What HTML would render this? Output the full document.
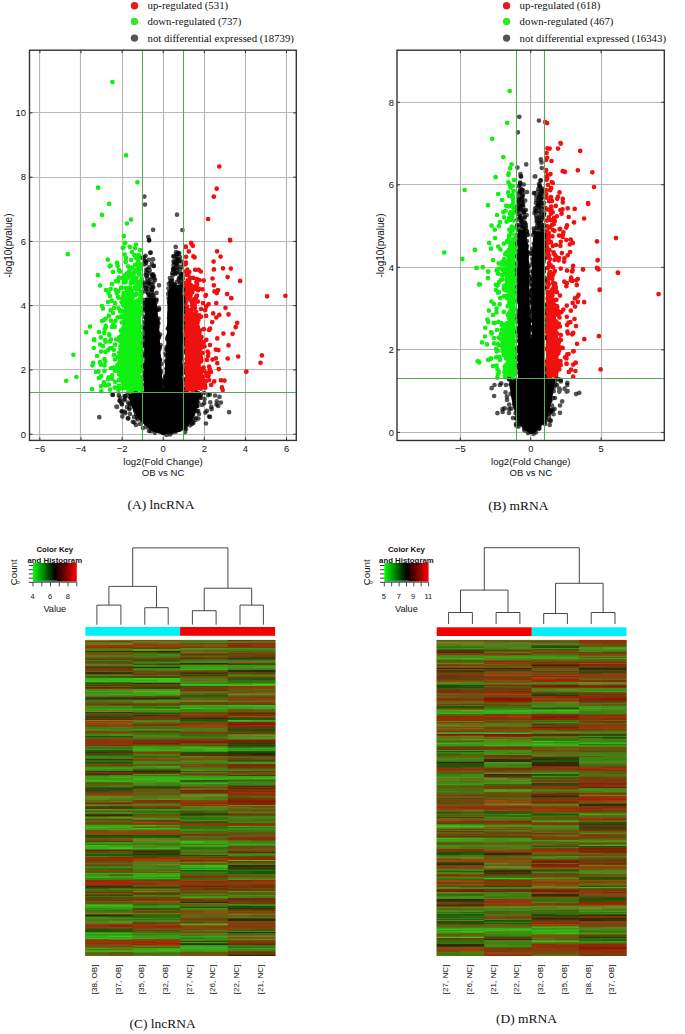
<!DOCTYPE html>
<html><head><meta charset="utf-8"><title>figure</title>
<style>html,body{margin:0;padding:0;background:#fff;}svg{display:block;}</style>
</head><body>
<svg width="685" height="1034" viewBox="0 0 685 1034">
<rect width="685" height="1034" fill="#fff"/>
<line x1="39.50" y1="50.2" x2="39.50" y2="440.4" stroke="#b8b8b8" stroke-width="1.2"/>
<line x1="80.50" y1="50.2" x2="80.50" y2="440.4" stroke="#b8b8b8" stroke-width="1.2"/>
<line x1="122.50" y1="50.2" x2="122.50" y2="440.4" stroke="#b8b8b8" stroke-width="1.2"/>
<line x1="163.50" y1="50.2" x2="163.50" y2="440.4" stroke="#b8b8b8" stroke-width="1.2"/>
<line x1="204.50" y1="50.2" x2="204.50" y2="440.4" stroke="#b8b8b8" stroke-width="1.2"/>
<line x1="245.50" y1="50.2" x2="245.50" y2="440.4" stroke="#b8b8b8" stroke-width="1.2"/>
<line x1="286.50" y1="50.2" x2="286.50" y2="440.4" stroke="#b8b8b8" stroke-width="1.2"/>
<line x1="29.5" y1="434.50" x2="296.3" y2="434.50" stroke="#b8b8b8" stroke-width="1.2"/>
<line x1="29.5" y1="369.50" x2="296.3" y2="369.50" stroke="#b8b8b8" stroke-width="1.2"/>
<line x1="29.5" y1="305.50" x2="296.3" y2="305.50" stroke="#b8b8b8" stroke-width="1.2"/>
<line x1="29.5" y1="241.50" x2="296.3" y2="241.50" stroke="#b8b8b8" stroke-width="1.2"/>
<line x1="29.5" y1="177.50" x2="296.3" y2="177.50" stroke="#b8b8b8" stroke-width="1.2"/>
<line x1="29.5" y1="112.50" x2="296.3" y2="112.50" stroke="#b8b8b8" stroke-width="1.2"/>
<line x1="460.50" y1="50.2" x2="460.50" y2="440.5" stroke="#b8b8b8" stroke-width="1.2"/>
<line x1="530.50" y1="50.2" x2="530.50" y2="440.5" stroke="#b8b8b8" stroke-width="1.2"/>
<line x1="601.50" y1="50.2" x2="601.50" y2="440.5" stroke="#b8b8b8" stroke-width="1.2"/>
<line x1="397" y1="432.50" x2="664.3" y2="432.50" stroke="#b8b8b8" stroke-width="1.2"/>
<line x1="397" y1="349.50" x2="664.3" y2="349.50" stroke="#b8b8b8" stroke-width="1.2"/>
<line x1="397" y1="267.50" x2="664.3" y2="267.50" stroke="#b8b8b8" stroke-width="1.2"/>
<line x1="397" y1="184.50" x2="664.3" y2="184.50" stroke="#b8b8b8" stroke-width="1.2"/>
<line x1="397" y1="102.50" x2="664.3" y2="102.50" stroke="#b8b8b8" stroke-width="1.2"/>
<polygon points="128.0,300.0 141.0,300.0 141.0,390.0 123.0,390.0 121.0,378.0 119.0,362.0 121.0,342.0 123.0,316.0" fill="#10f010"/>
<path d="M130.6 292.0h0M118.0 281.4h0M127.8 386.1h0M127.7 305.6h0M125.6 307.3h0M129.1 295.8h0M126.1 300.4h0M129.3 319.4h0M115.7 289.9h0M128.2 379.9h0M127.5 366.3h0M129.3 375.4h0M104.5 370.9h0M113.0 272.0h0M132.6 378.0h0M116.8 368.5h0M141.5 336.6h0M125.5 364.5h0M121.6 342.7h0M131.8 390.2h0M121.4 380.5h0M105.5 341.7h0M105.6 385.5h0M132.2 354.5h0M131.6 294.7h0M124.1 371.0h0M127.6 337.4h0M93.2 362.8h0M138.4 287.8h0M104.7 329.1h0M126.4 275.0h0M122.2 331.4h0M119.9 340.5h0M117.9 370.3h0M135.6 323.4h0M104.5 365.4h0M129.3 386.5h0M139.0 289.0h0M125.3 280.9h0M131.9 267.7h0M104.0 382.4h0M123.4 328.1h0M134.4 255.1h0M126.8 311.7h0M136.7 284.5h0M96.0 372.0h0M137.9 285.6h0M129.7 318.7h0M132.3 370.5h0M122.2 298.5h0M86.2 332.3h0M137.5 306.9h0M128.9 357.1h0M141.5 385.7h0M130.6 373.6h0M126.4 324.1h0M132.0 252.0h0M141.5 353.5h0M139.3 307.9h0M113.6 367.7h0M108.8 315.9h0M120.4 368.1h0M122.4 364.8h0M124.1 322.8h0M139.4 285.4h0M137.6 309.8h0M122.8 247.9h0M139.3 255.7h0M127.3 309.9h0M128.9 289.8h0M125.8 297.5h0M128.3 321.3h0M134.2 391.5h0M119.8 359.1h0M107.8 350.4h0M121.8 335.0h0M131.7 313.9h0M119.3 371.7h0M139.0 268.0h0M127.9 340.0h0M126.8 290.2h0M137.6 387.3h0M140.5 291.3h0M141.4 359.2h0M131.2 366.6h0M119.1 337.3h0M127.7 355.9h0M128.1 277.7h0M140.2 333.0h0M138.6 335.0h0M123.6 302.4h0M133.3 354.3h0M135.5 257.4h0M139.3 301.5h0M139.9 282.0h0M136.8 320.6h0M136.0 244.6h0M122.6 329.4h0M136.1 289.1h0M123.8 236.2h0M140.4 299.0h0M142.2 351.3h0M133.8 317.9h0M138.9 321.8h0M125.2 242.9h0M125.6 367.6h0M137.9 313.8h0M133.2 374.5h0M126.0 258.0h0M120.0 371.3h0M125.3 354.5h0M134.1 383.0h0M114.0 355.0h0M127.6 363.9h0M133.6 276.0h0M141.2 280.7h0M127.3 293.6h0M127.3 332.6h0M122.3 341.8h0M131.7 388.4h0M128.1 288.1h0M102.0 321.0h0M120.4 349.1h0M118.4 291.1h0M141.4 309.1h0M94.2 339.3h0M134.0 327.2h0M139.8 263.9h0M141.8 388.9h0M122.9 370.7h0M132.4 308.2h0M136.6 338.3h0M105.9 327.3h0M139.6 350.6h0M141.9 298.8h0M126.7 380.3h0M135.3 390.7h0M110.7 310.2h0M110.0 296.0h0M119.5 388.8h0M134.2 319.5h0M131.9 353.6h0M109.7 348.3h0M129.7 273.6h0M137.1 389.9h0M123.1 305.1h0M121.9 374.2h0M136.0 325.8h0M92.0 389.1h0M130.6 310.2h0M109.6 266.3h0M138.3 384.2h0M125.6 261.9h0M141.8 278.8h0M130.9 318.8h0M125.2 336.1h0M119.4 362.4h0M126.4 357.4h0M134.1 278.2h0M122.2 363.5h0M141.4 326.7h0M94.2 340.2h0M115.8 281.0h0M126.3 344.3h0M136.7 351.5h0M122.7 349.9h0M132.6 272.5h0M141.6 384.0h0M115.1 303.2h0M136.5 256.5h0M131.6 323.9h0M100.8 364.6h0M139.6 274.7h0M128.8 288.9h0M109.3 334.9h0M140.0 326.6h0M118.2 371.1h0M136.8 379.6h0M131.5 290.1h0M129.4 295.5h0M134.1 335.7h0M135.8 271.4h0M111.0 368.0h0M130.7 283.2h0M126.1 155.3h0M132.8 312.3h0M127.1 377.4h0M120.2 375.4h0M135.1 248.1h0M101.3 391.3h0M104.3 332.9h0M127.9 379.6h0M124.5 275.7h0M126.0 277.0h0M132.4 366.1h0M131.1 361.4h0M138.0 257.0h0M128.1 266.3h0M139.8 384.4h0M118.2 297.2h0M111.8 348.2h0M124.1 311.3h0M76.4 377.0h0M121.4 340.8h0M139.2 306.4h0M113.3 324.7h0M108.0 379.0h0M133.3 315.3h0M141.5 359.7h0M126.0 377.9h0M117.0 262.8h0M125.3 376.7h0M132.4 344.0h0M141.8 370.3h0M140.2 286.1h0M123.8 365.5h0M116.1 339.5h0M124.2 315.5h0M67.7 254.2h0M140.3 327.7h0M115.1 381.8h0M138.3 343.3h0M115.0 370.8h0M124.3 372.5h0M126.3 279.3h0M110.6 265.7h0M120.0 271.6h0M133.9 362.3h0M126.4 325.6h0M141.7 391.2h0M141.9 284.2h0M126.2 341.4h0M125.0 243.0h0M100.1 285.5h0M140.7 311.0h0M128.1 365.8h0M141.2 342.6h0M131.4 337.1h0M121.6 376.9h0M73.4 354.8h0M134.0 311.4h0M119.3 340.4h0M117.6 317.4h0M97.0 356.0h0M131.7 355.4h0M138.3 321.6h0M130.3 287.6h0M133.5 282.3h0M133.3 301.5h0M117.6 266.0h0M132.1 276.4h0M124.3 329.1h0M119.7 360.6h0M135.8 358.7h0M118.8 386.2h0M136.9 320.5h0M139.0 350.9h0M123.6 293.0h0M129.3 361.8h0M134.1 312.8h0M131.0 331.4h0M104.6 319.6h0M98.5 371.6h0M102.0 306.0h0M112.0 379.0h0M99.0 378.0h0M131.1 329.1h0M136.4 282.3h0M115.1 344.7h0M126.1 298.8h0M129.9 362.9h0M139.3 382.3h0M137.1 281.5h0M129.9 247.2h0M119.1 380.1h0M141.6 327.4h0M124.3 375.5h0M100.1 344.6h0M132.8 389.5h0M129.9 385.5h0M122.9 302.6h0M139.0 271.5h0M136.8 257.4h0M128.8 382.4h0M103.0 346.1h0M92.5 365.3h0M115.4 321.0h0M132.3 386.9h0M129.1 317.2h0M118.8 277.7h0M125.4 372.9h0M130.7 316.3h0M127.5 273.2h0M141.5 301.8h0M112.0 284.0h0M137.0 314.5h0M131.5 275.1h0M135.4 360.8h0M126.4 367.5h0M140.4 356.8h0M138.1 331.0h0M131.1 219.6h0M133.5 349.5h0M121.7 302.3h0M141.7 338.2h0M131.9 348.9h0M120.5 378.9h0M123.2 351.7h0M125.8 261.6h0M104.5 359.2h0M136.4 338.7h0M131.8 292.3h0M129.3 270.8h0M110.6 289.0h0M133.7 330.3h0M115.8 290.2h0M130.3 303.6h0M135.2 264.8h0M136.3 264.5h0M142.1 360.5h0M111.7 300.7h0M113.0 313.0h0M114.1 307.8h0M123.4 247.6h0M136.7 308.0h0M99.0 332.0h0M128.3 334.1h0M131.2 322.5h0M136.8 328.2h0M121.3 317.3h0M138.7 266.5h0M136.5 283.8h0M110.0 341.3h0M126.5 345.3h0M128.6 319.0h0M137.9 339.5h0M127.3 314.1h0M136.0 390.7h0M121.0 310.9h0M121.7 367.9h0M141.3 389.2h0M138.7 349.6h0M134.3 373.6h0M128.9 292.6h0M141.8 293.5h0M125.4 276.9h0M105.2 361.4h0M128.1 266.3h0M123.3 296.2h0M98.1 187.7h0M123.8 282.3h0M137.2 385.5h0M141.4 307.6h0M120.3 311.4h0M138.6 259.6h0M120.6 339.1h0M138.3 261.7h0M136.3 278.4h0M135.7 277.8h0M122.3 369.6h0M135.7 270.0h0M136.5 308.3h0M129.2 352.2h0M132.3 280.3h0M140.2 295.3h0M118.2 357.2h0M119.2 352.9h0M135.4 294.9h0M131.0 260.0h0M132.8 303.5h0M140.5 267.6h0M115.0 359.5h0M140.0 250.0h0M134.7 320.6h0M134.0 361.1h0M100.0 362.1h0M138.2 387.9h0M128.6 350.7h0M138.3 255.4h0M134.8 323.0h0M124.9 242.9h0M138.5 324.5h0M122.7 343.4h0M132.8 333.9h0M118.3 297.7h0M114.7 387.6h0M108.8 384.7h0M142.1 355.7h0M125.6 325.6h0M131.5 343.9h0M126.3 274.0h0M125.9 335.1h0M137.2 300.7h0M130.8 353.5h0M123.0 348.4h0M125.4 287.9h0M111.8 348.0h0M141.0 378.9h0M136.0 328.4h0M119.0 270.0h0M101.1 376.2h0M130.7 360.3h0M122.8 388.0h0M134.5 367.5h0M106.0 290.0h0M112.0 327.0h0M125.1 324.9h0M127.2 356.5h0M101.2 386.2h0M122.1 348.7h0M124.7 332.7h0M66.2 380.8h0M107.8 259.7h0M131.4 350.9h0M140.1 299.1h0M136.8 382.1h0M136.6 258.2h0M127.0 303.0h0M140.5 346.9h0M136.3 293.7h0M116.7 293.3h0M141.2 366.5h0M93.7 225.1h0M137.2 356.4h0M128.3 358.8h0M123.9 361.3h0M139.0 373.4h0M129.6 316.8h0M121.1 287.9h0M137.8 341.9h0M140.7 268.8h0M121.7 377.8h0M137.9 344.7h0M138.8 326.0h0M121.2 287.7h0M137.4 182.3h0M135.8 348.1h0M108.6 293.0h0M134.5 383.9h0M140.0 282.9h0M136.3 347.4h0M139.5 368.3h0M118.3 389.9h0M141.7 279.9h0M114.8 326.8h0M108.8 377.3h0M139.3 369.4h0M130.8 383.1h0M126.2 372.8h0M137.3 352.6h0M105.7 325.9h0M128.4 295.0h0M129.6 368.3h0M128.8 333.9h0M123.8 331.2h0M138.5 386.1h0M109.3 334.4h0M128.4 306.7h0M129.5 343.0h0M136.4 269.5h0M126.9 223.5h0M124.0 358.5h0M120.9 330.7h0M137.6 346.1h0M102.0 214.9h0M120.6 346.0h0M117.2 262.9h0M124.1 357.9h0M125.9 312.3h0M121.3 316.4h0M132.4 297.9h0M134.4 369.2h0M103.0 308.6h0M128.5 391.6h0M137.1 347.7h0M130.2 334.8h0M141.5 346.8h0M119.0 374.5h0M133.7 375.5h0M121.7 278.0h0M110.9 320.6h0M133.5 378.4h0M140.6 285.2h0M138.2 314.1h0M129.7 246.9h0M134.5 376.0h0M142.0 363.3h0M124.3 296.6h0M131.5 281.3h0M138.2 365.2h0M105.5 318.8h0M139.5 353.7h0M118.6 308.3h0M112.4 82.1h0M136.8 333.2h0M138.1 265.7h0M89.9 326.6h0M141.7 313.5h0M101.1 351.6h0M135.5 340.9h0M124.1 381.8h0M130.7 302.6h0M117.3 369.3h0M136.8 304.2h0M121.8 322.5h0M132.1 304.5h0M105.4 352.0h0M122.4 345.9h0M105.2 340.0h0M133.3 337.6h0M126.8 381.2h0M100.8 337.4h0M108.0 302.0h0M109.1 203.9h0M128.5 336.6h0M124.0 381.6h0M139.2 263.8h0M139.2 274.3h0M134.5 272.4h0M128.5 275.5h0M117.3 365.0h0M128.8 299.9h0M111.0 339.4h0M113.8 349.8h0M97.9 275.2h0M138.6 256.9h0M124.6 254.6h0M122.7 383.6h0M127.7 275.6h0M112.2 375.3h0M124.3 296.1h0M134.7 334.1h0M141.8 380.9h0M93.8 348.0h0M125.6 282.3h0M110.0 389.6h0M126.7 304.4h0M140.8 347.6h0M135.1 287.0h0M129.6 310.8h0" stroke="#10f010" stroke-width="4.7" stroke-linecap="round" fill="none"/>
<polygon points="185.0,308.0 192.0,308.0 197.0,322.0 201.0,338.0 200.0,352.0 201.0,368.0 205.0,378.0 200.0,390.0 185.0,390.0" fill="#f01010"/>
<path d="M193.4 256.4h0M212.5 278.5h0M194.6 364.8h0M191.0 320.2h0M195.9 373.4h0M196.1 311.8h0M200.8 271.5h0M186.8 319.8h0M194.7 288.9h0M193.9 302.1h0M198.7 378.5h0M187.4 390.8h0M193.7 346.1h0M237.2 322.8h0M199.9 359.0h0M196.8 318.1h0M192.2 305.5h0M191.4 321.7h0M198.6 332.3h0M195.8 369.6h0M187.1 308.4h0M193.9 385.3h0M240.1 280.9h0M195.8 357.7h0M202.4 289.3h0M202.1 347.2h0M204.5 346.4h0M230.8 268.6h0M195.4 334.7h0M186.9 365.3h0M193.0 356.6h0M227.6 277.1h0M246.4 371.6h0M184.9 351.8h0M232.6 333.8h0M189.8 348.4h0M187.9 328.5h0M200.5 339.4h0M200.9 357.7h0M193.2 317.8h0M198.3 379.8h0M200.0 388.1h0M192.0 353.4h0M192.2 308.9h0M188.1 354.3h0M186.9 366.3h0M193.9 345.1h0M198.7 269.8h0M192.3 387.5h0M190.0 296.2h0M199.9 330.4h0M186.3 367.8h0M206.1 315.9h0M192.4 348.4h0M196.4 296.6h0M187.9 389.2h0M192.3 286.4h0M197.4 371.1h0M185.8 309.4h0M185.7 389.8h0M201.0 388.6h0M198.8 374.6h0M185.8 246.6h0M188.9 358.7h0M188.1 348.4h0M189.8 313.0h0M213.2 313.4h0M200.5 336.8h0M188.8 294.0h0M194.0 321.8h0M187.8 386.2h0M216.3 303.2h0M205.9 295.1h0M189.0 330.9h0M209.7 369.0h0M216.8 293.1h0M190.5 370.9h0M194.6 304.7h0M190.7 287.8h0M216.7 188.7h0M188.4 310.0h0M194.5 327.4h0M217.3 338.4h0M200.4 375.0h0M185.5 343.3h0M192.7 355.3h0M207.6 351.5h0M186.4 297.8h0M186.3 335.0h0M191.7 340.5h0M187.3 269.7h0M202.8 369.1h0M196.4 285.5h0M186.8 378.6h0M206.4 373.6h0M198.4 320.1h0M193.3 349.3h0M199.0 350.0h0M189.5 314.7h0M224.5 380.6h0M189.4 337.6h0M197.1 376.6h0M189.2 371.2h0M197.4 333.8h0M192.1 338.3h0M201.0 376.4h0M190.6 331.4h0M193.9 365.1h0M199.3 379.0h0M185.8 363.9h0M230.2 240.4h0M213.9 285.3h0M205.2 310.0h0M195.7 366.1h0M215.8 358.3h0M192.2 342.5h0M185.2 372.5h0M195.0 307.8h0M190.5 294.9h0M184.2 299.7h0M210.1 328.7h0M208.6 375.8h0M189.5 286.1h0M188.6 338.6h0M209.0 330.0h0M201.3 368.9h0M185.7 264.1h0M205.5 295.8h0M191.8 341.0h0M201.5 360.2h0M195.0 369.0h0M194.0 375.3h0M197.1 284.4h0M214.2 381.4h0M194.0 374.0h0M194.4 354.4h0M192.2 336.5h0M185.6 310.3h0M193.3 391.1h0M213.6 261.6h0M195.2 269.8h0M195.6 322.2h0M193.5 360.8h0M216.3 317.5h0M196.9 344.0h0M267.1 296.3h0M185.4 311.5h0M196.6 350.6h0M190.0 358.3h0M191.0 290.0h0M188.5 275.3h0M213.8 196.7h0M197.1 371.0h0M190.9 314.5h0M187.7 290.0h0M199.1 381.7h0M195.0 378.0h0M214.5 291.4h0M199.6 333.9h0M200.3 382.2h0M193.3 380.5h0M189.3 272.1h0M202.5 379.3h0M195.1 345.1h0M195.8 318.8h0M260.5 362.8h0M213.9 269.4h0M185.9 329.8h0M204.3 371.1h0M208.6 372.5h0M220.6 256.6h0M187.8 350.6h0M185.8 247.0h0M196.3 362.4h0M218.3 350.2h0M185.3 271.5h0M196.0 372.4h0M188.8 251.4h0M192.8 245.8h0M221.9 387.4h0M191.6 313.1h0M197.9 353.5h0M219.3 166.5h0M185.3 291.6h0M201.0 309.0h0M192.0 302.2h0M196.2 297.5h0M199.3 280.1h0M194.2 315.7h0M215.8 349.6h0M189.9 356.2h0M187.6 298.5h0M198.7 288.5h0M203.7 280.6h0M192.6 245.6h0M199.1 355.4h0M191.8 389.8h0M223.0 268.3h0M212.5 359.6h0M193.3 317.0h0M189.0 326.6h0M193.7 299.4h0M192.9 325.0h0M186.9 344.7h0M195.9 341.6h0M195.2 332.4h0M195.1 365.6h0M188.5 349.7h0M185.8 345.0h0M188.2 297.5h0M209.1 366.5h0M187.0 275.0h0M193.2 277.9h0M189.5 293.8h0M202.3 370.7h0M227.7 358.5h0M200.6 358.2h0M193.1 356.2h0M192.1 290.0h0M187.3 312.9h0M199.1 340.6h0M186.2 301.6h0M186.9 359.6h0M194.6 257.3h0M220.9 380.3h0M196.4 333.9h0M197.5 363.1h0M201.0 316.7h0M193.0 381.0h0M192.6 363.0h0M200.0 351.8h0M195.8 364.7h0M200.9 347.9h0M201.5 337.1h0M184.4 322.1h0M196.9 279.1h0M195.1 390.5h0M209.0 380.0h0M186.0 319.6h0M184.0 283.0h0M218.8 369.1h0M217.3 363.2h0M201.5 353.6h0M210.0 345.0h0M202.0 377.4h0M235.7 327.2h0M186.0 262.5h0M189.3 281.2h0M206.6 380.8h0M187.6 280.3h0M197.2 315.3h0M191.5 367.3h0M196.4 282.1h0M194.8 350.2h0M187.3 331.7h0M186.1 256.8h0M203.8 329.2h0M194.6 323.8h0M192.7 316.4h0M199.9 343.0h0M194.7 363.8h0M188.8 282.0h0M188.8 289.4h0M185.2 391.1h0M185.0 298.8h0M190.0 312.7h0M192.2 303.4h0M219.3 314.9h0M185.8 287.3h0M225.5 307.8h0M197.9 301.6h0M231.4 298.2h0M185.2 295.2h0M194.3 286.8h0M223.4 333.6h0M261.9 355.4h0M187.2 335.0h0M194.7 342.0h0M188.0 345.9h0M206.1 306.7h0M200.9 386.7h0M231.1 298.1h0M190.6 338.2h0M186.3 346.1h0M192.3 292.2h0M197.0 295.5h0M186.9 310.7h0M185.7 331.2h0M186.7 274.7h0M189.9 357.2h0M190.8 300.0h0M188.6 361.2h0M188.8 384.6h0M198.1 290.2h0M190.7 334.4h0M189.7 352.2h0M184.5 368.3h0M199.6 383.1h0M194.7 385.6h0M191.3 243.4h0M184.7 383.5h0M195.6 351.0h0M201.5 352.5h0M200.1 379.4h0M238.2 356.5h0M189.0 325.6h0M211.0 372.0h0M186.9 337.3h0M193.3 380.9h0M206.4 375.8h0M208.1 219.0h0M191.1 242.9h0M195.0 359.1h0M218.0 290.2h0M189.2 375.8h0M187.0 293.7h0M192.3 303.0h0M185.8 382.6h0M202.5 382.3h0M198.1 347.5h0M201.6 381.9h0M184.9 342.1h0M205.3 387.7h0M200.4 376.2h0M203.6 367.6h0M188.7 324.0h0M285.4 295.8h0M201.0 361.6h0M206.9 359.9h0M184.1 264.5h0M228.5 345.3h0M201.7 387.6h0M193.5 369.4h0M192.2 374.0h0M190.5 329.4h0M211.2 384.9h0M196.0 385.7h0M203.0 303.0h0M208.6 304.2h0M197.7 384.6h0M184.2 317.9h0M197.9 327.1h0M198.9 355.7h0M199.4 315.4h0M186.5 284.8h0M185.2 339.1h0M206.4 339.8h0M194.6 328.3h0M230.0 239.8h0M191.1 325.9h0M194.5 387.2h0M184.9 370.2h0M186.1 364.5h0M208.3 353.3h0M197.3 377.5h0M197.7 361.5h0M190.8 285.2h0M222.7 390.0h0M201.3 346.1h0M186.1 383.0h0M197.8 374.1h0M186.4 391.0h0M191.7 362.5h0M204.9 384.9h0M198.0 366.4h0M227.1 294.1h0M190.4 372.7h0M197.5 323.1h0M212.2 322.1h0M217.1 251.3h0M186.3 288.7h0M246.2 371.8h0M187.4 336.0h0M189.9 278.0h0M203.9 342.1h0M202.6 353.0h0M228.5 314.4h0M208.0 356.0h0M185.3 326.8h0M189.7 361.0h0M185.3 303.1h0M187.1 306.5h0M190.6 295.2h0" stroke="#f01010" stroke-width="4.7" stroke-linecap="round" fill="none"/>
<polygon points="145.0,298.0 155.0,298.0 157.0,305.0 159.3,330.0 161.0,360.0 162.8,388.0 163.6,388.0 165.5,360.0 167.0,330.0 167.5,300.0 168.5,290.0 172.0,285.0 182.5,285.0 182.5,392.5 201.0,392.5 198.5,402.5 196.0,411.3 192.5,420.0 187.5,427.0 180.5,431.8 163.0,434.8 153.0,431.8 147.0,427.0 139.5,420.0 133.5,411.3 130.0,402.5 128.5,394.0 144.0,392.5" fill="#000"/>
<path d="M175.3 285.9h0M192.0 424.0h0M172.2 383.3h0M196.5 392.5h0M179.0 331.0h0M181.9 290.3h0M147.3 382.6h0M165.2 376.5h0M124.9 396.4h0M149.7 385.5h0M149.1 240.0h0M148.5 304.5h0M160.8 380.1h0M172.2 273.2h0M194.1 419.0h0M149.7 322.5h0M153.4 309.8h0M181.9 290.5h0M177.3 323.4h0M199.7 395.5h0M150.0 331.2h0M182.5 342.2h0M169.0 317.9h0M171.0 314.4h0M147.2 340.0h0M197.3 396.6h0M178.2 304.0h0M146.5 411.1h0M183.1 297.9h0M146.8 276.9h0M159.6 347.0h0M151.9 263.6h0M157.4 376.8h0M170.5 282.6h0M171.4 398.3h0M177.2 267.9h0M182.9 426.4h0M148.9 329.4h0M184.6 393.7h0M154.0 307.6h0M150.6 385.3h0M181.2 351.3h0M157.5 310.1h0M158.3 368.2h0M124.8 411.7h0M168.3 336.5h0M198.4 418.5h0M147.2 278.6h0M173.7 292.6h0M153.1 331.1h0M147.4 383.1h0M149.4 345.1h0M169.7 375.4h0M152.8 294.7h0M150.6 410.3h0M180.1 283.5h0M183.1 396.3h0M145.7 274.9h0M180.7 401.7h0M204.1 392.8h0M153.8 265.9h0M155.8 337.3h0M154.7 333.3h0M170.2 325.5h0M171.5 377.3h0M150.7 390.6h0M134.0 417.0h0M148.1 282.5h0M166.7 420.9h0M152.8 336.0h0M165.7 422.1h0M173.3 271.5h0M150.5 353.0h0M153.3 364.4h0M159.4 429.7h0M148.5 280.6h0M148.6 339.5h0M139.8 394.6h0M182.1 300.9h0M181.6 369.0h0M152.1 331.6h0M144.1 366.2h0M170.0 329.0h0M171.8 374.2h0M169.4 300.0h0M161.1 399.5h0M167.5 403.8h0M144.8 336.5h0M187.1 401.1h0M174.4 305.7h0M132.0 403.0h0M183.0 289.6h0M170.0 429.0h0M206.0 423.5h0M174.3 262.2h0M155.3 376.8h0M166.7 346.9h0M185.1 432.1h0M171.4 384.8h0M146.0 368.8h0M180.9 286.4h0M185.7 400.8h0M190.7 419.1h0M148.0 413.6h0M181.7 310.6h0M123.9 400.3h0M147.3 406.8h0M154.1 389.9h0M141.4 415.5h0M156.1 339.4h0M209.9 394.6h0M153.9 313.5h0M183.1 302.3h0M169.1 324.9h0M173.9 269.2h0M145.9 365.5h0M154.8 432.8h0M171.0 413.7h0M171.8 289.8h0M181.8 392.2h0M160.5 345.1h0M162.0 419.5h0M192.0 408.9h0M157.9 357.2h0M170.4 326.2h0M156.9 337.9h0M167.1 379.6h0M173.9 342.3h0M169.9 278.1h0M145.6 287.4h0M175.3 268.4h0M170.2 368.8h0M178.0 422.4h0M211.6 409.2h0M145.3 330.8h0M151.1 367.3h0M159.6 360.9h0M154.8 307.7h0M144.9 353.6h0M162.1 393.4h0M151.8 342.1h0M121.4 403.4h0M169.7 360.8h0M150.8 361.0h0M184.2 400.2h0M170.9 304.8h0M148.1 315.7h0M129.4 403.9h0M151.9 419.6h0M193.0 411.9h0M168.3 347.0h0M140.9 396.6h0M178.3 360.6h0M143.8 418.2h0M171.6 345.4h0M189.5 398.8h0M145.1 291.3h0M153.7 377.0h0M156.9 413.2h0M181.0 277.5h0M174.9 402.7h0M144.0 332.8h0M134.3 422.5h0M157.6 320.3h0M196.8 405.1h0M182.3 276.3h0M168.6 298.2h0M181.5 357.7h0M170.1 400.5h0M180.7 296.3h0M180.8 275.7h0M150.2 295.3h0M173.4 409.0h0M199.0 414.0h0M171.5 279.2h0M155.0 325.7h0M150.0 371.5h0M171.6 283.4h0M99.3 417.2h0M135.0 417.0h0M179.9 402.5h0M151.5 274.5h0M146.1 262.9h0M173.2 297.6h0M169.7 412.2h0M175.8 287.3h0M155.6 431.3h0M161.1 399.0h0M184.8 428.5h0M195.6 419.9h0M216.8 401.4h0M148.9 403.9h0M178.0 402.2h0M150.3 341.2h0M152.5 277.0h0M146.2 350.7h0M145.0 204.5h0M172.0 357.5h0M179.4 342.5h0M166.8 381.4h0M152.1 289.5h0M121.7 411.5h0M149.2 267.2h0M150.7 431.2h0M161.6 379.5h0M155.0 280.0h0M127.0 407.0h0M177.3 260.6h0M174.1 374.2h0M155.1 346.0h0M150.2 348.3h0M145.0 402.6h0M180.8 413.0h0M160.8 392.3h0M170.3 302.1h0M159.6 391.8h0M147.6 316.2h0M180.5 385.7h0M160.7 372.6h0M173.5 327.7h0M183.0 387.9h0M118.8 395.0h0M158.3 381.6h0M161.4 417.0h0M175.3 272.0h0M168.9 358.0h0M143.7 366.4h0M148.2 302.2h0M195.3 396.8h0M150.9 425.9h0M153.9 391.7h0M144.2 328.5h0M151.8 424.8h0M150.7 252.8h0M170.0 345.0h0M169.0 302.3h0M132.3 394.8h0M173.3 329.4h0M181.2 261.6h0M167.7 375.5h0M177.6 311.5h0M177.6 254.0h0M179.2 253.3h0M158.9 336.3h0M181.2 290.8h0M167.3 339.3h0M148.5 273.2h0M167.8 328.7h0M171.7 345.3h0M172.0 279.0h0M167.3 362.9h0M168.2 293.9h0M144.0 282.6h0M153.0 304.4h0M172.0 321.8h0M181.6 320.5h0M181.9 339.9h0M149.3 389.5h0M170.0 312.8h0M179.2 411.5h0M172.0 300.3h0M150.7 349.2h0M204.3 403.1h0M176.0 340.7h0M153.7 387.9h0M161.2 382.8h0M152.5 429.3h0M172.8 333.5h0M153.5 427.2h0" stroke="#000" stroke-width="4.7" stroke-linecap="round" fill="none" stroke-opacity="0.68"/>
<path d="M172.6 412.8h0M175.7 343.2h0M153.5 384.8h0M198.2 402.5h0M181.4 373.9h0M146.8 427.1h0M153.2 365.2h0M181.4 398.4h0M181.9 352.9h0M152.4 340.6h0M149.8 332.6h0M168.5 371.0h0M177.5 272.2h0M162.4 384.7h0M150.3 279.4h0M158.0 355.1h0M145.9 422.7h0M181.2 384.1h0M176.7 312.6h0M182.8 380.0h0M171.0 306.8h0M116.4 406.6h0M145.1 310.7h0M168.1 366.8h0M181.6 281.2h0M146.6 330.4h0M190.1 419.6h0M182.4 327.2h0M112.6 394.6h0M148.1 380.4h0M128.3 395.5h0M175.0 273.9h0M169.9 363.5h0M177.1 343.2h0M146.8 361.1h0M176.0 252.2h0M208.1 395.2h0M147.7 353.0h0M181.4 303.7h0M176.9 282.0h0M182.9 313.8h0M181.2 266.7h0M175.6 387.6h0M181.1 399.0h0M121.9 411.3h0M181.1 366.3h0M117.0 406.9h0M170.2 345.5h0M147.3 311.6h0M153.1 229.8h0M154.0 350.7h0M153.0 357.5h0M150.9 287.2h0M151.4 297.5h0M174.3 415.3h0M159.7 398.6h0M119.8 400.8h0M197.2 411.2h0M178.0 344.7h0M182.8 397.3h0M175.9 347.2h0M158.9 364.3h0M145.7 416.9h0M186.0 429.0h0M146.6 369.0h0M148.1 321.4h0M196.1 406.4h0M159.1 360.0h0M174.3 404.9h0M178.5 325.0h0M166.8 407.8h0M159.0 309.5h0M169.1 358.6h0M145.0 321.8h0M178.2 418.7h0M148.3 294.0h0M144.2 338.1h0M182.4 358.9h0M179.2 359.2h0M156.5 361.3h0M180.9 322.2h0M174.0 379.8h0M168.9 383.4h0M198.0 393.2h0M173.5 393.6h0M173.5 261.3h0M181.7 267.0h0M162.2 407.9h0M149.9 352.1h0M179.9 300.1h0M180.6 365.4h0M193.1 414.2h0M162.3 381.0h0M177.2 254.0h0M176.2 400.3h0M204.6 399.0h0M175.5 389.1h0M182.6 306.2h0M154.6 351.9h0M172.0 280.8h0M173.6 256.4h0M130.0 414.0h0M164.1 418.4h0M155.7 378.1h0M150.9 313.6h0M153.8 418.2h0M161.2 363.9h0M151.1 334.2h0M166.8 360.6h0M154.6 306.3h0M125.3 413.2h0M145.6 308.8h0M127.4 394.4h0M156.1 414.9h0M182.3 328.5h0M185.2 409.6h0M143.6 376.3h0M169.0 382.7h0M176.6 258.7h0M156.2 334.7h0M154.6 400.2h0M173.1 315.4h0M179.8 415.9h0M149.5 300.8h0M181.2 335.1h0M127.8 418.3h0M176.1 318.0h0M205.4 412.6h0M182.6 301.3h0M129.0 396.3h0M129.9 404.6h0M157.9 323.1h0M194.1 407.3h0M155.9 368.9h0M168.5 421.4h0M173.1 268.6h0M181.0 313.6h0M138.8 398.9h0M169.8 320.0h0M146.9 410.3h0M147.6 351.8h0M149.3 283.4h0M132.1 398.4h0M181.8 381.0h0M153.2 372.4h0M184.8 400.4h0M146.8 338.2h0M142.7 258.1h0M151.6 338.1h0M168.6 367.9h0M177.1 263.7h0M170.8 285.6h0M150.2 363.2h0M151.8 389.9h0M145.7 318.0h0M171.9 337.4h0M145.6 255.8h0M146.2 269.8h0M201.4 397.5h0M149.4 316.2h0M177.0 214.7h0M142.9 393.7h0M174.0 338.9h0M167.1 419.9h0M155.5 325.0h0M157.2 389.4h0M163.3 410.0h0M144.1 372.6h0M147.4 281.7h0M165.9 391.7h0M149.3 398.9h0M178.7 372.8h0M167.7 362.3h0M144.4 344.7h0M144.6 264.5h0M177.5 298.4h0M177.1 270.2h0M165.6 376.9h0M174.3 408.1h0M168.4 328.2h0M170.2 320.3h0M150.2 296.0h0M160.0 388.4h0M176.1 424.8h0M144.4 365.2h0M178.8 351.8h0M220.9 402.5h0M167.7 400.8h0M156.4 357.1h0M172.3 341.3h0M151.2 322.2h0M177.4 340.7h0M137.4 411.6h0M150.9 408.0h0M153.9 298.5h0M177.0 331.6h0M151.9 364.9h0M152.9 304.5h0M144.5 378.8h0M190.0 399.5h0M171.3 412.0h0M176.4 330.9h0M155.3 351.1h0M178.1 291.1h0M180.3 295.0h0M129.4 408.0h0M182.1 296.4h0M172.2 367.5h0M116.8 406.8h0M182.9 352.8h0M167.4 337.5h0M149.7 359.0h0M154.1 356.4h0M157.5 309.6h0M154.3 358.2h0M158.5 388.1h0M174.2 392.3h0M146.9 347.0h0M173.4 406.4h0M166.7 430.5h0M167.9 350.4h0M158.5 318.5h0M153.6 371.4h0M164.4 399.8h0M151.5 343.2h0M149.4 381.0h0M181.7 274.1h0M137.6 419.3h0M170.6 432.3h0M181.4 386.4h0M172.3 369.6h0M173.4 371.5h0M145.6 261.7h0M128.0 402.5h0M209.0 416.5h0M229.1 412.2h0M171.6 371.5h0M218.3 406.0h0M170.3 386.3h0M179.0 281.3h0M179.1 277.7h0M155.3 330.2h0M154.2 414.3h0M153.0 370.2h0M150.2 350.5h0M179.6 361.2h0M145.3 384.5h0M148.2 376.0h0M149.0 391.0h0M153.9 296.9h0M152.7 295.0h0M176.7 401.0h0M160.2 334.6h0M168.9 405.5h0M122.3 416.4h0M144.6 303.2h0M177.2 296.9h0M170.7 348.0h0M186.7 406.5h0M215.1 395.5h0M149.1 240.6h0M142.2 396.3h0M160.5 411.8h0M147.8 302.1h0M153.9 327.5h0M172.5 312.2h0M146.4 425.6h0M150.0 424.6h0M150.8 396.8h0" stroke="#000" stroke-width="4.7" stroke-linecap="round" fill="none" stroke-opacity="0.68"/>
<path d="M143.9 342.4h0M134.8 399.8h0M146.5 348.7h0M143.9 356.0h0M175.8 247.0h0M144.2 257.4h0M153.4 354.4h0M150.4 342.7h0M158.2 335.1h0M140.5 402.3h0M148.0 292.4h0M146.0 404.4h0M189.2 397.6h0M175.8 359.3h0M150.3 252.6h0M125.0 399.0h0M145.0 355.5h0M190.9 413.1h0M173.2 270.2h0M169.6 330.3h0M165.0 380.7h0M172.3 349.7h0M174.7 284.8h0M153.5 265.9h0M150.4 373.5h0M146.2 353.6h0M173.2 347.2h0M166.7 406.8h0M181.4 306.0h0M148.7 347.6h0M156.0 301.9h0M181.1 354.4h0M166.5 434.9h0M181.1 388.8h0M183.1 307.7h0M168.8 341.8h0M165.2 383.6h0M177.5 327.3h0M158.8 405.3h0M143.9 316.5h0M151.0 358.6h0M196.4 396.4h0M150.5 339.6h0M171.1 353.3h0M181.0 415.5h0M149.0 259.8h0M173.7 372.3h0M171.8 338.8h0M160.1 422.1h0M177.3 308.1h0M153.0 259.3h0M181.7 352.1h0M173.1 293.3h0M182.4 230.0h0M186.9 393.6h0M146.7 275.8h0M173.9 385.6h0M178.9 417.7h0M146.0 422.9h0M153.1 259.3h0M178.7 279.6h0M182.5 370.2h0M168.8 371.7h0M171.2 287.1h0M150.5 407.3h0M158.3 371.5h0M172.3 403.6h0M164.2 428.6h0M179.1 424.1h0M149.8 318.7h0M156.8 362.7h0M132.8 421.8h0M171.5 388.9h0M166.3 379.8h0M119.6 400.8h0M175.7 265.4h0M206.9 410.9h0M170.1 322.0h0M175.7 246.9h0M181.6 285.5h0M183.0 311.4h0M154.1 320.0h0M139.6 405.1h0M158.1 365.0h0M196.0 418.0h0M175.6 369.3h0M166.3 355.7h0M158.9 374.3h0M140.3 402.9h0M195.7 397.0h0M174.5 331.8h0M166.7 349.0h0M148.5 303.6h0M152.6 377.3h0M180.9 382.6h0M154.0 276.0h0M144.1 308.1h0M177.1 259.3h0M149.6 340.4h0M177.0 263.0h0M141.0 396.5h0M155.2 348.9h0M170.4 422.7h0M176.3 392.6h0M174.9 268.4h0M177.8 428.4h0M154.4 359.9h0M148.8 375.1h0M172.0 425.7h0M145.0 375.2h0M139.7 411.9h0M175.9 392.8h0M168.1 348.8h0M177.5 315.0h0M147.2 343.1h0M177.2 265.7h0M173.6 329.5h0M149.7 328.9h0M150.9 392.5h0M181.0 408.1h0M191.3 420.7h0M175.7 429.7h0M172.4 363.1h0M154.8 356.8h0M176.7 304.5h0M149.7 270.4h0M182.1 275.7h0M147.9 292.9h0M154.0 391.9h0M157.4 409.4h0M156.0 405.9h0M163.0 406.6h0M156.5 414.7h0M180.1 364.7h0M159.7 347.1h0M175.9 393.4h0M196.3 401.1h0M172.7 390.2h0M178.3 356.6h0M172.3 363.2h0M170.6 280.9h0M160.1 384.8h0M147.1 380.9h0M112.8 395.0h0M149.2 329.8h0M181.1 353.6h0M151.6 334.5h0M170.3 332.3h0M173.4 292.6h0M147.2 311.2h0M171.7 286.3h0M177.7 308.9h0M159.0 308.1h0M182.5 344.5h0M179.9 346.3h0M175.2 331.0h0M150.0 381.7h0M152.8 323.0h0M144.5 284.7h0M181.6 372.7h0M165.1 390.5h0M147.6 269.4h0M182.8 349.3h0M182.1 407.8h0M154.6 370.4h0M144.2 286.6h0M174.3 297.4h0M169.2 429.9h0M180.9 384.2h0M179.3 326.8h0M180.1 423.3h0M174.1 386.8h0M149.0 431.0h0M182.1 350.4h0M180.5 346.2h0M146.3 390.2h0M146.7 383.3h0M164.0 424.3h0M157.9 336.7h0M172.1 332.4h0M144.5 305.4h0M145.5 326.9h0M178.7 316.8h0M181.1 336.2h0M154.1 405.4h0M188.7 416.0h0M160.1 374.0h0M183.2 339.0h0M176.2 265.3h0M145.2 367.3h0M168.4 365.5h0M176.0 336.3h0M150.3 427.0h0M210.3 402.3h0M176.8 353.9h0M170.3 390.4h0M154.3 324.7h0M160.1 359.7h0M143.0 428.0h0M163.4 432.8h0M199.3 395.4h0M166.6 368.5h0M183.6 428.0h0M178.7 350.4h0M192.6 421.8h0M137.4 404.3h0M148.5 327.2h0M145.7 405.8h0M176.7 254.2h0M196.9 405.9h0M146.0 289.1h0M157.3 422.6h0M194.2 411.2h0M151.2 341.2h0M129.4 409.3h0M171.0 416.1h0M166.8 377.1h0M160.5 390.6h0M183.0 378.8h0M202.0 405.0h0M147.0 285.6h0M190.0 425.3h0M178.8 424.1h0M150.4 385.6h0M155.4 388.1h0M177.9 309.3h0M153.4 282.6h0M148.9 283.5h0M135.6 393.0h0M173.5 265.0h0M167.3 371.2h0M179.0 357.8h0M162.2 386.3h0M152.2 275.0h0M169.4 334.9h0M148.7 362.1h0M177.3 299.3h0M176.9 367.6h0M180.0 359.8h0M170.6 334.5h0M144.4 196.6h0M180.2 269.4h0M149.3 294.3h0M173.0 364.8h0M152.1 427.8h0M146.5 319.3h0M151.8 291.3h0M156.5 421.9h0M177.4 357.0h0M154.4 400.3h0M158.4 323.4h0M176.4 298.7h0M137.0 417.7h0M179.2 259.6h0M174.1 373.5h0M152.5 325.2h0M153.7 353.0h0M156.2 300.1h0M182.9 393.3h0M143.4 415.1h0M145.4 373.7h0M159.3 372.8h0M165.6 402.0h0M171.8 361.6h0M153.3 287.3h0M153.6 382.8h0M170.7 280.9h0M146.9 285.3h0M160.6 370.8h0" stroke="#000" stroke-width="4.7" stroke-linecap="round" fill="none" stroke-opacity="0.68"/>
<path d="M146.8 378.2h0M166.5 349.4h0M200.8 394.4h0M146.9 374.4h0M177.7 257.7h0M178.7 335.6h0M153.9 303.4h0M147.9 378.0h0M159.4 349.4h0M179.7 322.2h0M163.3 433.0h0M156.3 352.3h0M170.6 294.6h0M144.6 301.5h0M157.6 397.7h0M163.0 423.8h0M156.6 335.6h0M152.7 321.7h0M149.4 305.9h0M177.5 309.0h0M152.2 387.5h0M147.4 359.2h0M179.5 381.8h0M145.7 393.0h0M144.0 344.0h0M162.0 429.7h0M147.0 355.9h0M173.5 388.6h0M175.6 307.7h0M181.6 310.9h0M173.6 256.3h0M168.1 376.8h0M162.1 383.4h0M181.2 316.3h0M157.1 320.3h0M152.8 397.1h0M173.5 289.8h0M170.5 387.2h0M152.2 360.8h0M174.2 338.1h0M151.2 313.0h0M177.1 375.3h0M141.6 422.0h0M180.8 365.5h0M155.3 369.9h0M141.9 410.1h0M147.0 341.2h0M171.0 405.8h0M179.2 355.5h0M140.9 410.8h0M181.2 305.3h0M211.3 406.9h0M178.8 355.3h0M151.7 388.8h0M146.3 272.9h0M177.8 382.9h0M166.0 383.6h0M156.3 420.6h0M172.7 274.9h0M173.7 284.2h0M172.3 432.4h0M172.7 391.4h0M154.9 299.8h0M178.2 377.4h0M152.6 286.7h0M157.4 345.6h0M154.7 396.1h0M195.5 402.0h0M142.3 420.5h0M157.3 354.5h0M176.0 374.2h0M167.9 420.6h0M180.0 257.1h0M171.6 362.6h0M156.5 292.9h0M174.8 343.7h0M153.2 274.4h0M148.0 367.8h0M151.6 284.3h0M170.8 430.9h0M145.0 261.0h0M182.1 389.2h0M189.1 411.6h0M145.3 323.9h0M154.2 316.0h0M167.7 408.5h0M148.9 388.0h0M158.9 337.7h0M154.2 278.3h0M151.0 317.6h0M182.2 317.3h0M177.9 378.9h0M176.5 288.5h0M148.4 315.2h0M191.9 410.6h0M124.9 396.0h0M148.3 237.1h0M172.3 394.5h0M143.2 415.3h0M182.6 373.1h0M142.2 416.7h0M152.3 329.8h0M183.1 323.2h0M148.5 374.9h0M173.7 310.8h0M168.8 283.8h0M154.6 314.2h0M157.2 354.6h0M191.7 409.6h0M146.9 300.3h0M155.2 415.1h0M176.8 273.0h0M169.7 325.2h0M168.2 348.1h0M182.6 337.9h0M164.6 427.9h0M197.4 395.2h0M179.7 291.4h0M178.3 252.9h0M182.7 278.7h0M168.3 335.8h0M148.4 297.9h0M181.4 305.3h0M155.3 419.0h0M151.3 419.2h0M156.9 349.5h0M150.8 380.0h0M172.8 321.6h0M145.9 392.9h0M181.0 308.8h0M136.0 414.2h0M155.0 314.9h0M159.0 285.3h0M198.2 411.1h0M181.2 424.9h0M173.4 354.4h0M150.5 395.3h0M140.0 424.0h0M158.0 332.9h0M165.6 389.5h0M172.5 318.3h0M158.9 356.3h0M177.3 340.5h0M157.6 333.5h0M154.7 346.9h0M179.6 326.0h0M168.5 288.3h0M183.1 408.9h0M152.8 361.6h0M169.6 380.7h0M181.1 273.5h0M157.8 367.0h0M151.4 344.9h0M210.0 416.9h0M156.9 319.2h0M166.9 368.5h0M165.6 353.6h0M200.0 398.0h0M148.2 344.8h0M151.5 314.4h0M175.7 431.8h0M179.3 356.8h0M216.5 404.6h0M168.3 412.8h0M177.5 403.1h0M144.6 327.7h0M175.5 391.5h0M169.7 409.2h0M179.6 296.0h0M153.7 419.2h0M185.6 424.2h0M171.6 341.6h0M181.7 276.9h0M164.5 409.8h0M145.8 326.3h0M180.9 407.6h0M170.1 434.4h0M175.5 264.1h0M145.9 386.5h0M149.9 312.1h0M177.9 394.8h0M150.2 300.4h0M145.6 299.8h0M181.9 366.8h0M153.0 298.4h0M179.0 322.0h0M156.1 364.0h0M151.4 325.4h0M158.9 417.4h0M157.8 326.7h0M156.6 299.9h0M143.7 419.6h0M180.5 328.7h0M171.0 319.1h0M183.0 299.9h0M151.9 290.2h0M146.2 377.9h0M178.8 255.6h0M130.4 398.0h0M161.3 397.9h0M193.3 422.9h0M177.7 318.3h0M170.9 293.7h0M170.0 295.7h0M179.3 261.0h0M182.2 333.3h0M145.3 416.8h0M219.5 396.9h0M176.5 418.2h0M188.0 420.0h0M156.3 324.3h0M171.4 307.8h0M119.8 397.5h0M197.5 406.0h0M170.6 385.3h0M150.8 317.8h0M178.5 301.5h0M146.3 363.8h0M153.3 358.7h0M191.0 396.5h0M172.8 406.9h0M138.4 402.8h0M135.4 411.3h0M144.1 346.1h0M165.9 361.5h0M171.3 370.7h0M176.1 385.4h0M173.2 324.0h0M180.5 364.7h0M176.2 313.0h0M147.6 301.3h0M172.4 366.6h0M169.3 354.5h0M135.9 425.0h0M153.6 369.3h0M148.9 394.5h0M156.7 373.9h0M154.8 318.9h0M188.5 414.0h0M137.5 413.7h0M141.9 412.7h0M159.5 386.3h0M166.7 389.3h0M150.7 379.1h0M147.9 288.9h0M144.9 308.9h0M151.3 362.3h0M147.7 415.5h0M149.7 394.9h0M175.5 365.2h0M122.0 404.5h0M148.8 379.1h0M169.3 291.1h0M154.1 313.8h0M128.4 418.3h0M168.5 351.5h0M166.8 378.5h0M174.0 384.4h0M174.7 401.2h0M172.6 332.6h0M150.0 306.1h0M152.6 416.7h0M181.0 427.2h0M149.6 312.4h0M184.3 402.1h0M155.6 403.5h0M169.4 314.5h0M149.3 328.3h0M179.7 317.4h0" stroke="#000" stroke-width="4.7" stroke-linecap="round" fill="none" stroke-opacity="0.68"/>
<polygon points="510.0,244.0 515.5,244.0 515.5,377.0 507.0,377.0 506.0,357.0 503.5,348.0 503.5,330.0 509.0,318.0 509.0,300.0 505.0,285.0 505.0,270.0 508.0,254.0" fill="#10f010"/>
<path d="M503.8 296.4h0M513.8 272.0h0M511.6 270.2h0M494.8 229.7h0M510.6 310.9h0M512.8 198.4h0M502.2 274.9h0M506.6 328.5h0M512.3 282.3h0M514.0 180.0h0M509.7 91.0h0M514.1 373.4h0M514.6 374.1h0M500.4 249.5h0M514.5 267.1h0M479.1 284.4h0M511.5 347.0h0M501.8 325.2h0M511.3 244.6h0M511.1 262.9h0M498.2 246.5h0M511.7 331.6h0M512.8 197.0h0M508.6 264.4h0M508.4 175.0h0M504.4 285.5h0M513.1 329.4h0M504.4 289.9h0M512.8 335.4h0M505.5 210.8h0M495.5 177.1h0M509.9 303.5h0M444.3 252.5h0M515.9 227.9h0M509.5 322.4h0M507.1 240.8h0M511.9 299.6h0M510.4 273.0h0M515.9 340.8h0M511.2 364.8h0M501.2 339.4h0M509.3 229.6h0M511.0 212.0h0M491.6 225.7h0M513.9 335.3h0M508.4 182.3h0M497.4 369.0h0M497.4 377.7h0M513.7 350.2h0M510.0 365.4h0M485.3 327.8h0M506.5 372.3h0M509.3 237.4h0M515.3 234.9h0M504.6 271.2h0M474.8 249.9h0M497.0 330.0h0M508.0 268.8h0M510.3 311.4h0M504.1 336.5h0M503.0 270.1h0M497.6 285.6h0M496.2 357.3h0M512.6 241.7h0M515.7 291.8h0M491.4 301.5h0M510.9 284.8h0M510.2 353.3h0M516.0 281.6h0M512.7 272.3h0M506.2 377.2h0M492.2 138.8h0M503.3 333.8h0M511.1 378.2h0M487.0 344.4h0M511.8 281.8h0M506.9 341.7h0M509.2 362.6h0M514.3 301.6h0M512.1 312.8h0M504.1 259.0h0M508.6 256.8h0M505.7 326.2h0M498.9 371.9h0M508.8 250.1h0M495.0 238.0h0M511.3 338.1h0M497.7 351.1h0M514.6 212.6h0M515.6 269.1h0M462.1 259.0h0M475.1 249.9h0M499.1 282.1h0M507.7 371.5h0M508.7 332.6h0M514.1 265.2h0M507.2 122.8h0M509.4 342.7h0M513.5 307.7h0M511.6 296.6h0M510.2 186.1h0M514.0 265.6h0M504.6 330.0h0M515.6 352.1h0M508.2 286.5h0M514.7 354.2h0M507.1 298.3h0M498.2 194.0h0M515.3 272.5h0M488.2 321.9h0M509.1 367.8h0M502.6 351.5h0M504.9 376.2h0M510.5 215.3h0M511.6 164.4h0M503.6 349.7h0M491.8 333.6h0M504.1 340.6h0M505.0 334.7h0M506.1 347.7h0M515.4 369.0h0M498.1 292.7h0M514.8 256.2h0M510.9 295.0h0M502.5 334.5h0M508.6 298.0h0M505.9 342.9h0M507.7 306.2h0M497.3 343.8h0M506.9 338.5h0M509.7 373.2h0M497.0 270.0h0M510.3 304.1h0M502.9 344.4h0M498.0 273.7h0M509.7 292.2h0M514.8 354.0h0M476.6 267.8h0M487.4 319.7h0M488.0 205.2h0M504.4 371.9h0M503.7 288.2h0M488.2 271.6h0M504.3 274.5h0M510.3 355.1h0M514.9 239.0h0M509.3 302.8h0M510.1 351.7h0M510.0 185.0h0M515.4 247.5h0M513.1 207.0h0M487.9 278.1h0M502.0 200.0h0M506.6 287.7h0M507.6 282.1h0M464.6 190.0h0M514.4 328.9h0M512.5 194.9h0M510.4 253.7h0M507.8 363.1h0M508.3 264.5h0M507.6 356.7h0M505.9 324.1h0M515.5 321.6h0M515.2 309.4h0M498.9 292.1h0M504.4 344.2h0M496.4 357.3h0M512.3 216.6h0M509.1 206.4h0M510.1 300.7h0M499.3 357.1h0M506.7 295.9h0M512.7 316.1h0M505.7 337.3h0M501.0 333.8h0M496.5 312.4h0M508.6 261.0h0M504.8 262.8h0M500.2 298.1h0M513.1 202.9h0M510.8 233.7h0M489.1 242.9h0M514.2 209.9h0M512.6 375.1h0M506.6 221.7h0M508.7 173.4h0M502.6 347.4h0M502.1 279.4h0M503.4 331.2h0M510.2 251.0h0M513.5 308.4h0M493.0 315.0h0M511.7 339.2h0M513.2 243.2h0M497.0 215.0h0M498.6 337.5h0M513.7 261.9h0M512.1 359.1h0M510.8 257.2h0M499.0 268.7h0M508.4 242.5h0M506.7 323.4h0M477.7 361.3h0M513.6 357.0h0M482.8 267.2h0M496.6 365.5h0M478.0 361.4h0M491.1 332.2h0M476.7 268.0h0M512.9 288.4h0M506.2 205.7h0M500.0 222.0h0M496.0 290.0h0M509.0 317.8h0M508.2 192.4h0M504.9 261.4h0M501.6 323.1h0M512.1 315.0h0M504.8 370.9h0M513.1 228.4h0M513.6 220.5h0M493.0 260.0h0M506.8 279.5h0M506.8 266.3h0M503.3 351.2h0M496.6 270.5h0M512.6 320.9h0M488.0 271.6h0M498.4 321.9h0M502.2 262.2h0M511.5 287.6h0M497.9 374.3h0M509.1 218.1h0M511.8 205.6h0M512.4 230.6h0M479.9 284.4h0M503.7 325.1h0M509.9 319.0h0M513.7 354.3h0M482.0 342.4h0M515.8 250.0h0M514.2 253.7h0M485.0 336.5h0M511.7 359.0h0M503.6 268.8h0M507.8 315.1h0M504.0 243.6h0M503.9 355.2h0M498.6 263.3h0M500.0 360.0h0M505.3 254.2h0M490.9 248.7h0M504.0 217.3h0M509.0 235.5h0M503.1 343.1h0M512.8 213.0h0M507.6 263.6h0M477.7 361.4h0M509.8 362.0h0M513.4 277.4h0M511.8 273.8h0M511.6 374.2h0M499.0 345.0h0M488.0 359.9h0M509.0 195.8h0M506.6 252.3h0M513.7 295.6h0M504.3 263.7h0M510.6 259.5h0M506.6 349.5h0M496.7 351.5h0M502.0 329.9h0M493.7 323.0h0M515.1 246.4h0M515.9 330.7h0M512.1 305.5h0M506.7 280.7h0M512.6 241.4h0M508.8 352.1h0M506.8 345.3h0M505.5 341.3h0M514.8 368.1h0M510.9 231.7h0M509.7 283.5h0M495.9 284.8h0M512.8 186.0h0M513.2 200.2h0M513.4 239.6h0M511.2 343.7h0M511.6 314.5h0M476.5 267.9h0M512.8 346.7h0M511.7 255.5h0M482.8 267.3h0M508.1 240.5h0M488.2 359.9h0M508.6 313.8h0M501.0 280.0h0M515.9 289.9h0M507.7 324.0h0M510.5 298.6h0M515.1 245.1h0M498.9 226.1h0M510.2 348.2h0M496.6 308.6h0M505.5 365.4h0M510.4 246.6h0M510.5 187.4h0M512.0 377.8h0M511.9 315.8h0M506.8 290.5h0M495.7 177.2h0M515.2 280.7h0M488.9 310.7h0M506.1 358.5h0M506.5 327.5h0M508.7 366.2h0M509.9 213.6h0M494.7 323.0h0M509.9 293.3h0M494.0 304.0h0M510.2 219.9h0M515.6 236.3h0M514.6 239.0h0M513.5 191.1h0M512.3 197.1h0M491.1 358.4h0M511.6 269.9h0M496.2 348.9h0M494.0 338.0h0M512.5 345.8h0M503.8 312.0h0M511.8 226.6h0M490.9 358.8h0M503.3 212.2h0M514.1 248.6h0M501.8 264.6h0M513.3 319.7h0M508.9 360.6h0M515.0 250.9h0M513.3 276.3h0M494.0 343.4h0M479.2 362.4h0M513.8 370.4h0M510.1 168.3h0M510.8 275.4h0M512.7 278.8h0M499.6 304.4h0M503.3 157.1h0M493.0 366.0h0M504.8 366.9h0M462.4 259.2h0M514.9 362.5h0" stroke="#10f010" stroke-width="4.7" stroke-linecap="round" fill="none"/>
<polygon points="546.0,290.0 550.0,290.0 554.0,303.0 557.0,325.0 559.0,350.0 557.0,377.0 546.0,377.0" fill="#f01010"/>
<path d="M557.7 314.8h0M552.0 317.1h0M556.2 308.7h0M550.0 356.1h0M550.6 337.1h0M556.0 245.0h0M548.9 233.8h0M552.7 212.3h0M558.0 368.4h0M558.9 323.8h0M618.1 272.8h0M547.5 249.9h0M577.8 301.9h0M574.0 222.4h0M550.7 371.8h0M556.1 375.5h0M547.1 157.8h0M549.5 355.6h0M574.9 298.3h0M582.9 269.4h0M567.1 324.9h0M550.6 342.1h0M577.0 343.8h0M549.1 348.6h0M566.5 358.4h0M550.5 174.1h0M554.6 259.8h0M547.9 349.5h0M548.4 374.9h0M552.5 346.9h0M553.0 304.2h0M545.2 122.0h0M546.6 153.0h0M553.3 351.3h0M551.7 297.1h0M547.3 209.3h0M562.7 171.2h0M548.9 276.9h0M546.0 243.2h0M548.8 352.6h0M598.9 336.2h0M550.0 271.8h0M548.6 227.6h0M615.9 238.1h0M570.8 280.3h0M550.7 366.7h0M551.8 325.4h0M564.6 171.7h0M549.0 274.1h0M550.2 210.8h0M559.5 192.4h0M555.6 326.9h0M551.7 292.2h0M560.1 347.3h0M553.5 287.7h0M566.3 227.6h0M551.5 161.0h0M554.7 220.9h0M578.5 294.9h0M584.3 339.2h0M570.7 239.5h0M549.6 332.9h0M588.1 203.2h0M547.3 337.0h0M552.2 273.8h0M546.8 318.5h0M618.0 272.9h0M552.2 289.5h0M548.7 232.9h0M549.1 313.1h0M560.5 143.1h0M598.1 269.2h0M546.6 197.6h0M545.4 207.9h0M555.2 336.8h0M550.9 278.0h0M547.7 299.3h0M549.0 263.0h0M557.8 350.3h0M546.0 176.9h0M573.2 376.7h0M570.3 322.2h0M658.6 294.1h0M553.0 267.1h0M588.2 203.9h0M576.8 285.1h0M560.4 210.0h0M547.0 257.4h0M547.1 281.0h0M555.5 376.4h0M596.9 241.4h0M549.5 359.6h0M559.5 364.8h0M552.8 183.0h0M559.6 229.3h0M558.8 342.4h0M548.0 324.2h0M557.1 360.4h0M554.3 352.5h0M567.7 255.3h0M553.7 316.1h0M553.5 273.5h0M570.1 252.0h0M564.9 172.0h0M549.5 304.0h0M554.8 371.2h0M562.6 237.0h0M564.3 281.7h0M549.0 263.4h0M554.7 315.1h0M576.3 280.3h0M548.1 300.4h0M546.7 235.3h0M555.3 255.4h0M548.0 185.0h0M556.1 324.1h0M551.1 294.4h0M548.7 339.8h0M555.8 299.9h0M557.9 368.6h0M558.0 344.6h0M560.1 228.8h0M562.6 209.3h0M562.8 198.9h0M566.8 316.8h0M556.8 306.1h0M548.0 242.9h0M568.8 371.9h0M597.7 268.4h0M567.7 208.3h0M559.5 317.4h0M557.3 346.2h0M598.5 269.4h0M549.1 301.2h0M548.3 254.1h0M548.8 240.0h0M547.0 246.8h0M546.1 376.6h0M572.8 242.9h0M566.4 286.2h0M583.1 269.6h0M553.8 322.5h0M551.0 220.3h0M563.1 234.3h0M553.0 230.0h0M568.7 217.0h0M597.6 260.3h0M571.0 369.7h0M556.8 216.3h0M559.9 326.5h0M564.1 261.6h0M547.5 331.7h0M554.4 288.3h0M548.2 317.5h0M549.1 325.6h0M562.6 347.9h0M573.2 332.9h0M546.7 318.7h0M548.5 358.9h0M563.3 309.7h0M546.0 190.0h0M552.5 275.9h0M547.2 250.5h0M552.9 357.6h0M552.0 225.1h0M555.8 287.0h0M549.9 227.1h0M555.4 308.9h0M547.1 123.1h0M563.0 171.0h0M566.8 305.6h0M550.2 345.5h0M552.8 367.9h0M597.7 260.0h0M558.3 353.4h0M547.4 148.3h0M565.1 357.3h0M552.0 201.0h0M554.0 285.3h0M547.9 281.4h0M553.9 253.8h0M558.5 315.0h0M547.0 252.6h0M554.5 290.9h0M547.0 220.6h0M548.6 317.0h0M552.5 295.1h0M569.9 244.3h0M546.2 194.0h0M550.7 265.4h0M549.0 332.5h0M554.9 321.0h0M561.5 312.1h0M553.2 313.0h0M566.3 240.0h0M560.4 245.8h0M560.0 295.6h0M553.6 252.4h0M558.6 260.3h0M547.1 234.0h0M568.6 354.0h0M552.4 266.9h0M558.2 311.1h0M563.4 232.3h0M546.4 366.3h0M548.8 329.9h0M573.2 364.6h0M572.2 334.3h0M550.1 190.2h0M549.4 264.7h0M617.8 272.6h0M560.8 268.6h0M551.6 334.1h0M549.0 255.6h0M558.2 341.4h0M546.9 331.9h0M552.4 355.1h0M551.5 330.6h0M557.6 361.9h0M550.7 306.0h0M548.3 279.1h0M546.0 160.0h0M557.9 196.8h0M548.1 319.4h0M567.3 354.4h0M568.6 322.7h0M560.8 241.8h0M549.3 335.3h0M555.0 354.2h0M557.2 198.8h0M545.5 328.7h0M573.1 265.8h0M553.0 282.8h0M572.2 271.1h0M551.6 302.1h0M549.9 378.3h0M559.3 369.4h0M557.3 307.0h0M560.9 340.1h0M567.0 225.4h0M573.7 351.1h0M550.5 323.7h0M547.1 268.1h0M550.6 347.9h0M553.9 223.9h0M552.9 340.3h0M573.2 351.5h0M571.2 277.7h0M550.1 377.7h0M551.1 188.2h0M577.8 170.3h0M547.6 303.1h0M555.2 310.3h0M555.2 283.5h0M553.7 367.7h0M549.9 259.1h0M572.7 302.9h0M550.9 213.7h0M549.5 250.2h0M546.5 179.8h0M553.7 301.1h0M592.3 172.3h0M555.4 328.7h0M548.0 175.0h0M547.3 178.6h0M594.0 187.0h0M554.4 286.7h0M548.8 284.6h0M554.6 221.7h0M549.5 359.2h0M577.8 279.1h0M554.9 300.2h0M560.8 365.0h0M546.1 362.1h0M549.4 357.1h0M546.1 312.5h0M565.7 357.7h0M556.9 292.2h0M566.4 363.5h0M600.6 369.4h0M555.0 373.8h0M572.1 271.4h0M553.8 329.1h0M554.6 370.6h0M550.4 311.3h0M555.2 351.3h0M551.3 209.3h0M597.0 241.5h0M547.6 239.5h0M574.7 208.9h0M548.4 296.7h0M546.2 170.2h0M546.7 253.5h0M553.4 291.7h0M558.9 339.6h0M553.9 218.2h0M558.5 349.4h0M550.9 296.9h0M549.1 201.3h0M551.6 374.5h0M551.2 206.7h0M559.1 350.8h0M599.6 290.0h0M562.8 202.4h0M547.5 283.0h0M545.6 370.1h0M594.0 187.0h0M555.4 372.9h0M553.2 335.1h0M567.8 333.4h0M576.0 326.1h0M556.4 299.8h0M553.7 304.1h0M564.3 258.4h0M574.5 319.0h0M547.5 338.8h0M557.2 333.6h0M567.4 331.7h0M548.8 307.8h0M547.6 287.4h0M559.0 258.2h0M555.8 205.9h0M558.0 148.6h0M553.2 338.7h0M616.0 238.1h0M556.0 363.1h0M560.5 361.1h0M561.6 213.7h0M549.1 348.7h0M584.1 218.5h0M548.2 343.7h0M550.9 242.1h0M575.4 371.0h0M572.4 280.9h0M560.8 143.6h0M547.4 226.3h0M575.6 362.5h0M575.8 362.8h0M552.4 236.3h0M556.3 321.6h0M549.6 148.6h0M548.1 267.3h0M566.8 283.2h0M584.2 302.2h0M556.7 257.3h0M551.0 354.1h0M545.6 348.8h0M547.1 247.1h0M577.7 296.6h0M556.3 372.6h0M566.6 363.9h0M546.6 231.3h0M546.1 194.8h0M552.8 245.9h0M547.9 344.9h0M599.7 289.5h0M557.2 327.3h0M575.1 306.6h0M554.6 373.5h0M548.5 236.5h0M555.7 289.1h0M551.0 197.2h0M554.4 230.8h0M547.7 293.6h0M555.0 328.5h0M552.2 278.7h0M551.7 334.8h0M548.1 353.6h0M554.8 270.9h0M559.0 235.6h0M567.1 270.5h0M545.8 171.3h0M580.2 150.9h0M547.5 298.3h0M548.8 217.3h0M570.8 310.7h0M552.6 358.5h0M561.9 253.1h0M555.9 311.3h0M552.3 365.6h0M560.8 335.2h0M551.8 182.0h0M546.2 338.0h0M572.6 269.9h0M546.4 330.4h0M597.0 267.9h0M547.2 378.8h0M567.0 270.6h0M553.6 309.1h0M559.5 362.2h0" stroke="#f01010" stroke-width="4.7" stroke-linecap="round" fill="none"/>
<polygon points="517.8,230.0 525.0,230.0 527.0,240.0 528.8,253.0 528.6,265.0 529.2,288.0 529.6,311.0 530.0,338.0 532.0,338.0 531.8,311.0 531.8,288.0 531.9,265.0 532.2,253.0 533.0,240.0 534.5,232.0 544.0,232.0 544.0,379.0 555.0,379.0 553.0,393.8 550.0,408.4 546.5,420.0 539.5,428.5 533.5,433.5 530.0,434.0 520.5,426.0 517.5,417.2 513.5,408.4 510.5,393.8 509.5,380.0 518.0,379.0" fill="#000"/>
<path d="M538.3 198.4h0M542.1 294.1h0M518.3 285.6h0M537.8 242.7h0M519.5 274.9h0M518.5 280.2h0M522.0 375.4h0M538.9 120.6h0M515.2 390.8h0M536.3 306.9h0M539.9 216.8h0M518.3 284.1h0M528.8 295.5h0M534.0 274.5h0M532.4 327.5h0M522.5 264.7h0M526.8 310.3h0M527.8 252.1h0M537.2 253.6h0M523.1 354.4h0M533.9 374.4h0M551.1 411.2h0M533.5 315.5h0M536.2 238.2h0M521.5 226.8h0M560.0 412.8h0M525.0 254.2h0M526.1 281.1h0M542.7 310.0h0M566.6 391.6h0M539.4 212.8h0M516.2 418.5h0M539.5 329.6h0M525.5 311.9h0M539.0 295.5h0M533.0 300.2h0M538.1 289.2h0M536.1 392.9h0M519.4 414.5h0M564.6 388.7h0M542.6 281.4h0M528.0 378.2h0M539.9 396.8h0M540.1 239.2h0M534.1 389.0h0M547.2 390.2h0M532.2 248.7h0M531.9 354.2h0M536.4 337.3h0M527.4 234.2h0M540.8 271.6h0M536.2 258.0h0M539.4 321.9h0M531.4 296.7h0M526.7 399.5h0M533.5 354.6h0M538.1 296.6h0M517.9 365.4h0M537.7 200.2h0M520.8 176.5h0M529.8 350.6h0M518.6 426.6h0M537.3 273.1h0M533.1 285.1h0M519.1 330.2h0M542.9 229.2h0M542.5 362.9h0M514.2 381.5h0M524.4 315.9h0M537.4 244.3h0M536.1 252.6h0M533.5 306.8h0M539.2 292.0h0M520.4 209.4h0M525.2 345.4h0M538.9 406.0h0M520.9 270.0h0M542.7 323.7h0M530.0 315.0h0M520.5 192.1h0M522.7 374.6h0M545.7 406.8h0M537.1 373.1h0M543.9 237.2h0M541.2 220.7h0M541.2 304.3h0M534.9 255.0h0M538.8 273.7h0M541.8 313.3h0M538.8 362.2h0M519.5 380.0h0M536.5 354.4h0M543.4 288.0h0M529.3 340.4h0M538.4 201.8h0M535.8 274.1h0M525.7 417.5h0M540.4 266.5h0M543.2 389.9h0M533.3 297.5h0M517.4 224.9h0M542.1 294.3h0M517.4 415.7h0M526.9 402.5h0M517.9 347.3h0M540.0 369.1h0M539.9 262.2h0M541.4 193.5h0M540.5 402.1h0M525.3 370.2h0M528.3 271.1h0M526.7 260.7h0M535.0 345.2h0M538.2 412.3h0M520.1 182.7h0M539.6 358.1h0M526.2 248.7h0M523.2 194.0h0M540.3 249.2h0M528.8 296.5h0M544.1 314.3h0M543.1 218.5h0M527.1 288.4h0M552.3 380.0h0M552.9 398.2h0M518.7 360.2h0M536.3 200.1h0M524.3 369.4h0M537.5 241.5h0M547.6 409.4h0M522.8 282.4h0M526.0 227.7h0M531.5 429.6h0M540.2 367.4h0M536.2 238.2h0M554.3 386.8h0M518.1 286.8h0M537.9 206.4h0M520.7 206.1h0M511.2 408.7h0M544.3 258.8h0M534.1 290.7h0M525.4 260.0h0M535.6 344.5h0M523.9 212.2h0M537.2 321.0h0M536.6 270.0h0M536.6 322.3h0M539.9 194.1h0M523.3 383.3h0M527.8 374.7h0M542.8 262.2h0M541.6 190.4h0M567.6 391.2h0M532.6 258.8h0M533.8 243.6h0M523.9 372.1h0M518.8 201.3h0M562.2 401.4h0M526.8 374.0h0M576.1 394.1h0M510.9 384.6h0M520.2 348.9h0M536.9 351.6h0M527.0 262.3h0M526.3 261.1h0M529.0 312.0h0M520.2 184.1h0M540.7 283.6h0M530.1 369.9h0M541.9 333.3h0M547.9 384.4h0M526.7 293.3h0M520.5 394.4h0M518.2 242.1h0M530.4 368.8h0M541.5 162.5h0M529.8 326.8h0M502.6 409.1h0M524.1 343.7h0M535.7 325.8h0M532.7 371.8h0M524.3 402.9h0M525.6 418.5h0M518.1 270.6h0M544.3 422.2h0M541.1 282.4h0M519.4 286.2h0M522.5 374.0h0M525.2 336.0h0M522.6 291.8h0M543.7 247.7h0M540.1 187.1h0M523.8 412.4h0M545.7 418.6h0M519.7 255.7h0M518.6 317.1h0M522.6 367.4h0M506.9 396.7h0M536.4 196.7h0M537.9 312.7h0M535.3 239.0h0M522.1 277.2h0M539.1 183.8h0M529.0 430.0h0M544.5 394.9h0M541.1 198.5h0M519.0 198.0h0M519.3 372.9h0M532.3 349.6h0M515.0 388.6h0M540.1 220.0h0M560.8 379.9h0M531.0 406.2h0M527.3 404.1h0M518.1 268.6h0M517.2 263.8h0M536.7 377.1h0M531.9 279.1h0M524.7 222.2h0M539.4 250.9h0M518.9 259.6h0M526.8 256.7h0M536.8 207.7h0M523.3 281.5h0M527.7 353.5h0M537.3 235.2h0M539.7 386.8h0M518.6 392.2h0M516.0 424.0h0M520.9 295.3h0M537.5 233.1h0M523.5 325.7h0M528.7 266.3h0M517.5 358.0h0M523.9 249.2h0M524.2 320.3h0M541.3 351.7h0M505.5 392.3h0M535.0 363.1h0M522.0 247.8h0M520.2 207.3h0M536.0 432.3h0M519.3 265.6h0M518.3 351.1h0M526.5 385.8h0M521.4 221.9h0M522.4 222.0h0M521.4 283.9h0M537.2 333.0h0M539.9 349.5h0M519.9 217.8h0M527.1 310.7h0M501.3 383.3h0M532.2 291.9h0M544.0 375.0h0M528.7 338.0h0M538.7 257.0h0M540.9 369.5h0M526.0 307.5h0M532.1 328.0h0M524.2 330.5h0M529.1 323.3h0M518.6 254.4h0M536.8 376.7h0M526.9 241.0h0M533.0 336.3h0M524.5 426.6h0M535.9 211.8h0M526.9 411.1h0M529.5 321.0h0M523.9 227.4h0M515.7 386.7h0M537.5 287.8h0M526.2 164.4h0M543.6 236.9h0M543.6 268.3h0M524.8 279.6h0M542.8 419.6h0M557.0 385.0h0M538.4 256.3h0M520.6 234.3h0M540.5 203.8h0M527.2 364.0h0M521.5 332.5h0M527.6 318.5h0M522.0 189.8h0M521.6 265.6h0M520.4 174.2h0M528.2 309.5h0M552.4 381.1h0M536.3 408.7h0M521.4 345.6h0M529.7 312.1h0M538.0 295.4h0M534.0 309.7h0M545.0 392.2h0M526.1 316.2h0M521.6 273.9h0M524.7 305.7h0M528.5 373.0h0M525.2 352.5h0M522.8 351.5h0" stroke="#000" stroke-width="4.7" stroke-linecap="round" fill="none" stroke-opacity="0.68"/>
<path d="M540.1 278.1h0M547.6 397.4h0M567.3 385.0h0M540.5 406.5h0M523.1 346.8h0M543.0 261.4h0M518.9 336.6h0M539.8 196.2h0M535.9 313.8h0M538.4 188.8h0M534.6 301.5h0M538.4 293.3h0M530.6 393.0h0M519.4 348.3h0M535.0 266.4h0M527.5 374.1h0M525.5 343.6h0M548.4 388.2h0M517.4 256.6h0M535.2 208.3h0M497.4 413.2h0M528.7 398.1h0M524.1 260.1h0M537.4 364.6h0M537.5 207.6h0M535.2 240.8h0M543.8 325.0h0M519.1 322.6h0M544.0 336.6h0M524.8 368.6h0M538.9 284.1h0M527.7 381.4h0M542.7 317.0h0M539.3 260.6h0M520.1 249.4h0M540.5 272.6h0M531.8 393.0h0M517.9 132.3h0M519.8 340.4h0M517.9 258.0h0M528.6 356.6h0M543.3 398.8h0M517.9 422.8h0M522.1 296.9h0M521.3 304.0h0M544.5 376.2h0M532.1 289.2h0M521.1 232.1h0M538.4 246.6h0M521.1 334.6h0M535.0 210.0h0M516.6 407.8h0M545.2 394.9h0M537.7 410.3h0M542.4 225.0h0M544.4 338.2h0M526.8 366.1h0M541.0 338.1h0M539.1 222.8h0M536.8 323.9h0M541.6 192.5h0M528.2 393.4h0M539.5 265.5h0M550.9 387.2h0M543.8 422.6h0M526.9 231.3h0M537.7 324.2h0M539.8 204.3h0M535.9 343.2h0M526.2 271.4h0M525.8 335.8h0M519.4 407.4h0M525.4 272.2h0M520.2 325.3h0M522.1 292.6h0M521.2 364.4h0M540.8 159.3h0M550.3 381.6h0M517.9 209.1h0M548.8 414.0h0M529.6 360.0h0M537.8 298.0h0M521.4 218.3h0M532.4 336.3h0M537.7 247.4h0M523.0 204.3h0M538.4 301.4h0M550.5 410.4h0M541.3 194.1h0M517.0 270.0h0M523.7 184.5h0M536.2 244.5h0M513.0 418.0h0M533.5 433.8h0M527.7 267.6h0M542.9 332.0h0M543.4 290.8h0M535.1 421.4h0M525.5 341.5h0M529.6 371.5h0M542.3 320.3h0M539.5 314.2h0M523.3 212.7h0M536.7 270.4h0M528.2 306.4h0M533.3 345.5h0M528.9 318.9h0M525.6 337.9h0M519.4 278.3h0M535.1 241.0h0M521.5 200.0h0M534.9 396.0h0M543.9 215.0h0M515.3 380.7h0M533.0 379.0h0M525.3 326.4h0M523.9 297.0h0M537.2 337.1h0M525.4 338.3h0M521.1 294.2h0M544.0 321.5h0M534.2 232.7h0M518.3 328.5h0M549.9 400.7h0M540.1 270.6h0M539.5 355.3h0M541.0 207.0h0M525.0 230.9h0M527.0 411.6h0M531.4 328.5h0M539.0 399.7h0M522.3 251.0h0M540.2 277.5h0M527.7 416.0h0M532.9 311.1h0M538.8 378.7h0M518.5 214.1h0M538.6 198.2h0M519.1 250.8h0M553.5 414.2h0M544.2 234.8h0M538.3 337.3h0M534.4 348.4h0M539.7 186.7h0M521.4 287.5h0M527.1 294.2h0M553.8 391.2h0M521.3 376.8h0M540.7 366.1h0M517.6 314.6h0M529.0 301.0h0M520.0 215.1h0M539.6 224.2h0M541.9 371.0h0M517.9 273.2h0M533.3 374.8h0M537.0 346.1h0M526.4 353.3h0M540.2 318.0h0M525.7 405.5h0M541.6 246.7h0M521.8 282.2h0M521.8 346.8h0M540.8 379.4h0M533.4 392.4h0M541.5 407.9h0M526.0 244.7h0M541.1 372.9h0M525.1 298.4h0M507.0 400.0h0M542.6 259.3h0M537.9 341.7h0M516.0 379.5h0M525.3 382.7h0M524.8 290.9h0M532.8 308.1h0M519.3 302.5h0M530.3 371.8h0M539.7 227.4h0M541.2 391.3h0M534.9 366.1h0M537.1 283.8h0M525.7 297.3h0M535.2 297.5h0M538.1 403.4h0M543.4 243.3h0M522.7 250.8h0M525.6 414.0h0M520.9 288.9h0M540.7 234.0h0M524.6 304.7h0M538.5 364.6h0M533.0 303.3h0M541.8 205.1h0M529.0 337.0h0M542.2 288.3h0M541.7 231.4h0M560.8 381.4h0M542.0 252.6h0M531.6 327.2h0M538.8 263.8h0M525.3 223.5h0M538.6 308.2h0M530.7 382.3h0M533.7 286.1h0M541.2 355.2h0M525.2 265.9h0M542.4 314.6h0M522.1 382.0h0M528.2 293.9h0M509.1 379.2h0M538.5 233.5h0M535.3 263.3h0M527.1 307.9h0M537.4 310.2h0M536.8 267.2h0M538.5 412.9h0M519.6 205.3h0M538.0 316.6h0M536.8 351.6h0M536.3 216.0h0M550.5 420.8h0M523.5 277.1h0M521.8 210.1h0M533.2 350.5h0M536.0 324.2h0M525.5 405.3h0M517.9 365.8h0M531.3 352.1h0M534.8 358.1h0M523.4 337.7h0M560.0 405.5h0M529.8 431.4h0M526.2 311.9h0M516.3 425.7h0M521.1 213.6h0M536.1 298.9h0M541.9 268.4h0M541.7 343.0h0M520.2 313.0h0M521.7 198.4h0M517.1 395.5h0M540.8 180.0h0M523.3 324.6h0M531.3 343.7h0M516.9 407.3h0M532.4 375.5h0M536.7 267.0h0M527.5 377.2h0M533.8 228.3h0M543.8 286.2h0M528.9 291.6h0M529.6 342.7h0M537.9 205.4h0M540.7 363.2h0M521.9 190.1h0M544.5 277.5h0M548.0 409.2h0M504.7 408.4h0M532.0 296.9h0M532.9 262.5h0M537.9 313.3h0M549.7 424.9h0M543.0 285.2h0M527.5 355.6h0M524.7 261.2h0M535.6 274.0h0M525.9 364.7h0M524.5 430.3h0M527.7 373.5h0M528.7 330.2h0M538.2 258.0h0M527.4 405.7h0M541.6 275.4h0M540.9 409.2h0M539.8 261.1h0M521.3 305.2h0M536.5 292.2h0M537.9 360.4h0M518.6 295.9h0M528.5 349.7h0M524.0 238.5h0M520.0 314.5h0M538.1 299.1h0M540.7 221.7h0M542.4 188.7h0M533.7 330.4h0M525.7 309.7h0M541.1 201.9h0M537.8 335.6h0M534.3 315.4h0M529.6 347.6h0M541.7 414.5h0M536.3 427.9h0M517.7 299.9h0M538.3 360.4h0M540.9 199.3h0M533.2 365.2h0M520.5 322.4h0M533.3 361.1h0M516.8 412.9h0M540.0 189.1h0M531.6 253.1h0" stroke="#000" stroke-width="4.7" stroke-linecap="round" fill="none" stroke-opacity="0.68"/>
<path d="M535.2 275.2h0M517.8 292.5h0M546.2 403.4h0M502.6 412.0h0M539.0 429.0h0M518.6 208.8h0M524.5 240.2h0M521.6 279.8h0M519.0 186.0h0M537.3 317.9h0M530.1 429.2h0M542.8 401.7h0M522.4 285.0h0M541.6 190.0h0M532.3 276.2h0M522.2 311.4h0M522.1 232.4h0M518.7 329.1h0M535.8 334.6h0M541.0 254.8h0M537.1 333.8h0M539.5 197.3h0M523.8 351.8h0M521.8 304.2h0M513.8 392.1h0M541.2 387.8h0M536.8 403.5h0M552.7 383.7h0M511.8 387.7h0M519.0 297.1h0M517.4 286.4h0M532.6 264.5h0M537.7 287.3h0M549.5 393.7h0M528.1 335.5h0M528.8 284.3h0M526.5 424.7h0M579.3 392.8h0M534.3 232.6h0M522.5 248.5h0M538.7 285.2h0M530.8 378.2h0M533.1 345.8h0M529.8 302.8h0M516.3 399.7h0M521.2 329.8h0M542.0 191.8h0M519.8 390.1h0M527.7 281.4h0M527.9 433.1h0M521.7 278.4h0M529.2 403.6h0M532.6 289.9h0M529.9 331.3h0M527.7 390.8h0M522.6 292.9h0M524.6 245.9h0M536.4 385.2h0M526.4 267.9h0M550.1 411.2h0M522.4 278.4h0M540.3 256.3h0M552.0 405.5h0M520.5 264.1h0M518.0 418.3h0M542.2 326.0h0M519.4 258.6h0M519.0 279.8h0M526.4 289.4h0M541.4 329.0h0M541.9 340.1h0M524.7 217.0h0M521.2 225.0h0M509.3 379.4h0M543.9 237.7h0M520.8 256.7h0M540.0 331.8h0M537.2 417.3h0M522.9 257.1h0M515.6 413.2h0M541.3 303.0h0M540.5 180.8h0M532.5 352.9h0M544.3 288.0h0M524.4 237.7h0M526.4 339.1h0M534.7 176.5h0M518.8 310.9h0M520.1 349.7h0M520.0 339.4h0M542.5 358.2h0M529.3 327.1h0M539.8 400.2h0M514.1 388.3h0M543.3 209.1h0M558.1 379.2h0M540.1 226.9h0M536.4 385.8h0M532.5 342.8h0M520.6 359.1h0M517.3 274.7h0M540.9 302.8h0M520.2 275.1h0M536.8 278.5h0M542.0 282.3h0M519.9 298.6h0M524.9 352.2h0M544.1 225.2h0M541.3 318.3h0M521.9 198.6h0M523.1 229.1h0M520.2 342.6h0M526.4 272.8h0M543.6 250.8h0M525.9 210.0h0M550.5 420.4h0M549.1 380.4h0M520.1 240.8h0M527.8 426.5h0M529.5 355.5h0M519.1 356.2h0M534.5 426.1h0M520.7 401.3h0M535.8 359.1h0M543.5 272.1h0M525.5 344.1h0M524.4 320.4h0M538.5 259.4h0M531.6 277.8h0M542.4 237.6h0M546.3 379.7h0M538.7 200.0h0M534.5 213.2h0M528.0 415.4h0M540.6 299.9h0M537.9 326.8h0M535.9 319.4h0M531.8 310.5h0M518.5 300.6h0M524.5 382.9h0M518.9 236.0h0M546.8 386.3h0M530.5 362.4h0M522.2 200.6h0M521.1 176.4h0M521.8 363.9h0M542.4 249.9h0M523.6 383.4h0M529.2 344.0h0M539.0 217.6h0M540.2 356.9h0M543.2 261.0h0M538.3 399.6h0M537.6 368.0h0M528.4 362.7h0M529.4 319.7h0M518.9 359.1h0M537.6 353.8h0M544.2 213.2h0M522.0 223.8h0M544.2 305.1h0M535.5 298.2h0M518.0 202.0h0M524.7 343.2h0M532.9 272.2h0M547.9 385.1h0M520.3 239.6h0M522.8 349.5h0M531.9 320.6h0M537.0 252.9h0M523.0 377.1h0M499.9 385.0h0M526.0 306.7h0M524.8 237.8h0M523.7 316.6h0M531.1 370.2h0M528.5 323.5h0M531.7 383.9h0M537.5 386.2h0M521.4 250.7h0M537.5 361.2h0M534.5 334.7h0M533.9 193.2h0M519.8 270.1h0M523.9 290.4h0M550.4 401.1h0M519.3 395.7h0M555.0 398.0h0M533.5 348.3h0M527.8 264.4h0M527.6 235.1h0M520.5 366.7h0M547.0 405.5h0M542.8 420.3h0M537.7 293.0h0M526.6 354.1h0M530.2 378.3h0M532.0 347.4h0M520.9 355.4h0M522.0 205.4h0M509.0 413.0h0M526.9 246.6h0M529.6 396.7h0M522.2 241.1h0M526.0 296.1h0M541.3 362.7h0M526.3 350.3h0M537.4 223.2h0M559.3 391.6h0M535.0 280.1h0M534.1 250.0h0M517.2 332.0h0M539.6 356.3h0M535.7 319.0h0M522.1 221.2h0M559.9 390.0h0M544.6 401.5h0M506.0 385.0h0M540.8 300.5h0M542.0 308.3h0M518.4 235.1h0M538.6 397.7h0M536.6 218.0h0M536.0 251.5h0M537.9 204.9h0M521.9 283.3h0M553.0 410.0h0M541.4 208.6h0M521.9 269.0h0M518.1 410.1h0M525.0 315.2h0M491.6 388.2h0M543.1 396.0h0M522.1 358.1h0M518.8 327.6h0M541.4 322.7h0M510.8 384.4h0M524.7 270.7h0M544.3 397.9h0M537.3 305.8h0M537.0 309.5h0M509.2 404.6h0M521.9 324.1h0M526.9 360.1h0M535.9 321.4h0M533.4 265.3h0M543.3 240.6h0M528.9 359.5h0M538.1 323.9h0M525.8 300.9h0M525.1 300.7h0M532.4 346.5h0M521.0 230.8h0M523.4 239.9h0M521.0 379.7h0M559.3 388.7h0M522.1 243.1h0M519.1 238.7h0M535.8 307.4h0M523.8 228.7h0M542.8 266.2h0M524.5 421.4h0M536.1 364.0h0M519.3 116.8h0M539.9 264.9h0M527.9 275.4h0M523.1 233.7h0M531.9 359.9h0M541.8 168.0h0M543.0 358.0h0M537.2 398.9h0M518.6 367.6h0M534.7 425.4h0M521.8 195.2h0M530.3 385.3h0M534.8 344.3h0M519.7 191.5h0M540.1 367.1h0M520.9 261.5h0M523.4 336.3h0M531.1 291.0h0M530.2 370.6h0M518.4 408.4h0M536.8 219.2h0M543.4 372.2h0M522.9 238.8h0M517.1 383.4h0M534.1 311.5h0M533.0 424.7h0M543.7 245.4h0M536.6 221.7h0M529.7 363.0h0M537.2 371.6h0M540.1 375.9h0M535.0 270.9h0M535.3 176.4h0M540.9 302.4h0M539.6 377.6h0M543.8 241.5h0M517.7 225.5h0M526.9 263.6h0M523.5 323.0h0M537.5 227.9h0" stroke="#000" stroke-width="4.7" stroke-linecap="round" fill="none" stroke-opacity="0.68"/>
<path d="M540.1 243.0h0M541.6 254.3h0M537.1 293.4h0M535.1 193.1h0M532.6 366.6h0M519.5 269.6h0M522.8 196.2h0M537.7 267.1h0M517.2 242.9h0M521.1 202.4h0M524.9 327.0h0M524.7 301.3h0M521.9 233.4h0M530.0 295.0h0M540.3 335.8h0M520.1 260.5h0M525.7 401.9h0M539.6 195.5h0M544.9 399.4h0M527.0 337.7h0M540.0 419.2h0M523.1 289.9h0M537.7 365.9h0M539.3 231.1h0M540.2 202.8h0M520.5 333.8h0M532.1 301.0h0M522.1 251.8h0M528.4 356.6h0M543.6 214.9h0M525.0 426.6h0M533.3 349.3h0M534.2 301.6h0M529.6 395.0h0M539.4 206.1h0M519.2 332.6h0M540.1 411.0h0M532.2 285.0h0M517.3 206.2h0M525.2 200.5h0M533.3 307.5h0M567.3 382.8h0M537.6 245.4h0M539.9 412.5h0M520.6 247.6h0M543.0 255.7h0M534.2 312.2h0M526.9 271.7h0M540.8 350.2h0M540.2 330.6h0M547.4 415.2h0M537.1 219.9h0M522.3 341.4h0M532.6 401.2h0M527.0 192.0h0M533.6 372.6h0M494.1 396.0h0M555.2 384.8h0M534.7 412.4h0M523.9 361.4h0M518.0 350.8h0M529.5 313.5h0M523.6 280.9h0M539.6 373.8h0M528.2 276.1h0M519.1 341.2h0M544.0 309.2h0M523.9 357.2h0M527.6 367.3h0M522.2 226.0h0M524.2 331.0h0M539.5 427.9h0M528.9 334.9h0M541.7 255.5h0M541.9 331.0h0M543.5 261.9h0M520.1 284.7h0M521.4 376.4h0M522.0 241.7h0M516.8 398.5h0M525.9 262.5h0M533.1 235.1h0M533.2 259.8h0M532.3 281.6h0M521.8 407.9h0M537.8 229.6h0M519.5 369.5h0M524.7 236.0h0M537.7 395.3h0M524.2 428.7h0M526.6 333.2h0M525.1 300.0h0M521.4 204.9h0M527.1 354.2h0M521.4 203.5h0M529.8 320.2h0M517.2 243.5h0M544.0 202.8h0M523.6 322.0h0M519.1 319.7h0M514.2 404.4h0M537.8 236.2h0M539.6 341.1h0M554.6 408.9h0M550.0 412.5h0M539.2 211.0h0M544.4 280.5h0M532.6 283.0h0M524.4 211.1h0M539.1 340.8h0M520.3 219.9h0M532.5 347.7h0M539.3 394.5h0M527.5 416.3h0M522.7 363.1h0M532.7 291.1h0M530.6 347.8h0M536.0 203.0h0M524.7 252.4h0M537.3 353.7h0M534.0 350.8h0M515.4 404.6h0M535.5 290.6h0M517.5 348.3h0M517.4 318.1h0M541.4 264.0h0M528.6 253.5h0M527.8 276.1h0M517.6 420.6h0M509.1 409.1h0M525.2 228.8h0M543.4 325.3h0M544.2 368.8h0M547.1 420.1h0M521.5 399.7h0M518.8 315.9h0M523.8 210.3h0M536.8 283.1h0M518.3 277.7h0M538.2 222.6h0M540.7 278.3h0M537.7 191.6h0M535.3 326.2h0M517.7 211.2h0M537.9 316.7h0M527.2 358.2h0M540.2 331.7h0M538.6 263.1h0M520.0 216.0h0M526.6 215.1h0M528.4 280.9h0M536.1 355.9h0M540.6 286.1h0M542.1 244.0h0M522.7 416.9h0M526.5 361.4h0M526.4 361.0h0M524.4 288.3h0M517.6 255.8h0M532.3 343.1h0M533.9 341.3h0M532.0 421.6h0M530.5 375.8h0M526.1 393.1h0M520.2 183.4h0M536.6 359.2h0M540.7 212.0h0M539.8 376.6h0M550.4 388.9h0M524.5 217.7h0M541.5 213.6h0M537.5 269.8h0M524.4 253.4h0M534.8 280.2h0M520.4 317.7h0M518.0 317.8h0M529.0 370.4h0M522.4 276.6h0M524.6 391.4h0M537.1 371.5h0M537.0 344.2h0M536.8 248.4h0M517.6 219.3h0M519.1 199.7h0M532.8 271.2h0M524.5 257.2h0M543.8 271.0h0M540.8 246.3h0M535.1 319.3h0M535.0 378.8h0M525.9 225.3h0M517.4 167.6h0M520.5 325.5h0M532.1 253.1h0M522.6 287.1h0M525.0 339.7h0M518.5 229.7h0M542.5 217.4h0M530.1 346.3h0M540.7 223.1h0M536.6 276.6h0M539.4 258.4h0M533.0 340.3h0M542.2 422.6h0M536.4 307.1h0M528.3 344.7h0M517.4 244.4h0M519.8 299.9h0M521.0 221.0h0M525.6 340.7h0M518.0 194.0h0M522.4 302.2h0M536.2 210.9h0M494.5 385.0h0M531.8 279.4h0M526.9 387.0h0M523.6 202.0h0M538.1 295.5h0M518.3 291.2h0M543.4 228.2h0M519.9 327.5h0M526.6 245.6h0M532.0 347.0h0M537.4 377.6h0M541.3 304.6h0M541.6 197.9h0M535.6 415.7h0M540.4 339.5h0M527.7 368.7h0M521.5 303.1h0M522.9 308.7h0M520.6 188.4h0M540.8 332.4h0M531.1 410.2h0M525.2 241.6h0M523.0 190.3h0M534.1 288.4h0M524.5 371.4h0M537.8 407.0h0M520.1 189.6h0M527.8 272.5h0M522.3 352.7h0M535.1 239.3h0M524.8 389.2h0M536.2 234.5h0M526.1 251.6h0M539.4 353.2h0M534.5 251.9h0M555.4 381.0h0M543.3 383.8h0M523.6 424.2h0M537.0 339.1h0M549.0 417.0h0M522.8 266.7h0M524.3 303.6h0M523.6 304.4h0M526.3 308.2h0M533.1 363.3h0M523.0 285.4h0M545.0 424.0h0M521.4 375.4h0M521.7 246.0h0M532.0 253.9h0M535.4 390.1h0M519.6 193.4h0M553.1 380.5h0M516.8 417.8h0M533.2 251.1h0M536.4 357.3h0M537.1 226.4h0M542.5 318.1h0M539.5 185.7h0M520.8 328.9h0M526.7 231.4h0M525.5 268.3h0M523.8 301.2h0M552.1 409.7h0M528.3 424.4h0M528.2 338.0h0M523.0 357.4h0M543.5 305.2h0M538.7 396.2h0M532.5 317.7h0M533.0 348.0h0M515.4 397.4h0M535.9 356.2h0M532.4 361.3h0M530.2 358.7h0M510.6 393.8h0M534.8 229.8h0M532.7 304.0h0M541.8 255.5h0M532.9 368.5h0M542.5 230.2h0M543.4 360.1h0M519.4 424.1h0M539.5 224.7h0M534.3 230.8h0M523.3 206.6h0M534.0 256.8h0M521.0 308.7h0M542.5 196.9h0" stroke="#000" stroke-width="4.7" stroke-linecap="round" fill="none" stroke-opacity="0.68"/>
<line x1="142.50" y1="50.2" x2="142.50" y2="440.4" stroke="#5aa85a" stroke-width="1.1"/>
<line x1="183.50" y1="50.2" x2="183.50" y2="440.4" stroke="#5aa85a" stroke-width="1.1"/>
<line x1="29.5" y1="392.50" x2="296.3" y2="392.50" stroke="#5aa85a" stroke-width="1.1"/>
<line x1="516.50" y1="50.2" x2="516.50" y2="440.5" stroke="#5aa85a" stroke-width="1.1"/>
<line x1="544.50" y1="50.2" x2="544.50" y2="440.5" stroke="#5aa85a" stroke-width="1.1"/>
<line x1="397" y1="378.50" x2="664.3" y2="378.50" stroke="#5aa85a" stroke-width="1.1"/>
<rect x="29.5" y="50.2" width="266.8" height="390.2" fill="none" stroke="#333" stroke-width="1.4"/>
<line x1="39.90" y1="440.4" x2="39.90" y2="437.4" stroke="#333" stroke-width="1"/>
<line x1="39.90" y1="50.2" x2="39.90" y2="53.2" stroke="#333" stroke-width="1"/>
<text x="39.90" y="451.5" text-anchor="middle" style="font-family:&quot;Liberation Sans&quot;,sans-serif;font-size:9.4px" fill="#111">−6</text>
<line x1="81.00" y1="440.4" x2="81.00" y2="437.4" stroke="#333" stroke-width="1"/>
<line x1="81.00" y1="50.2" x2="81.00" y2="53.2" stroke="#333" stroke-width="1"/>
<text x="81.00" y="451.5" text-anchor="middle" style="font-family:&quot;Liberation Sans&quot;,sans-serif;font-size:9.4px" fill="#111">−4</text>
<line x1="122.10" y1="440.4" x2="122.10" y2="437.4" stroke="#333" stroke-width="1"/>
<line x1="122.10" y1="50.2" x2="122.10" y2="53.2" stroke="#333" stroke-width="1"/>
<text x="122.10" y="451.5" text-anchor="middle" style="font-family:&quot;Liberation Sans&quot;,sans-serif;font-size:9.4px" fill="#111">−2</text>
<line x1="163.20" y1="440.4" x2="163.20" y2="437.4" stroke="#333" stroke-width="1"/>
<line x1="163.20" y1="50.2" x2="163.20" y2="53.2" stroke="#333" stroke-width="1"/>
<text x="163.20" y="451.5" text-anchor="middle" style="font-family:&quot;Liberation Sans&quot;,sans-serif;font-size:9.4px" fill="#111">0</text>
<line x1="204.30" y1="440.4" x2="204.30" y2="437.4" stroke="#333" stroke-width="1"/>
<line x1="204.30" y1="50.2" x2="204.30" y2="53.2" stroke="#333" stroke-width="1"/>
<text x="204.30" y="451.5" text-anchor="middle" style="font-family:&quot;Liberation Sans&quot;,sans-serif;font-size:9.4px" fill="#111">2</text>
<line x1="245.40" y1="440.4" x2="245.40" y2="437.4" stroke="#333" stroke-width="1"/>
<line x1="245.40" y1="50.2" x2="245.40" y2="53.2" stroke="#333" stroke-width="1"/>
<text x="245.40" y="451.5" text-anchor="middle" style="font-family:&quot;Liberation Sans&quot;,sans-serif;font-size:9.4px" fill="#111">4</text>
<line x1="286.50" y1="440.4" x2="286.50" y2="437.4" stroke="#333" stroke-width="1"/>
<line x1="286.50" y1="50.2" x2="286.50" y2="53.2" stroke="#333" stroke-width="1"/>
<text x="286.50" y="451.5" text-anchor="middle" style="font-family:&quot;Liberation Sans&quot;,sans-serif;font-size:9.4px" fill="#111">6</text>
<line x1="29.5" y1="434.20" x2="32.5" y2="434.20" stroke="#333" stroke-width="1"/>
<line x1="296.3" y1="434.20" x2="293.3" y2="434.20" stroke="#333" stroke-width="1"/>
<text x="26" y="437.50" text-anchor="end" style="font-family:&quot;Liberation Sans&quot;,sans-serif;font-size:9.4px" fill="#111">0</text>
<line x1="29.5" y1="369.94" x2="32.5" y2="369.94" stroke="#333" stroke-width="1"/>
<line x1="296.3" y1="369.94" x2="293.3" y2="369.94" stroke="#333" stroke-width="1"/>
<text x="26" y="373.24" text-anchor="end" style="font-family:&quot;Liberation Sans&quot;,sans-serif;font-size:9.4px" fill="#111">2</text>
<line x1="29.5" y1="305.68" x2="32.5" y2="305.68" stroke="#333" stroke-width="1"/>
<line x1="296.3" y1="305.68" x2="293.3" y2="305.68" stroke="#333" stroke-width="1"/>
<text x="26" y="308.98" text-anchor="end" style="font-family:&quot;Liberation Sans&quot;,sans-serif;font-size:9.4px" fill="#111">4</text>
<line x1="29.5" y1="241.42" x2="32.5" y2="241.42" stroke="#333" stroke-width="1"/>
<line x1="296.3" y1="241.42" x2="293.3" y2="241.42" stroke="#333" stroke-width="1"/>
<text x="26" y="244.72" text-anchor="end" style="font-family:&quot;Liberation Sans&quot;,sans-serif;font-size:9.4px" fill="#111">6</text>
<line x1="29.5" y1="177.16" x2="32.5" y2="177.16" stroke="#333" stroke-width="1"/>
<line x1="296.3" y1="177.16" x2="293.3" y2="177.16" stroke="#333" stroke-width="1"/>
<text x="26" y="180.46" text-anchor="end" style="font-family:&quot;Liberation Sans&quot;,sans-serif;font-size:9.4px" fill="#111">8</text>
<line x1="29.5" y1="112.90" x2="32.5" y2="112.90" stroke="#333" stroke-width="1"/>
<line x1="296.3" y1="112.90" x2="293.3" y2="112.90" stroke="#333" stroke-width="1"/>
<text x="26" y="116.20" text-anchor="end" style="font-family:&quot;Liberation Sans&quot;,sans-serif;font-size:9.4px" fill="#111">10</text>
<rect x="397" y="50.2" width="267.29999999999995" height="390.3" fill="none" stroke="#333" stroke-width="1.4"/>
<line x1="460.40" y1="440.5" x2="460.40" y2="437.5" stroke="#333" stroke-width="1"/>
<line x1="460.40" y1="50.2" x2="460.40" y2="53.2" stroke="#333" stroke-width="1"/>
<text x="460.40" y="451.5" text-anchor="middle" style="font-family:&quot;Liberation Sans&quot;,sans-serif;font-size:9.4px" fill="#111">−5</text>
<line x1="530.75" y1="440.5" x2="530.75" y2="437.5" stroke="#333" stroke-width="1"/>
<line x1="530.75" y1="50.2" x2="530.75" y2="53.2" stroke="#333" stroke-width="1"/>
<text x="530.75" y="451.5" text-anchor="middle" style="font-family:&quot;Liberation Sans&quot;,sans-serif;font-size:9.4px" fill="#111">0</text>
<line x1="601.10" y1="440.5" x2="601.10" y2="437.5" stroke="#333" stroke-width="1"/>
<line x1="601.10" y1="50.2" x2="601.10" y2="53.2" stroke="#333" stroke-width="1"/>
<text x="601.10" y="451.5" text-anchor="middle" style="font-family:&quot;Liberation Sans&quot;,sans-serif;font-size:9.4px" fill="#111">5</text>
<line x1="397" y1="432.40" x2="400" y2="432.40" stroke="#333" stroke-width="1"/>
<line x1="664.3" y1="432.40" x2="661.3" y2="432.40" stroke="#333" stroke-width="1"/>
<text x="394" y="435.70" text-anchor="end" style="font-family:&quot;Liberation Sans&quot;,sans-serif;font-size:9.4px" fill="#111">0</text>
<line x1="397" y1="349.86" x2="400" y2="349.86" stroke="#333" stroke-width="1"/>
<line x1="664.3" y1="349.86" x2="661.3" y2="349.86" stroke="#333" stroke-width="1"/>
<text x="394" y="353.16" text-anchor="end" style="font-family:&quot;Liberation Sans&quot;,sans-serif;font-size:9.4px" fill="#111">2</text>
<line x1="397" y1="267.32" x2="400" y2="267.32" stroke="#333" stroke-width="1"/>
<line x1="664.3" y1="267.32" x2="661.3" y2="267.32" stroke="#333" stroke-width="1"/>
<text x="394" y="270.62" text-anchor="end" style="font-family:&quot;Liberation Sans&quot;,sans-serif;font-size:9.4px" fill="#111">4</text>
<line x1="397" y1="184.78" x2="400" y2="184.78" stroke="#333" stroke-width="1"/>
<line x1="664.3" y1="184.78" x2="661.3" y2="184.78" stroke="#333" stroke-width="1"/>
<text x="394" y="188.08" text-anchor="end" style="font-family:&quot;Liberation Sans&quot;,sans-serif;font-size:9.4px" fill="#111">6</text>
<line x1="397" y1="102.24" x2="400" y2="102.24" stroke="#333" stroke-width="1"/>
<line x1="664.3" y1="102.24" x2="661.3" y2="102.24" stroke="#333" stroke-width="1"/>
<text x="394" y="105.54" text-anchor="end" style="font-family:&quot;Liberation Sans&quot;,sans-serif;font-size:9.4px" fill="#111">8</text>
<text x="163" y="465.2" text-anchor="middle" style="font-family:&quot;Liberation Sans&quot;,sans-serif;font-size:9.6px" fill="#111">log2(Fold Change)</text>
<text x="163" y="476" text-anchor="middle" style="font-family:&quot;Liberation Sans&quot;,sans-serif;font-size:9.6px" fill="#111">OB vs NC</text>
<text transform="translate(11.8,245.5) rotate(-90)" text-anchor="middle" style="font-family:&quot;Liberation Sans&quot;,sans-serif;font-size:10px" fill="#111">-log10(pvalue)</text>
<text x="530.8" y="465.2" text-anchor="middle" style="font-family:&quot;Liberation Sans&quot;,sans-serif;font-size:9.6px" fill="#111">log2(Fold Change)</text>
<text x="530.8" y="476" text-anchor="middle" style="font-family:&quot;Liberation Sans&quot;,sans-serif;font-size:9.6px" fill="#111">OB vs NC</text>
<text transform="translate(384.3,245.5) rotate(-90)" text-anchor="middle" style="font-family:&quot;Liberation Sans&quot;,sans-serif;font-size:10px" fill="#111">-log10(pvalue)</text>
<circle cx="134.5" cy="5.8" r="3.7" fill="#e41a1c"/>
<text x="147.5" y="9.4" style="font-family:&quot;Liberation Serif&quot;,serif;font-size:10.8px" fill="#111">up-regulated (531)</text>
<circle cx="134.5" cy="21.5" r="3.7" fill="#2ee82e"/>
<text x="147.5" y="25.1" style="font-family:&quot;Liberation Serif&quot;,serif;font-size:10.8px" fill="#111">down-regulated (737)</text>
<circle cx="134.5" cy="38.1" r="3.7" fill="#555"/>
<text x="147.5" y="41.7" style="font-family:&quot;Liberation Serif&quot;,serif;font-size:10.8px" fill="#111">not differential expressed (18739)</text>
<circle cx="506.6" cy="5.8" r="3.7" fill="#e41a1c"/>
<text x="519.6" y="9.4" style="font-family:&quot;Liberation Serif&quot;,serif;font-size:10.8px" fill="#111">up-regulated (618)</text>
<circle cx="506.6" cy="21.5" r="3.7" fill="#2ee82e"/>
<text x="519.6" y="25.1" style="font-family:&quot;Liberation Serif&quot;,serif;font-size:10.8px" fill="#111">down-regulated (467)</text>
<circle cx="506.6" cy="38.1" r="3.7" fill="#555"/>
<text x="519.6" y="41.7" style="font-family:&quot;Liberation Serif&quot;,serif;font-size:10.8px" fill="#111">not differential expressed (16343)</text>
<text x="161" y="509" text-anchor="middle" style="font-family:&quot;Liberation Serif&quot;,serif;font-size:13.5px" fill="#111">(A) lncRNA</text>
<text x="518.4" y="509.5" text-anchor="middle" style="font-family:&quot;Liberation Serif&quot;,serif;font-size:13.5px" fill="#111">(B) mRNA</text>
<text x="162.6" y="1028" text-anchor="middle" style="font-family:&quot;Liberation Serif&quot;,serif;font-size:13.5px" fill="#111">(C) lncRNA</text>
<text x="526.5" y="1022.5" text-anchor="middle" style="font-family:&quot;Liberation Serif&quot;,serif;font-size:13.5px" fill="#111">(D) mRNA</text>
<defs><linearGradient id="g33" x1="0" x2="1" y1="0" y2="0"><stop offset="0" stop-color="#00ff00"/><stop offset="0.5" stop-color="#000"/><stop offset="1" stop-color="#ff0000"/></linearGradient></defs>
<rect x="33.0" y="563.0" width="43.8" height="18.600000000000023" fill="url(#g33)"/>
<line x1="33.0" y1="580.8000000000001" x2="57.09" y2="580.8000000000001" stroke="#20b0a0" stroke-opacity="0.7" stroke-width="1.1"/>
<line x1="28.8" y1="565.5" x2="33.0" y2="565.5" stroke="#222" stroke-width="0.9"/>
<line x1="28.8" y1="569.7" x2="33.0" y2="569.7" stroke="#222" stroke-width="0.9"/>
<line x1="28.8" y1="573.9" x2="33.0" y2="573.9" stroke="#222" stroke-width="0.9"/>
<line x1="28.8" y1="578.2" x2="33.0" y2="578.2" stroke="#222" stroke-width="0.9"/>
<line x1="28.8" y1="582.4" x2="33.0" y2="582.4" stroke="#222" stroke-width="0.9"/>
<line x1="33.0" y1="582.2" x2="76.8" y2="582.2" stroke="#333" stroke-width="0.9"/>
<line x1="33.0" y1="582.2" x2="33.0" y2="586.4" stroke="#333" stroke-width="0.9"/>
<line x1="41.8" y1="582.2" x2="41.8" y2="586.4" stroke="#333" stroke-width="0.9"/>
<line x1="50.5" y1="582.2" x2="50.5" y2="586.4" stroke="#333" stroke-width="0.9"/>
<line x1="59.3" y1="582.2" x2="59.3" y2="586.4" stroke="#333" stroke-width="0.9"/>
<line x1="68.0" y1="582.2" x2="68.0" y2="586.4" stroke="#333" stroke-width="0.9"/>
<line x1="76.8" y1="582.2" x2="76.8" y2="586.4" stroke="#333" stroke-width="0.9"/>
<text x="32.7" y="598.8" text-anchor="middle" style="font-family:&quot;Liberation Sans&quot;,sans-serif;font-size:7.5px" fill="#111">4</text>
<text x="50.2" y="598.8" text-anchor="middle" style="font-family:&quot;Liberation Sans&quot;,sans-serif;font-size:7.5px" fill="#111">6</text>
<text x="67.8" y="598.8" text-anchor="middle" style="font-family:&quot;Liberation Sans&quot;,sans-serif;font-size:7.5px" fill="#111">8</text>
<text x="54.8" y="552.2" text-anchor="middle" style="font-family:&quot;Liberation Sans&quot;,sans-serif;font-size:7.8px;font-weight:bold" fill="#111">Color Key</text>
<text x="54.8" y="562.8" text-anchor="middle" style="font-family:&quot;Liberation Sans&quot;,sans-serif;font-size:7.8px;font-weight:bold" fill="#111">and Histogram</text>
<text x="54.8" y="611.5" text-anchor="middle" style="font-family:&quot;Liberation Sans&quot;,sans-serif;font-size:9.2px" fill="#111">Value</text>
<text transform="translate(17.4,572.3) rotate(-90)" text-anchor="middle" style="font-family:&quot;Liberation Sans&quot;,sans-serif;font-size:9.7px" fill="#111">Count</text>
<text transform="translate(20.2,582.2) rotate(-90)" text-anchor="middle" style="font-family:&quot;Liberation Sans&quot;,sans-serif;font-size:5.5px" fill="#111">0</text>
<defs><linearGradient id="g384" x1="0" x2="1" y1="0" y2="0"><stop offset="0" stop-color="#00ff00"/><stop offset="0.5" stop-color="#000"/><stop offset="1" stop-color="#ff0000"/></linearGradient></defs>
<rect x="384.3" y="563.0" width="44.30000000000001" height="18.600000000000023" fill="url(#g384)"/>
<line x1="384.3" y1="580.8000000000001" x2="408.665" y2="580.8000000000001" stroke="#20b0a0" stroke-opacity="0.7" stroke-width="1.1"/>
<line x1="380.1" y1="565.5" x2="384.3" y2="565.5" stroke="#222" stroke-width="0.9"/>
<line x1="380.1" y1="569.7" x2="384.3" y2="569.7" stroke="#222" stroke-width="0.9"/>
<line x1="380.1" y1="573.9" x2="384.3" y2="573.9" stroke="#222" stroke-width="0.9"/>
<line x1="380.1" y1="578.2" x2="384.3" y2="578.2" stroke="#222" stroke-width="0.9"/>
<line x1="380.1" y1="582.4" x2="384.3" y2="582.4" stroke="#222" stroke-width="0.9"/>
<line x1="384.3" y1="582.2" x2="428.6" y2="582.2" stroke="#333" stroke-width="0.9"/>
<line x1="384.3" y1="582.2" x2="384.3" y2="586.4" stroke="#333" stroke-width="0.9"/>
<line x1="391.7" y1="582.2" x2="391.7" y2="586.4" stroke="#333" stroke-width="0.9"/>
<line x1="399.1" y1="582.2" x2="399.1" y2="586.4" stroke="#333" stroke-width="0.9"/>
<line x1="406.5" y1="582.2" x2="406.5" y2="586.4" stroke="#333" stroke-width="0.9"/>
<line x1="413.8" y1="582.2" x2="413.8" y2="586.4" stroke="#333" stroke-width="0.9"/>
<line x1="421.2" y1="582.2" x2="421.2" y2="586.4" stroke="#333" stroke-width="0.9"/>
<line x1="428.6" y1="582.2" x2="428.6" y2="586.4" stroke="#333" stroke-width="0.9"/>
<text x="383.9" y="598.8" text-anchor="middle" style="font-family:&quot;Liberation Sans&quot;,sans-serif;font-size:7.5px" fill="#111">5</text>
<text x="398.9" y="598.8" text-anchor="middle" style="font-family:&quot;Liberation Sans&quot;,sans-serif;font-size:7.5px" fill="#111">7</text>
<text x="413.2" y="598.8" text-anchor="middle" style="font-family:&quot;Liberation Sans&quot;,sans-serif;font-size:7.5px" fill="#111">9</text>
<text x="428.3" y="598.8" text-anchor="middle" style="font-family:&quot;Liberation Sans&quot;,sans-serif;font-size:7.5px" fill="#111">11</text>
<text x="406.4" y="552.2" text-anchor="middle" style="font-family:&quot;Liberation Sans&quot;,sans-serif;font-size:7.8px;font-weight:bold" fill="#111">Color Key</text>
<text x="406.4" y="562.8" text-anchor="middle" style="font-family:&quot;Liberation Sans&quot;,sans-serif;font-size:7.8px;font-weight:bold" fill="#111">and Histogram</text>
<text x="406.4" y="611.5" text-anchor="middle" style="font-family:&quot;Liberation Sans&quot;,sans-serif;font-size:9.2px" fill="#111">Value</text>
<text transform="translate(369.7,572.3) rotate(-90)" text-anchor="middle" style="font-family:&quot;Liberation Sans&quot;,sans-serif;font-size:9.7px" fill="#111">Count</text>
<text transform="translate(372.5,582.2) rotate(-90)" text-anchor="middle" style="font-family:&quot;Liberation Sans&quot;,sans-serif;font-size:5.5px" fill="#111">0</text>
<polyline points="96.9,624.7 96.9,605.1 120.9,605.1 120.9,624.7" fill="none" stroke="#333" stroke-width="0.9"/>
<polyline points="144.8,624.7 144.8,607.7 168.2,607.7 168.2,624.7" fill="none" stroke="#333" stroke-width="0.9"/>
<polyline points="108.9,605.1 108.9,586.4 156.5,586.4 156.5,607.7" fill="none" stroke="#333" stroke-width="0.9"/>
<polyline points="192.4,624.7 192.4,610.7 216.1,610.7 216.1,624.7" fill="none" stroke="#333" stroke-width="0.9"/>
<polyline points="240,624.7 240,605.1 263.4,605.1 263.4,624.7" fill="none" stroke="#333" stroke-width="0.9"/>
<polyline points="204.2,610.7 204.2,588.2 251.7,588.2 251.7,605.1" fill="none" stroke="#333" stroke-width="0.9"/>
<polyline points="132.7,586.4 132.7,547.9 227.95,547.9 227.95,588.2" fill="none" stroke="#333" stroke-width="0.9"/>
<polyline points="448.6,624.1 448.6,612.5 472.4,612.5 472.4,624.1" fill="none" stroke="#333" stroke-width="0.9"/>
<polyline points="496.1,624.1 496.1,612.5 519.9,612.5 519.9,624.1" fill="none" stroke="#333" stroke-width="0.9"/>
<polyline points="460.5,612.5 460.5,590.1 508,590.1 508,612.5" fill="none" stroke="#333" stroke-width="0.9"/>
<polyline points="543.7,624.1 543.7,613.5 567.4,613.5 567.4,624.1" fill="none" stroke="#333" stroke-width="0.9"/>
<polyline points="591.2,624.1 591.2,612.5 615,612.5 615,624.1" fill="none" stroke="#333" stroke-width="0.9"/>
<polyline points="555.55,613.5 555.55,583.3 603.1,583.3 603.1,612.5" fill="none" stroke="#333" stroke-width="0.9"/>
<polyline points="484.25,590.1 484.25,547.7 579.3,547.7 579.3,583.3" fill="none" stroke="#333" stroke-width="0.9"/>
<rect x="85.3" y="627" width="94.8" height="8.8" fill="#00f0f8"/>
<rect x="180.1" y="627" width="95" height="8.8" fill="#f50000"/>
<rect x="436.7" y="627.3" width="95.1" height="8.7" fill="#f50000"/>
<rect x="531.8" y="627.3" width="94.7" height="8.7" fill="#00f0f8"/>
<defs><filter id="hb" x="-2%" y="-2%" width="104%" height="104%"><feGaussianBlur stdDeviation="0.3 0.4"/></filter></defs><g filter="url(#hb)"><rect x="85.3" y="639.9" width="190" height="316.1" fill="#4a5a14"/><rect x="436.7" y="639.9" width="189.8" height="316.1" fill="#4a5a14"/>
<path fill="#72841e" d="M85.3 640h23.8v1h-23.8zM85.3 664.8h23.8v0.8h-23.8zM109 664.8h23.8v0.8h-23.8zM109 674.3h23.8v1h-23.8zM85.3 675.3h23.8v1h-23.8zM85.3 695.3h23.8v1.2h-23.8zM109 706.6h23.8v1h-23.8zM109 711h23.8v1.1h-23.8zM85.3 775.3h23.8v1.2h-23.8zM156.6 640.8h23.8v0.2h-23.8zM132.8 641h23.8v0.8h-23.8zM156.6 661.7h23.8v1h-23.8zM132.8 663.7h23.8v0.1h-23.8zM132.8 690h23.8v1h-23.8zM156.6 690h23.8v1h-23.8zM132.8 695.3h23.8v1h-23.8zM132.8 712h23.8v0.1h-23.8zM156.6 774h23.8v1h-23.8zM132.8 782.3h23.8v1.5h-23.8zM156.6 799.1h23.8v0.9h-23.8zM156.6 804.6h23.8v1h-23.8zM156.6 840.1h23.8v1h-23.8zM132.8 844.6h23.8v0.2h-23.8zM156.6 863.6h23.8v1.5h-23.8zM132.8 889.3h23.8v1h-23.8zM156.6 889.3h23.8v1h-23.8zM156.6 923.8h23.8v0.4h-23.8zM132.8 946.2h23.8v1h-23.8zM180.3 642.2h23.8v0.8h-23.8zM204.1 652.8h23.8v0.5h-23.8zM204.1 682h23.8v0.8h-23.8zM180.3 711.8h23.8v0.3h-23.8zM204.1 711.8h23.8v0.3h-23.8zM180.3 795h23.8v1.2h-23.8zM180.3 796.2h23.8v1h-23.8zM180.3 932.8h23.8v0.5h-23.8zM180.3 942.1h23.8v1h-23.8zM251.6 666.2h23.8v0.8h-23.8zM251.6 693.2h23.8v0.8h-23.8zM227.8 737h23.8v0.5h-23.8zM251.6 737h23.8v0.5h-23.8zM227.8 805h23.8v1.5h-23.8zM251.6 805h23.8v1.5h-23.8zM227.8 877.4h23.8v0.6h-23.8zM251.6 877.4h23.8v0.6h-23.8zM227.8 878.8h23.8v1.2h-23.8zM227.8 890.9h23.8v1.2h-23.8zM436.7 643.5h23.7v1h-23.7zM436.7 704.8h23.7v1h-23.7zM460.4 704.8h23.7v1h-23.7zM460.4 722.8h23.7v1h-23.7zM460.4 726.6h23.7v0.4h-23.7zM460.4 728.2h23.7v1h-23.7zM436.7 781.3h23.7v0.3h-23.7zM460.4 804.5h23.7v0.8h-23.7zM484.1 772.9h23.7v1h-23.7zM507.9 777.4h23.7v1h-23.7zM484.1 781.1h23.7v0.5h-23.7zM507.9 829.7h23.7v1h-23.7zM507.9 845.8h23.7v0.8h-23.7zM484.1 868h23.7v0.6h-23.7zM507.9 907h23.7v1.2h-23.7zM531.6 701.6h23.7v1.2h-23.7zM555.3 704.4h23.7v1h-23.7zM531.6 731.7h23.7v1h-23.7zM531.6 773.8h23.7v0.1h-23.7zM531.6 804.5h23.7v1h-23.7zM531.6 878h23.7v1h-23.7zM555.3 886.7h23.7v1.5h-23.7zM555.3 908.3h23.7v1h-23.7zM531.6 939.6h23.7v1.5h-23.7zM579 682h23.7v1h-23.7zM602.8 706.8h23.7v1h-23.7zM579 732.5h23.7v1h-23.7zM602.8 740.4h23.7v0.6h-23.7zM579 756.4h23.7v0.8h-23.7zM579 840.2h23.7v1h-23.7zM579 856h23.7v0.8h-23.7zM602.8 856h23.7v0.8h-23.7zM602.8 858.6h23.7v0.2h-23.7zM602.8 905.3h23.7v1.5h-23.7zM602.8 906.8h23.7v1.5h-23.7zM602.8 929.5h23.7v1.2h-23.7z"/>
<path fill="#667818" d="M109 640h23.8v1h-23.8zM85.3 642.8h23.8v1.5h-23.8zM85.3 644.3h23.8v0.7h-23.8zM85.3 654.7h23.8v0.8h-23.8zM85.3 655.5h23.8v1.2h-23.8zM109 655.5h23.8v1.2h-23.8zM109 695.3h23.8v1.2h-23.8zM85.3 706.6h23.8v1h-23.8zM85.3 920.7h23.8v1h-23.8zM109 955.6h23.8v0.4h-23.8zM132.8 640.8h23.8v0.2h-23.8zM156.6 663.7h23.8v0.1h-23.8zM156.6 695.3h23.8v1h-23.8zM156.6 701.6h23.8v1.5h-23.8zM132.8 711h23.8v1h-23.8zM156.6 711h23.8v1h-23.8zM156.6 712h23.8v0.1h-23.8zM132.8 768.2h23.8v1.2h-23.8zM132.8 799.1h23.8v0.9h-23.8zM156.6 838.6h23.8v1.5h-23.8zM132.8 863.6h23.8v1.5h-23.8zM156.6 891.1h23.8v0.9h-23.8zM180.3 694.7h23.8v0.6h-23.8zM180.3 808h23.8v0.4h-23.8zM204.1 905.4h23.8v0.6h-23.8zM251.6 653h23.8v0.3h-23.8zM251.6 811.6h23.8v1h-23.8zM460.4 645.5h23.7v0.1h-23.7zM460.4 682h23.7v1h-23.7zM460.4 702.3h23.7v1.5h-23.7zM436.7 726.6h23.7v0.4h-23.7zM460.4 780.1h23.7v1.2h-23.7zM436.7 804.5h23.7v0.8h-23.7zM460.4 856.3h23.7v0.8h-23.7zM507.9 644.5h23.7v1.1h-23.7zM507.9 739h23.7v1h-23.7zM507.9 778.4h23.7v1.5h-23.7zM531.6 732.7h23.7v1h-23.7zM555.3 732.7h23.7v1h-23.7zM531.6 752.2h23.7v1.2h-23.7zM555.3 752.2h23.7v1.2h-23.7zM531.6 754.2h23.7v1.5h-23.7zM555.3 754.2h23.7v1.5h-23.7zM555.3 885.7h23.7v1h-23.7zM555.3 909.3h23.7v0.9h-23.7zM602.8 684h23.7v0.8h-23.7zM602.8 833h23.7v1.5h-23.7zM602.8 909.3h23.7v0.9h-23.7z"/>
<path fill="#a22406" d="M85.3 641h23.8v0.8h-23.8zM109 641h23.8v0.8h-23.8zM109 646.8h23.8v1.2h-23.8zM85.3 740.8h23.8v1h-23.8zM109 740.8h23.8v1h-23.8zM85.3 794.4h23.8v1h-23.8zM85.3 795.4h23.8v0.2h-23.8zM85.3 850.9h23.8v1h-23.8zM85.3 869.6h23.8v0.4h-23.8zM109 882h23.8v1h-23.8zM85.3 884.5h23.8v1.2h-23.8zM109 884.5h23.8v1.2h-23.8zM132.8 744.4h23.8v0.1h-23.8zM156.6 858.2h23.8v0.8h-23.8zM156.6 880.8h23.8v1h-23.8zM132.8 940.8h23.8v1h-23.8zM132.8 944h23.8v1.2h-23.8zM180.3 647.8h23.8v0.2h-23.8zM204.1 716.9h23.8v0.8h-23.8zM180.3 733.4h23.8v0.6h-23.8zM180.3 805h23.8v1h-23.8zM204.1 825.8h23.8v0.1h-23.8zM204.1 861.2h23.8v0.4h-23.8zM180.3 880.8h23.8v1.5h-23.8zM204.1 880.8h23.8v1.5h-23.8zM227.8 642.4h23.8v1.5h-23.8zM251.6 655.1h23.8v0.3h-23.8zM227.8 663h23.8v1h-23.8zM251.6 714.9h23.8v1h-23.8zM227.8 717.1h23.8v0.6h-23.8zM227.8 725h23.8v1.2h-23.8zM251.6 764.1h23.8v0.8h-23.8zM251.6 786.8h23.8v1.2h-23.8zM251.6 825.3h23.8v0.6h-23.8zM227.8 837.2h23.8v1.5h-23.8zM227.8 881h23.8v0.8h-23.8zM227.8 901.5h23.8v1h-23.8zM251.6 901.5h23.8v1h-23.8zM251.6 902.5h23.8v0.7h-23.8zM227.8 929.4h23.8v0.4h-23.8zM436.7 702.2h23.7v0.1h-23.7zM436.7 735h23.7v1h-23.7zM460.4 821h23.7v1h-23.7zM436.7 837.2h23.7v0.6h-23.7zM460.4 849h23.7v1.2h-23.7zM507.9 654.3h23.7v1.1h-23.7zM484.1 661.1h23.7v1h-23.7zM507.9 661.1h23.7v1h-23.7zM507.9 678.6h23.7v1.2h-23.7zM484.1 701.1h23.7v1h-23.7zM484.1 770.1h23.7v0.3h-23.7zM484.1 788.3h23.7v0.8h-23.7zM507.9 788.3h23.7v0.8h-23.7zM507.9 806.6h23.7v1h-23.7zM507.9 807.6h23.7v0.8h-23.7zM507.9 884.9h23.7v0.8h-23.7zM507.9 901.2h23.7v0.6h-23.7zM484.1 901.8h23.7v1h-23.7zM484.1 903.8h23.7v0.8h-23.7zM507.9 903.8h23.7v0.8h-23.7zM484.1 947.3h23.7v1h-23.7zM507.9 947.3h23.7v1h-23.7zM484.1 955h23.7v0.8h-23.7zM555.3 649.8h23.7v1h-23.7zM555.3 678.5h23.7v1.5h-23.7zM531.6 680h23.7v1.2h-23.7zM555.3 680h23.7v1.2h-23.7zM531.6 681.2h23.7v0.8h-23.7zM555.3 696h23.7v1h-23.7zM531.6 700.4h23.7v0.8h-23.7zM531.6 701.2h23.7v0.4h-23.7zM531.6 727.9h23.7v1.5h-23.7zM555.3 766.2h23.7v1h-23.7zM531.6 769.7h23.7v0.7h-23.7zM531.6 811.9h23.7v0.7h-23.7zM531.6 822.4h23.7v1h-23.7zM531.6 837.4h23.7v1h-23.7zM555.3 837.4h23.7v1h-23.7zM555.3 849.8h23.7v1.5h-23.7zM555.3 875.2h23.7v0.8h-23.7zM531.6 896.2h23.7v1.4h-23.7zM555.3 896.2h23.7v1.4h-23.7zM555.3 921.4h23.7v1h-23.7zM531.6 922.4h23.7v1.5h-23.7zM555.3 925.4h23.7v0.8h-23.7zM531.6 943.8h23.7v1h-23.7zM531.6 944.8h23.7v1h-23.7zM555.3 948.8h23.7v0.8h-23.7zM531.6 951.4h23.7v0.1h-23.7zM555.3 951.4h23.7v0.1h-23.7zM579 696h23.7v1.5h-23.7zM579 717.3h23.7v1h-23.7zM602.8 719.1h23.7v0.9h-23.7zM602.8 724.5h23.7v1h-23.7zM579 725.5h23.7v1h-23.7zM579 730.2h23.7v0.3h-23.7zM602.8 730.2h23.7v0.3h-23.7zM602.8 748.4h23.7v1.2h-23.7zM602.8 755.9h23.7v0.5h-23.7zM579 768.9h23.7v1h-23.7zM602.8 779.2h23.7v1.2h-23.7zM579 785.3h23.7v0.8h-23.7zM579 787.9h23.7v0.7h-23.7zM602.8 787.9h23.7v0.7h-23.7zM579 798.7h23.7v1.2h-23.7zM579 800h23.7v0.8h-23.7zM579 807.8h23.7v1h-23.7zM579 808.8h23.7v0.8h-23.7zM602.8 811.8h23.7v0.8h-23.7zM579 849.8h23.7v1h-23.7zM579 888.5h23.7v1h-23.7zM579 901.8h23.7v1.2h-23.7zM602.8 903h23.7v1.5h-23.7zM579 916.9h23.7v1.2h-23.7zM579 935h23.7v1h-23.7zM602.8 935h23.7v1h-23.7zM579 944.8h23.7v1.5h-23.7zM602.8 944.8h23.7v1.5h-23.7zM579 950.1h23.7v1h-23.7zM579 952.5h23.7v1h-23.7z"/>
<path fill="#727218" d="M85.3 641.8h23.8v1h-23.8zM109 689h23.8v1.2h-23.8zM109 710h23.8v1h-23.8zM109 801h23.8v1h-23.8zM109 923.2h23.8v1h-23.8zM85.3 947.2h23.8v0.8h-23.8zM132.8 721h23.8v1h-23.8zM132.8 744.5h23.8v1h-23.8zM156.6 763.4h23.8v1h-23.8zM132.8 791.4h23.8v1h-23.8zM132.8 870h23.8v0.8h-23.8zM156.6 870.8h23.8v1.5h-23.8zM180.3 652h23.8v0.8h-23.8zM204.1 652h23.8v0.8h-23.8zM180.3 692.1h23.8v1h-23.8zM180.3 737.5h23.8v1h-23.8zM204.1 767.9h23.8v0.4h-23.8zM204.1 864.3h23.8v0.8h-23.8zM180.3 914.8h23.8v1h-23.8zM227.8 769.3h23.8v0.8h-23.8zM436.7 696.7h23.7v0.7h-23.7zM460.4 696.7h23.7v0.7h-23.7zM460.4 736.8h23.7v0.8h-23.7zM436.7 818.2h23.7v1.2h-23.7zM460.4 832.9h23.7v0.8h-23.7zM436.7 908h23.7v0.8h-23.7zM436.7 933.3h23.7v1h-23.7zM436.7 936.3h23.7v0.5h-23.7zM507.9 914.8h23.7v1h-23.7zM484.1 919.1h23.7v0.8h-23.7zM531.6 644.8h23.7v0.8h-23.7zM555.3 705.4h23.7v0.4h-23.7zM555.3 771.6h23.7v1h-23.7zM555.3 779.2h23.7v1h-23.7zM531.6 835.6h23.7v0.8h-23.7zM579 661.5h23.7v0.2h-23.7zM579 821.5h23.7v0.8h-23.7zM602.8 821.5h23.7v0.8h-23.7zM579 855.8h23.7v0.2h-23.7z"/>
<path fill="#6c6c12" d="M109 641.8h23.8v1h-23.8zM156.6 662.7h23.8v1h-23.8zM156.6 738.5h23.8v1h-23.8zM156.6 901.1h23.8v1.5h-23.8zM156.6 945.2h23.8v1h-23.8zM204.1 755.7h23.8v1.5h-23.8zM180.3 851.1h23.8v1.2h-23.8zM251.6 835.5h23.8v0.9h-23.8zM251.6 916.7h23.8v1.2h-23.8zM251.6 935.1h23.8v0.8h-23.8zM436.7 736.8h23.7v0.8h-23.7zM460.4 757h23.7v0.8h-23.7zM460.4 778.6h23.7v1.5h-23.7zM436.7 829.9h23.7v1h-23.7zM460.4 829.9h23.7v1h-23.7zM507.9 662.1h23.7v0.3h-23.7zM484.1 703.5h23.7v1h-23.7zM484.1 799.8h23.7v0.2h-23.7zM507.9 799.8h23.7v0.2h-23.7zM507.9 818.2h23.7v1h-23.7zM484.1 819.2h23.7v0.8h-23.7zM507.9 913.8h23.7v1h-23.7zM555.3 642.2h23.7v0.6h-23.7zM555.3 650.8h23.7v1h-23.7zM531.6 687.6h23.7v1h-23.7zM555.3 753.4h23.7v0.8h-23.7zM531.6 852.5h23.7v1.2h-23.7z"/>
<path fill="#6c7e18" d="M109 642.8h23.8v1.5h-23.8zM109 644.3h23.8v0.7h-23.8zM85.3 672.1h23.8v0.1h-23.8zM109 672.1h23.8v0.1h-23.8zM85.3 674.3h23.8v1h-23.8zM109 675.3h23.8v1h-23.8zM109 720h23.8v1.2h-23.8zM85.3 804.3h23.8v1h-23.8zM109 805.3h23.8v1h-23.8zM132.8 661.7h23.8v1h-23.8zM156.6 689h23.8v1h-23.8zM132.8 701.6h23.8v1.5h-23.8zM132.8 746.5h23.8v0.1h-23.8zM132.8 774h23.8v1h-23.8zM156.6 782.3h23.8v1.5h-23.8zM132.8 795.6h23.8v1h-23.8zM132.8 805.6h23.8v0.7h-23.8zM156.6 805.6h23.8v0.7h-23.8zM132.8 816.2h23.8v0.6h-23.8zM156.6 816.2h23.8v0.6h-23.8zM132.8 837.8h23.8v0.8h-23.8zM156.6 844.6h23.8v0.2h-23.8zM132.8 862.6h23.8v1h-23.8zM156.6 862.6h23.8v1h-23.8zM156.6 865.1h23.8v0.7h-23.8zM132.8 923.8h23.8v0.4h-23.8zM132.8 931.6h23.8v0.3h-23.8zM156.6 931.6h23.8v0.3h-23.8zM156.6 946.2h23.8v1h-23.8zM180.3 640h23.8v0.8h-23.8zM180.3 652.8h23.8v0.5h-23.8zM180.3 699.5h23.8v1.2h-23.8zM204.1 699.5h23.8v1.2h-23.8zM180.3 700.7h23.8v1.5h-23.8zM180.3 702.2h23.8v0.1h-23.8zM204.1 796.2h23.8v1h-23.8zM204.1 861.6h23.8v1.5h-23.8zM180.3 905.4h23.8v0.6h-23.8zM204.1 932.8h23.8v0.5h-23.8zM180.3 954.5h23.8v1h-23.8zM204.1 954.5h23.8v1h-23.8zM227.8 653h23.8v0.3h-23.8zM227.8 666.2h23.8v0.8h-23.8zM227.8 694h23.8v1h-23.8zM251.6 700.5h23.8v1.2h-23.8zM227.8 735h23.8v1.2h-23.8zM251.6 736.2h23.8v0.8h-23.8zM227.8 812.6h23.8v1h-23.8zM227.8 863.8h23.8v1h-23.8zM251.6 863.8h23.8v1h-23.8zM251.6 878.8h23.8v1.2h-23.8zM227.8 894.9h23.8v1.5h-23.8zM251.6 894.9h23.8v1.5h-23.8zM227.8 935.9h23.8v1.5h-23.8zM251.6 935.9h23.8v1.5h-23.8zM227.8 938.9h23.8v1.2h-23.8zM460.4 642h23.7v1.5h-23.7zM460.4 643.5h23.7v1h-23.7zM436.7 644.5h23.7v1h-23.7zM436.7 645.5h23.7v0.1h-23.7zM436.7 682h23.7v1h-23.7zM436.7 702.3h23.7v1.5h-23.7zM436.7 721h23.7v1h-23.7zM436.7 722.8h23.7v1h-23.7zM460.4 724.6h23.7v1h-23.7zM436.7 728.2h23.7v1h-23.7zM436.7 736h23.7v0.8h-23.7zM460.4 736h23.7v0.8h-23.7zM436.7 738.8h23.7v1.2h-23.7zM460.4 759.8h23.7v1h-23.7zM460.4 777.4h23.7v1.2h-23.7zM436.7 780.1h23.7v1.2h-23.7zM460.4 781.3h23.7v0.3h-23.7zM460.4 805.3h23.7v0.3h-23.7zM436.7 856.3h23.7v0.8h-23.7zM436.7 857.1h23.7v1h-23.7zM460.4 857.1h23.7v1h-23.7zM436.7 920h23.7v1h-23.7zM460.4 920h23.7v1h-23.7zM436.7 926.5h23.7v1h-23.7zM460.4 926.5h23.7v1h-23.7zM484.1 643.5h23.7v1h-23.7zM484.1 683.8h23.7v1h-23.7zM507.9 683.8h23.7v1h-23.7zM484.1 705.8h23.7v0.8h-23.7zM507.9 705.8h23.7v0.8h-23.7zM507.9 724.3h23.7v1h-23.7zM507.9 741h23.7v1h-23.7zM484.1 742h23.7v0.4h-23.7zM507.9 781.1h23.7v0.5h-23.7zM484.1 829.7h23.7v1h-23.7zM507.9 863.3h23.7v1h-23.7zM507.9 865.8h23.7v1.2h-23.7zM484.1 907h23.7v1.2h-23.7zM555.3 643.6h23.7v1.2h-23.7zM531.6 702.8h23.7v0.8h-23.7zM531.6 704.4h23.7v1h-23.7zM555.3 773.8h23.7v0.1h-23.7zM531.6 803.5h23.7v1h-23.7zM555.3 878h23.7v1h-23.7zM531.6 886.7h23.7v1.5h-23.7zM531.6 906.1h23.7v1h-23.7zM531.6 908.3h23.7v1h-23.7zM531.6 909.3h23.7v0.9h-23.7zM555.3 939.6h23.7v1.5h-23.7zM579 649.8h23.7v1h-23.7zM602.8 649.8h23.7v1h-23.7zM602.8 682h23.7v1h-23.7zM602.8 732.5h23.7v1h-23.7zM579 795h23.7v1.2h-23.7zM602.8 795h23.7v1.2h-23.7zM579 833h23.7v1.5h-23.7zM579 870h23.7v0.8h-23.7zM579 905.3h23.7v1.5h-23.7zM602.8 908.3h23.7v1h-23.7zM579 909.3h23.7v0.9h-23.7z"/>
<path fill="#a83c0c" d="M85.3 645h23.8v0.8h-23.8zM132.8 646h23.8v1.2h-23.8zM156.6 758.5h23.8v1.5h-23.8zM156.6 924.2h23.8v0.8h-23.8zM227.8 698.2h23.8v1.2h-23.8zM436.7 861.1h23.7v1.2h-23.7zM555.3 675.1h23.7v1h-23.7z"/>
<path fill="#9c360c" d="M109 645h23.8v0.8h-23.8zM109 939.6h23.8v0.8h-23.8zM85.3 944.1h23.8v1h-23.8zM132.8 703.1h23.8v0.6h-23.8zM132.8 758.5h23.8v1.5h-23.8zM132.8 832.8h23.8v1h-23.8zM132.8 924.2h23.8v0.8h-23.8zM156.6 939.6h23.8v1.2h-23.8zM204.1 824.6h23.8v1.2h-23.8zM180.3 926.3h23.8v1.5h-23.8zM204.1 928.8h23.8v1h-23.8zM251.6 927.2h23.8v1.2h-23.8zM460.4 680h23.7v1.5h-23.7zM460.4 700h23.7v1.2h-23.7zM436.7 949.5h23.7v0.8h-23.7zM460.4 949.5h23.7v0.8h-23.7zM484.1 718.5h23.7v1h-23.7zM507.9 718.5h23.7v1h-23.7zM484.1 900h23.7v1.2h-23.7zM507.9 900h23.7v1.2h-23.7zM484.1 951.5h23.7v0.7h-23.7zM484.1 953.8h23.7v1.2h-23.7zM507.9 953.8h23.7v1.2h-23.7zM531.6 807.3h23.7v0.8h-23.7zM555.3 807.3h23.7v0.8h-23.7zM602.8 653.3h23.7v0.8h-23.7zM579 675.2h23.7v1h-23.7zM579 677h23.7v1h-23.7zM579 714.2h23.7v0.8h-23.7zM579 716.5h23.7v0.8h-23.7zM602.8 767.4h23.7v1.5h-23.7zM602.8 793.8h23.7v1.2h-23.7zM579 838.4h23.7v0.8h-23.7zM602.8 838.4h23.7v0.8h-23.7zM602.8 891h23.7v1h-23.7zM579 895.7h23.7v0.8h-23.7zM579 925.5h23.7v1h-23.7z"/>
<path fill="#a82a06" d="M85.3 645.8h23.8v1h-23.8zM109 645.8h23.8v1h-23.8zM85.3 646.8h23.8v1.2h-23.8zM109 721.2h23.8v0.8h-23.8zM109 731.2h23.8v1.5h-23.8zM109 794.4h23.8v1h-23.8zM85.3 856.7h23.8v0.8h-23.8zM85.3 857.5h23.8v0.8h-23.8zM85.3 883h23.8v1.5h-23.8zM109 883h23.8v1.5h-23.8zM85.3 924.2h23.8v1h-23.8zM109 924.2h23.8v1h-23.8zM85.3 940.4h23.8v1.2h-23.8zM132.8 714.2h23.8v1h-23.8zM132.8 751.5h23.8v1.5h-23.8zM132.8 806.3h23.8v1.5h-23.8zM132.8 858.2h23.8v0.8h-23.8zM132.8 880.8h23.8v1h-23.8zM156.6 898.6h23.8v1.5h-23.8zM132.8 900.1h23.8v1h-23.8zM156.6 900.1h23.8v1h-23.8zM156.6 911.6h23.8v1.5h-23.8zM132.8 926h23.8v1.5h-23.8zM204.1 714.9h23.8v1h-23.8zM180.3 823.1h23.8v1.5h-23.8zM204.1 823.1h23.8v1.5h-23.8zM204.1 876.9h23.8v1.1h-23.8zM180.3 882.3h23.8v1.5h-23.8zM204.1 931.6h23.8v1.2h-23.8zM227.8 655.1h23.8v0.3h-23.8zM227.8 702.3h23.8v1.2h-23.8zM251.6 790h23.8v1h-23.8zM227.8 792h23.8v1.2h-23.8zM251.6 793.2h23.8v0.8h-23.8zM227.8 806.5h23.8v1h-23.8zM251.6 836.4h23.8v0.8h-23.8zM227.8 858.9h23.8v1h-23.8zM227.8 902.5h23.8v0.7h-23.8zM436.7 654.5h23.7v0.9h-23.7zM460.4 654.5h23.7v0.9h-23.7zM436.7 692.5h23.7v1.2h-23.7zM460.4 692.5h23.7v1.2h-23.7zM436.7 697.4h23.7v0.8h-23.7zM460.4 702.2h23.7v0.1h-23.7zM436.7 708h23.7v1.2h-23.7zM436.7 767.6h23.7v1.2h-23.7zM436.7 768.8h23.7v1h-23.7zM460.4 769.8h23.7v0.6h-23.7zM436.7 805.6h23.7v1.2h-23.7zM436.7 821h23.7v1h-23.7zM460.4 837.2h23.7v0.6h-23.7zM460.4 866.8h23.7v1h-23.7zM460.4 874.2h23.7v1.5h-23.7zM436.7 891.9h23.7v0.1h-23.7zM484.1 653.3h23.7v1h-23.7zM484.1 678.6h23.7v1.2h-23.7zM507.9 692.5h23.7v1.5h-23.7zM507.9 717h23.7v1.5h-23.7zM484.1 789.1h23.7v0.2h-23.7zM507.9 789.1h23.7v0.2h-23.7zM484.1 822.8h23.7v1.5h-23.7zM507.9 822.8h23.7v1.5h-23.7zM484.1 862.3h23.7v1h-23.7zM507.9 881.2h23.7v1h-23.7zM484.1 883.7h23.7v1.2h-23.7zM484.1 899h23.7v1h-23.7zM507.9 949.5h23.7v0.8h-23.7zM484.1 955.8h23.7v0.2h-23.7zM507.9 955.8h23.7v0.2h-23.7zM531.6 663.2h23.7v1.2h-23.7zM555.3 663.2h23.7v1.2h-23.7zM531.6 678.5h23.7v1.5h-23.7zM531.6 696h23.7v1h-23.7zM531.6 766.2h23.7v1h-23.7zM531.6 786.4h23.7v1.5h-23.7zM555.3 800h23.7v1h-23.7zM531.6 806.3h23.7v1h-23.7zM555.3 811.9h23.7v0.7h-23.7zM555.3 822.4h23.7v1h-23.7zM531.6 823.4h23.7v1.2h-23.7zM531.6 824.6h23.7v0.6h-23.7zM555.3 824.6h23.7v0.6h-23.7zM555.3 836.4h23.7v1h-23.7zM531.6 849.8h23.7v1.5h-23.7zM531.6 851.3h23.7v0.8h-23.7zM555.3 851.3h23.7v0.8h-23.7zM531.6 875.2h23.7v0.8h-23.7zM531.6 876.8h23.7v0.2h-23.7zM555.3 876.8h23.7v0.2h-23.7zM531.6 921.4h23.7v1h-23.7zM555.3 944.8h23.7v1h-23.7zM555.3 946.8h23.7v1h-23.7zM555.3 949.6h23.7v1h-23.7zM579 641h23.7v1.2h-23.7zM602.8 717.3h23.7v1h-23.7zM579 719.1h23.7v0.9h-23.7zM602.8 728.7h23.7v1.5h-23.7zM579 748.4h23.7v1.2h-23.7zM579 766.2h23.7v1.2h-23.7zM579 781.6h23.7v1h-23.7zM602.8 781.6h23.7v1h-23.7zM579 796.2h23.7v1h-23.7zM602.8 797.2h23.7v1.5h-23.7zM602.8 807.8h23.7v1h-23.7zM602.8 809.6h23.7v1h-23.7zM579 811.8h23.7v0.8h-23.7zM602.8 830.7h23.7v0.1h-23.7zM602.8 849.8h23.7v1h-23.7zM602.8 888.5h23.7v1h-23.7zM579 904.5h23.7v0.8h-23.7zM602.8 950.1h23.7v1h-23.7zM579 951.5h23.7v1h-23.7zM602.8 951.5h23.7v1h-23.7zM579 953.5h23.7v1h-23.7z"/>
<path fill="#6c6012" d="M85.3 648h23.8v1h-23.8zM109 648h23.8v1h-23.8zM109 652.6h23.8v1.2h-23.8zM85.3 654.6h23.8v0.1h-23.8zM109 654.6h23.8v0.1h-23.8zM85.3 659.6h23.8v1h-23.8zM109 659.6h23.8v1h-23.8zM85.3 696.5h23.8v0.8h-23.8zM109 696.5h23.8v0.8h-23.8zM85.3 737.5h23.8v1.2h-23.8zM109 746h23.8v0.6h-23.8zM85.3 758.5h23.8v0.8h-23.8zM109 758.5h23.8v0.8h-23.8zM109 763.4h23.8v1.2h-23.8zM109 784.3h23.8v1.5h-23.8zM85.3 800h23.8v1h-23.8zM109 800h23.8v1h-23.8zM85.3 820.3h23.8v0.8h-23.8zM85.3 821.1h23.8v1.5h-23.8zM109 821.1h23.8v1.5h-23.8zM85.3 824.6h23.8v0.6h-23.8zM109 831.3h23.8v1.5h-23.8zM85.3 837.8h23.8v0.8h-23.8zM85.3 863.1h23.8v1h-23.8zM109 863.1h23.8v1h-23.8zM109 901.1h23.8v1.2h-23.8zM109 903.3h23.8v0.6h-23.8zM85.3 911.6h23.8v1.2h-23.8zM109 911.6h23.8v1.2h-23.8zM85.3 945.2h23.8v1h-23.8zM85.3 953.4h23.8v1h-23.8zM85.3 954.4h23.8v1.2h-23.8zM156.6 642.8h23.8v1.5h-23.8zM156.6 644.3h23.8v0.7h-23.8zM156.6 670.1h23.8v1.5h-23.8zM156.6 697.3h23.8v0.1h-23.8zM132.8 725.7h23.8v1.2h-23.8zM156.6 725.7h23.8v1.2h-23.8zM132.8 754h23.8v0.3h-23.8zM156.6 765.4h23.8v0.8h-23.8zM132.8 789.8h23.8v1h-23.8zM156.6 789.8h23.8v1h-23.8zM156.6 792.4h23.8v1.2h-23.8zM132.8 794.6h23.8v1h-23.8zM156.6 802.8h23.8v0.8h-23.8zM156.6 815.2h23.8v1h-23.8zM132.8 885.7h23.8v1h-23.8zM156.6 890.3h23.8v0.8h-23.8zM132.8 903.6h23.8v0.3h-23.8zM156.6 903.6h23.8v0.3h-23.8zM156.6 914.1h23.8v0.3h-23.8zM156.6 953h23.8v1.5h-23.8zM180.3 641.4h23.8v0.8h-23.8zM204.1 641.4h23.8v0.8h-23.8zM204.1 643.8h23.8v1.2h-23.8zM180.3 651h23.8v1h-23.8zM180.3 655.4h23.8v1.2h-23.8zM204.1 655.4h23.8v1.2h-23.8zM180.3 670.1h23.8v0.8h-23.8zM180.3 674.3h23.8v0.8h-23.8zM180.3 677.4h23.8v1h-23.8zM180.3 678.4h23.8v0.1h-23.8zM204.1 678.4h23.8v0.1h-23.8zM180.3 697.4h23.8v1.5h-23.8zM180.3 734h23.8v0.8h-23.8zM180.3 751.5h23.8v0.7h-23.8zM180.3 758.4h23.8v0.1h-23.8zM204.1 764.9h23.8v0.8h-23.8zM180.3 766.7h23.8v1.2h-23.8zM204.1 766.7h23.8v1.2h-23.8zM180.3 775.1h23.8v0.9h-23.8zM180.3 831.5h23.8v1.2h-23.8zM204.1 831.5h23.8v1.2h-23.8zM180.3 832.7h23.8v1.5h-23.8zM180.3 835.4h23.8v1h-23.8zM204.1 839.4h23.8v0.8h-23.8zM204.1 843.8h23.8v1h-23.8zM180.3 889.9h23.8v0.8h-23.8zM180.3 894.9h23.8v1.5h-23.8zM204.1 903.2h23.8v1.2h-23.8zM204.1 904.4h23.8v1h-23.8zM204.1 913h23.8v1h-23.8zM180.3 914h23.8v0.8h-23.8zM204.1 914h23.8v0.8h-23.8zM180.3 915.8h23.8v1h-23.8zM204.1 915.8h23.8v1h-23.8zM180.3 916.8h23.8v1.2h-23.8zM251.6 688.3h23.8v1h-23.8zM251.6 689.3h23.8v1.5h-23.8zM227.8 691.1h23.8v1h-23.8zM251.6 692.1h23.8v1h-23.8zM227.8 695.3h23.8v1.5h-23.8zM251.6 710.3h23.8v1.2h-23.8zM227.8 715.9h23.8v1.2h-23.8zM251.6 715.9h23.8v1.2h-23.8zM227.8 774.1h23.8v1h-23.8zM227.8 794h23.8v0.2h-23.8zM251.6 794h23.8v0.2h-23.8zM251.6 809.4h23.8v1h-23.8zM227.8 819h23.8v1.5h-23.8zM227.8 831.5h23.8v1h-23.8zM251.6 831.5h23.8v1h-23.8zM227.8 848.9h23.8v1h-23.8zM251.6 848.9h23.8v1h-23.8zM251.6 875.2h23.8v1h-23.8zM227.8 876.2h23.8v1.2h-23.8zM227.8 915.2h23.8v1.5h-23.8zM251.6 917.9h23.8v0.7h-23.8zM251.6 937.4h23.8v1.5h-23.8zM436.7 641.8h23.7v0.2h-23.7zM460.4 641.8h23.7v0.2h-23.7zM460.4 660.4h23.7v1h-23.7zM436.7 666h23.7v1.5h-23.7zM460.4 666h23.7v1.5h-23.7zM436.7 693.7h23.7v1.2h-23.7zM436.7 695.9h23.7v0.8h-23.7zM460.4 715.2h23.7v0.8h-23.7zM460.4 755h23.7v1h-23.7zM436.7 756h23.7v1h-23.7zM460.4 770.4h23.7v1h-23.7zM436.7 771.4h23.7v1.2h-23.7zM460.4 772.6h23.7v1h-23.7zM436.7 788.5h23.7v0.8h-23.7zM436.7 793.8h23.7v1.5h-23.7zM460.4 810.9h23.7v1h-23.7zM460.4 811.9h23.7v0.7h-23.7zM460.4 819.4h23.7v1h-23.7zM436.7 831.9h23.7v1h-23.7zM460.4 865.3h23.7v0.5h-23.7zM436.7 876.3h23.7v1h-23.7zM460.4 876.3h23.7v1h-23.7zM460.4 924.2h23.7v0.8h-23.7zM460.4 935.3h23.7v1h-23.7zM507.9 640h23.7v1.5h-23.7zM507.9 652.9h23.7v0.4h-23.7zM484.1 667.2h23.7v0.8h-23.7zM484.1 682h23.7v1h-23.7zM507.9 682h23.7v1h-23.7zM507.9 731.2h23.7v1.2h-23.7zM507.9 737.8h23.7v1.2h-23.7zM507.9 757.8h23.7v1h-23.7zM484.1 771.4h23.7v1.5h-23.7zM507.9 771.4h23.7v1.5h-23.7zM507.9 792.8h23.7v1h-23.7zM484.1 797.8h23.7v1h-23.7zM507.9 797.8h23.7v1h-23.7zM507.9 798.8h23.7v1h-23.7zM484.1 809.4h23.7v1.5h-23.7zM484.1 820h23.7v1h-23.7zM507.9 830.7h23.7v1.2h-23.7zM484.1 834.5h23.7v1.2h-23.7zM507.9 834.5h23.7v1.2h-23.7zM484.1 842h23.7v1.5h-23.7zM507.9 843.5h23.7v1.2h-23.7zM507.9 844.7h23.7v0.1h-23.7zM484.1 855.3h23.7v1h-23.7zM507.9 855.3h23.7v1h-23.7zM507.9 856.3h23.7v1.5h-23.7zM507.9 857.8h23.7v1h-23.7zM484.1 864.3h23.7v1h-23.7zM507.9 865.3h23.7v0.5h-23.7zM484.1 915.8h23.7v0.8h-23.7zM507.9 919.9h23.7v0.1h-23.7zM484.1 926h23.7v1.5h-23.7zM507.9 926h23.7v1.5h-23.7zM484.1 927.5h23.7v0.2h-23.7zM555.3 654.3h23.7v0.8h-23.7zM531.6 655.1h23.7v0.3h-23.7zM555.3 655.1h23.7v0.3h-23.7zM531.6 659h23.7v1h-23.7zM555.3 660h23.7v1.5h-23.7zM531.6 661.5h23.7v0.2h-23.7zM555.3 669h23.7v0.8h-23.7zM531.6 733.7h23.7v0.3h-23.7zM531.6 736.1h23.7v1.2h-23.7zM555.3 736.1h23.7v1.2h-23.7zM555.3 747.4h23.7v1.5h-23.7zM555.3 748.9h23.7v1h-23.7zM555.3 777.4h23.7v0.8h-23.7zM531.6 781.4h23.7v1.2h-23.7zM531.6 788.6h23.7v1h-23.7zM531.6 816.1h23.7v1.5h-23.7zM555.3 818.6h23.7v0.8h-23.7zM531.6 829.6h23.7v1.2h-23.7zM555.3 829.6h23.7v1.2h-23.7zM531.6 843h23.7v1.2h-23.7zM555.3 843h23.7v1.2h-23.7zM531.6 844.2h23.7v1.5h-23.7zM531.6 852.1h23.7v0.4h-23.7zM531.6 853.7h23.7v1h-23.7zM555.3 855.9h23.7v0.1h-23.7zM531.6 858.5h23.7v0.3h-23.7zM555.3 858.5h23.7v0.3h-23.7zM531.6 858.8h23.7v1h-23.7zM555.3 858.8h23.7v1h-23.7zM555.3 888.5h23.7v1h-23.7zM555.3 937.3h23.7v1h-23.7zM531.6 951.5h23.7v1.2h-23.7zM531.6 953.9h23.7v1.5h-23.7zM555.3 953.9h23.7v1.5h-23.7zM531.6 955.4h23.7v0.6h-23.7zM555.3 955.4h23.7v0.6h-23.7zM602.8 642.8h23.7v0.8h-23.7zM579 659h23.7v1.5h-23.7zM602.8 660.5h23.7v1h-23.7zM579 678.5h23.7v1.5h-23.7zM602.8 678.5h23.7v1.5h-23.7zM602.8 702.4h23.7v1h-23.7zM579 704.2h23.7v1h-23.7zM602.8 705.2h23.7v0.6h-23.7zM579 772.2h23.7v1.5h-23.7zM579 773.7h23.7v0.2h-23.7zM602.8 773.7h23.7v0.2h-23.7zM602.8 802h23.7v0.8h-23.7zM579 816.1h23.7v1.5h-23.7zM602.8 816.1h23.7v1.5h-23.7zM579 817.6h23.7v0.8h-23.7zM602.8 819.9h23.7v0.8h-23.7zM579 830.8h23.7v1h-23.7zM579 835.7h23.7v0.7h-23.7zM579 854h23.7v0.8h-23.7zM602.8 854h23.7v0.8h-23.7zM579 856.8h23.7v1h-23.7z"/>
<path fill="#3c8a12" d="M85.3 649h23.8v1.2h-23.8zM109 650.2h23.8v0.8h-23.8zM85.3 656.7h23.8v0.8h-23.8zM85.3 660.6h23.8v0.8h-23.8zM109 660.6h23.8v0.8h-23.8zM109 676.3h23.8v0.1h-23.8zM85.3 682h23.8v0.7h-23.8zM109 729.5h23.8v1.2h-23.8zM85.3 730.7h23.8v0.5h-23.8zM109 737.2h23.8v0.3h-23.8zM109 748.4h23.8v1.5h-23.8zM109 750.7h23.8v0.8h-23.8zM85.3 755.5h23.8v0.9h-23.8zM109 756.4h23.8v1.2h-23.8zM85.3 811.9h23.8v1.5h-23.8zM109 813.4h23.8v0.6h-23.8zM85.3 818.3h23.8v1h-23.8zM109 818.3h23.8v1h-23.8zM85.3 842h23.8v1.2h-23.8zM85.3 849.2h23.8v0.5h-23.8zM109 849.2h23.8v0.5h-23.8zM85.3 867.6h23.8v0.8h-23.8zM85.3 896.3h23.8v1h-23.8zM109 908.9h23.8v1.2h-23.8zM85.3 911.1h23.8v0.5h-23.8zM109 911.1h23.8v0.5h-23.8zM85.3 919.2h23.8v1h-23.8zM109 931.9h23.8v1.2h-23.8zM156.6 654.1h23.8v0.6h-23.8zM156.6 654.7h23.8v1h-23.8zM156.6 655.7h23.8v0.8h-23.8zM132.8 656.5h23.8v1h-23.8zM132.8 669h23.8v1h-23.8zM132.8 676.1h23.8v0.3h-23.8zM156.6 676.1h23.8v0.3h-23.8zM132.8 691h23.8v0.1h-23.8zM156.6 691h23.8v0.1h-23.8zM132.8 720h23.8v1h-23.8zM156.6 720h23.8v1h-23.8zM156.6 727h23.8v0.8h-23.8zM132.8 734.8h23.8v1h-23.8zM132.8 735.8h23.8v1.5h-23.8zM156.6 735.8h23.8v1.5h-23.8zM132.8 737.3h23.8v0.2h-23.8zM156.6 737.3h23.8v0.2h-23.8zM132.8 757.2h23.8v0.8h-23.8zM132.8 758h23.8v0.5h-23.8zM156.6 758h23.8v0.5h-23.8zM132.8 761.6h23.8v1.5h-23.8zM156.6 761.6h23.8v1.5h-23.8zM156.6 767.4h23.8v0.8h-23.8zM132.8 770.9h23.8v0.2h-23.8zM132.8 775.3h23.8v1h-23.8zM132.8 798.1h23.8v1h-23.8zM132.8 813.8h23.8v0.2h-23.8zM132.8 819.1h23.8v1.2h-23.8zM156.6 819.1h23.8v1.2h-23.8zM132.8 842.8h23.8v0.8h-23.8zM132.8 866.6h23.8v1h-23.8zM132.8 867.6h23.8v1.2h-23.8zM156.6 867.6h23.8v1.2h-23.8zM132.8 868.8h23.8v1h-23.8zM156.6 868.8h23.8v1h-23.8zM132.8 894.8h23.8v1.5h-23.8zM132.8 906.1h23.8v0.8h-23.8zM156.6 907.9h23.8v0.2h-23.8zM132.8 910.3h23.8v1h-23.8zM132.8 933.1h23.8v1.2h-23.8zM156.6 933.1h23.8v1.2h-23.8zM156.6 934.3h23.8v0.4h-23.8zM156.6 954.5h23.8v1.2h-23.8zM180.3 649h23.8v1.5h-23.8zM204.1 659.6h23.8v0.8h-23.8zM180.3 680.5h23.8v1.5h-23.8zM180.3 682.8h23.8v1.2h-23.8zM180.3 709.3h23.8v1.5h-23.8zM204.1 727.7h23.8v1h-23.8zM180.3 737.1h23.8v0.4h-23.8zM204.1 737.1h23.8v0.4h-23.8zM180.3 761.3h23.8v1h-23.8zM180.3 763.3h23.8v0.8h-23.8zM204.1 769.8h23.8v0.8h-23.8zM204.1 772.1h23.8v1.2h-23.8zM204.1 781.4h23.8v1.2h-23.8zM204.1 808.4h23.8v0.8h-23.8zM204.1 809.2h23.8v1.5h-23.8zM180.3 815.4h23.8v1h-23.8zM204.1 829.2h23.8v1h-23.8zM204.1 830.2h23.8v1h-23.8zM204.1 850.4h23.8v0.7h-23.8zM204.1 853.2h23.8v1h-23.8zM204.1 908h23.8v1.5h-23.8zM180.3 934.5h23.8v0.8h-23.8zM204.1 934.5h23.8v0.8h-23.8zM204.1 935.3h23.8v1h-23.8zM180.3 938.8h23.8v1.2h-23.8zM204.1 938.8h23.8v1.2h-23.8zM180.3 940h23.8v0.3h-23.8zM204.1 940h23.8v0.3h-23.8zM180.3 940.3h23.8v1h-23.8zM227.8 647.8h23.8v0.2h-23.8zM251.6 647.8h23.8v0.2h-23.8zM251.6 650.2h23.8v0.8h-23.8zM227.8 660.4h23.8v0.8h-23.8zM251.6 660.4h23.8v0.8h-23.8zM227.8 662.4h23.8v0.6h-23.8zM251.6 662.4h23.8v0.6h-23.8zM251.6 674.3h23.8v1h-23.8zM251.6 680.7h23.8v1h-23.8zM227.8 746.5h23.8v0.1h-23.8zM227.8 761.3h23.8v1.2h-23.8zM251.6 761.3h23.8v1.2h-23.8zM227.8 770.1h23.8v1h-23.8zM251.6 784.2h23.8v1.2h-23.8zM251.6 815.4h23.8v1h-23.8zM227.8 818.2h23.8v0.8h-23.8zM251.6 818.2h23.8v0.8h-23.8zM227.8 821.7h23.8v1h-23.8zM251.6 821.7h23.8v1h-23.8zM227.8 822.7h23.8v0.4h-23.8zM251.6 822.7h23.8v0.4h-23.8zM227.8 829.4h23.8v0.8h-23.8zM251.6 829.4h23.8v0.8h-23.8zM227.8 841.4h23.8v1.5h-23.8zM251.6 845.2h23.8v1h-23.8zM227.8 897.2h23.8v1.1h-23.8zM227.8 930.6h23.8v1.5h-23.8zM227.8 949.5h23.8v1.2h-23.8zM251.6 949.5h23.8v1.2h-23.8zM227.8 950.7h23.8v0.8h-23.8zM436.7 648.1h23.7v1h-23.7zM460.4 656.6h23.7v1.5h-23.7zM436.7 681.5h23.7v0.5h-23.7zM460.4 681.5h23.7v0.5h-23.7zM460.4 709.2h23.7v0.8h-23.7zM436.7 744.4h23.7v1h-23.7zM436.7 749.8h23.7v0.3h-23.7zM460.4 749.8h23.7v0.3h-23.7zM460.4 757.8h23.7v0.8h-23.7zM460.4 758.6h23.7v1.2h-23.7zM460.4 774.9h23.7v1h-23.7zM436.7 775.9h23.7v1h-23.7zM460.4 775.9h23.7v1h-23.7zM436.7 781.6h23.7v1.5h-23.7zM436.7 783.1h23.7v1h-23.7zM436.7 789.3h23.7v1h-23.7zM436.7 792.3h23.7v0.5h-23.7zM460.4 845.8h23.7v1.5h-23.7zM460.4 874h23.7v0.2h-23.7zM436.7 889.1h23.7v0.1h-23.7zM436.7 893.2h23.7v1h-23.7zM460.4 893.2h23.7v1h-23.7zM460.4 898.2h23.7v0.8h-23.7zM460.4 953.2h23.7v1.5h-23.7zM460.4 955.5h23.7v0.5h-23.7zM484.1 645.6h23.7v0.8h-23.7zM507.9 649.4h23.7v0.4h-23.7zM484.1 707.6h23.7v1h-23.7zM507.9 708.6h23.7v1.2h-23.7zM507.9 752.1h23.7v1h-23.7zM484.1 764h23.7v1.5h-23.7zM484.1 765.5h23.7v1h-23.7zM484.1 781.6h23.7v1h-23.7zM484.1 817.4h23.7v0.8h-23.7zM484.1 840.6h23.7v1.2h-23.7zM507.9 840.6h23.7v1.2h-23.7zM484.1 844.8h23.7v1h-23.7zM507.9 844.8h23.7v1h-23.7zM507.9 847.6h23.7v1.4h-23.7zM484.1 876.3h23.7v0.8h-23.7zM484.1 886.9h23.7v1.5h-23.7zM507.9 886.9h23.7v1.5h-23.7zM507.9 892h23.7v1.5h-23.7zM484.1 894.5h23.7v1.2h-23.7zM507.9 894.5h23.7v1.2h-23.7zM484.1 895.7h23.7v1h-23.7zM484.1 897.7h23.7v1h-23.7zM507.9 909.2h23.7v0.3h-23.7zM484.1 909.5h23.7v1h-23.7zM507.9 934.1h23.7v1.2h-23.7zM484.1 935.3h23.7v1h-23.7zM484.1 942.5h23.7v1.2h-23.7zM484.1 943.7h23.7v0.1h-23.7zM484.1 947h23.7v0.3h-23.7zM507.9 947h23.7v0.3h-23.7zM531.6 682h23.7v1h-23.7zM531.6 683h23.7v1h-23.7zM555.3 683h23.7v1h-23.7zM555.3 684h23.7v0.8h-23.7zM555.3 712.7h23.7v1h-23.7zM555.3 720h23.7v0.8h-23.7zM531.6 721.8h23.7v1.2h-23.7zM531.6 737.3h23.7v1.2h-23.7zM555.3 742.2h23.7v1h-23.7zM531.6 789.6h23.7v1h-23.7zM531.6 790.6h23.7v0.8h-23.7zM531.6 792.4h23.7v0.4h-23.7zM531.6 812.6h23.7v1h-23.7zM555.3 815.9h23.7v0.2h-23.7zM531.6 825.2h23.7v1h-23.7zM531.6 827.8h23.7v0.8h-23.7zM555.3 848.2h23.7v0.1h-23.7zM531.6 871.8h23.7v1.5h-23.7zM555.3 897.6h23.7v1.2h-23.7zM531.6 905.3h23.7v0.8h-23.7zM555.3 905.3h23.7v0.8h-23.7zM579 689.6h23.7v1.5h-23.7zM602.8 689.6h23.7v1.5h-23.7zM602.8 709h23.7v1h-23.7zM602.8 712.5h23.7v1.5h-23.7zM602.8 731.5h23.7v1h-23.7zM579 733.5h23.7v0.5h-23.7zM579 739.4h23.7v1h-23.7zM602.8 739.4h23.7v1h-23.7zM579 749.6h23.7v0.8h-23.7zM579 754.4h23.7v1.5h-23.7zM602.8 754.4h23.7v1.5h-23.7zM579 757.2h23.7v1h-23.7zM602.8 759.7h23.7v1.2h-23.7zM602.8 763.6h23.7v1h-23.7zM579 773.9h23.7v0.8h-23.7zM602.8 773.9h23.7v0.8h-23.7zM579 789.4h23.7v1.5h-23.7zM602.8 789.4h23.7v1.5h-23.7zM602.8 791.9h23.7v0.9h-23.7zM579 812.6h23.7v1.5h-23.7zM602.8 812.6h23.7v1.5h-23.7zM579 839.2h23.7v1h-23.7zM579 874.1h23.7v0.1h-23.7zM579 883.3h23.7v1.5h-23.7zM602.8 910.2h23.7v1h-23.7zM579 914.2h23.7v0.2h-23.7zM602.8 914.2h23.7v0.2h-23.7zM579 942h23.7v1.5h-23.7zM579 943.5h23.7v0.3h-23.7z"/>
<path fill="#3c9012" d="M109 649h23.8v1.2h-23.8zM85.3 650.2h23.8v0.8h-23.8zM85.3 676.3h23.8v0.1h-23.8zM85.3 728.5h23.8v1h-23.8zM109 728.5h23.8v1h-23.8zM85.3 729.5h23.8v1.2h-23.8zM85.3 733.3h23.8v1.5h-23.8zM109 733.3h23.8v1.5h-23.8zM109 734.8h23.8v1.2h-23.8zM85.3 748.4h23.8v1.5h-23.8zM85.3 750.7h23.8v0.8h-23.8zM85.3 757.6h23.8v0.9h-23.8zM109 757.6h23.8v0.9h-23.8zM85.3 785.8h23.8v1h-23.8zM109 811.9h23.8v1.5h-23.8zM85.3 853.5h23.8v0.8h-23.8zM85.3 855.8h23.8v0.9h-23.8zM109 855.8h23.8v0.9h-23.8zM85.3 889.3h23.8v1h-23.8zM109 889.3h23.8v1h-23.8zM109 891.8h23.8v0.2h-23.8zM109 896.3h23.8v1h-23.8zM109 908.1h23.8v0.8h-23.8zM85.3 908.9h23.8v1.2h-23.8zM85.3 916.5h23.8v1.5h-23.8zM85.3 918h23.8v1.2h-23.8zM109 918h23.8v1.2h-23.8zM85.3 920.2h23.8v0.5h-23.8zM109 920.2h23.8v0.5h-23.8zM85.3 931.9h23.8v1.2h-23.8zM85.3 934.1h23.8v0.6h-23.8zM109 934.1h23.8v0.6h-23.8zM132.8 654.1h23.8v0.6h-23.8zM132.8 655.7h23.8v0.8h-23.8zM156.6 656.5h23.8v1h-23.8zM132.8 664.8h23.8v1.2h-23.8zM156.6 669h23.8v1h-23.8zM132.8 699.5h23.8v1.5h-23.8zM132.8 708h23.8v1h-23.8zM132.8 729.8h23.8v1h-23.8zM156.6 729.8h23.8v1h-23.8zM156.6 734.8h23.8v1h-23.8zM156.6 754.3h23.8v1.5h-23.8zM156.6 770.9h23.8v0.2h-23.8zM132.8 783.8h23.8v1.2h-23.8zM156.6 798.1h23.8v1h-23.8zM156.6 810.1h23.8v1.2h-23.8zM132.8 812.8h23.8v1h-23.8zM156.6 812.8h23.8v1h-23.8zM156.6 842.8h23.8v0.8h-23.8zM156.6 849h23.8v0.7h-23.8zM132.8 865.8h23.8v0.8h-23.8zM156.6 866.6h23.8v1h-23.8zM156.6 896.3h23.8v1.2h-23.8zM156.6 904.9h23.8v1.2h-23.8zM156.6 906.1h23.8v0.8h-23.8zM132.8 906.9h23.8v1h-23.8zM156.6 906.9h23.8v1h-23.8zM156.6 910.3h23.8v1h-23.8zM132.8 913.1h23.8v1h-23.8zM156.6 913.1h23.8v1h-23.8zM132.8 918h23.8v1h-23.8zM132.8 919.8h23.8v0.9h-23.8zM156.6 919.8h23.8v0.9h-23.8zM132.8 934.3h23.8v0.4h-23.8zM132.8 954.5h23.8v1.2h-23.8zM180.3 640.8h23.8v0.6h-23.8zM204.1 640.8h23.8v0.6h-23.8zM180.3 650.5h23.8v0.5h-23.8zM204.1 650.5h23.8v0.5h-23.8zM180.3 659.6h23.8v0.8h-23.8zM180.3 661.6h23.8v1h-23.8zM204.1 661.6h23.8v1h-23.8zM180.3 662.6h23.8v0.4h-23.8zM204.1 662.6h23.8v0.4h-23.8zM204.1 680.5h23.8v1.5h-23.8zM180.3 684h23.8v0.1h-23.8zM204.1 709.3h23.8v1.5h-23.8zM180.3 710.8h23.8v1h-23.8zM204.1 710.8h23.8v1h-23.8zM180.3 727.7h23.8v1h-23.8zM180.3 729.5h23.8v1h-23.8zM180.3 736.3h23.8v0.8h-23.8zM180.3 768.3h23.8v1.5h-23.8zM204.1 768.3h23.8v1.5h-23.8zM180.3 769.8h23.8v0.8h-23.8zM180.3 772.1h23.8v1.2h-23.8zM180.3 784.1h23.8v1.2h-23.8zM180.3 799.7h23.8v0.3h-23.8zM180.3 808.4h23.8v0.8h-23.8zM180.3 809.2h23.8v1.5h-23.8zM180.3 828.4h23.8v0.8h-23.8zM204.1 828.4h23.8v0.8h-23.8zM180.3 829.2h23.8v1h-23.8zM180.3 830.2h23.8v1h-23.8zM180.3 836.4h23.8v1h-23.8zM204.1 836.4h23.8v1h-23.8zM180.3 849.2h23.8v1.2h-23.8zM204.1 849.2h23.8v1.2h-23.8zM204.1 867.9h23.8v1h-23.8zM180.3 871.5h23.8v1.2h-23.8zM204.1 871.5h23.8v1.2h-23.8zM180.3 908h23.8v1.5h-23.8zM204.1 929.8h23.8v1h-23.8zM251.6 648h23.8v1h-23.8zM227.8 650.2h23.8v0.8h-23.8zM251.6 659.6h23.8v0.8h-23.8zM227.8 668.2h23.8v1.2h-23.8zM227.8 674.3h23.8v1h-23.8zM227.8 675.3h23.8v1.1h-23.8zM251.6 675.3h23.8v1.1h-23.8zM251.6 746.5h23.8v0.1h-23.8zM227.8 779.3h23.8v0.9h-23.8zM227.8 781.2h23.8v1h-23.8zM251.6 781.2h23.8v1h-23.8zM251.6 783.2h23.8v1h-23.8zM227.8 784.2h23.8v1.2h-23.8zM227.8 816.4h23.8v1h-23.8zM251.6 816.4h23.8v1h-23.8zM227.8 827.9h23.8v1.5h-23.8zM251.6 827.9h23.8v1.5h-23.8zM227.8 845.2h23.8v1h-23.8zM227.8 853.2h23.8v1.2h-23.8zM251.6 853.2h23.8v1.2h-23.8zM227.8 854.4h23.8v1h-23.8zM251.6 854.4h23.8v1h-23.8zM227.8 855.4h23.8v1h-23.8zM227.8 878h23.8v0.8h-23.8zM251.6 878h23.8v0.8h-23.8zM251.6 897.2h23.8v1.1h-23.8zM227.8 904h23.8v1h-23.8zM251.6 905h23.8v1h-23.8zM251.6 930.6h23.8v1.5h-23.8zM227.8 933.3h23.8v0.8h-23.8zM251.6 945.2h23.8v1.5h-23.8zM251.6 950.7h23.8v0.8h-23.8zM436.7 656.6h23.7v1.5h-23.7zM436.7 683h23.7v1h-23.7zM436.7 709.2h23.7v0.8h-23.7zM460.4 744.4h23.7v1h-23.7zM436.7 750.1h23.7v0.8h-23.7zM460.4 750.1h23.7v0.8h-23.7zM436.7 757.8h23.7v0.8h-23.7zM436.7 758.6h23.7v1.2h-23.7zM460.4 773.9h23.7v1h-23.7zM460.4 783.1h23.7v1h-23.7zM436.7 784.9h23.7v0.9h-23.7zM460.4 784.9h23.7v0.9h-23.7zM460.4 789.3h23.7v1h-23.7zM436.7 844.8h23.7v1h-23.7zM460.4 844.8h23.7v1h-23.7zM436.7 845.8h23.7v1.5h-23.7zM460.4 868.6h23.7v1h-23.7zM436.7 871.8h23.7v1h-23.7zM436.7 878h23.7v0.8h-23.7zM436.7 898.2h23.7v0.8h-23.7zM436.7 918.3h23.7v1h-23.7zM436.7 933h23.7v0.3h-23.7zM460.4 933h23.7v0.3h-23.7zM436.7 952.2h23.7v1h-23.7zM436.7 954.7h23.7v0.8h-23.7zM507.9 645.6h23.7v0.8h-23.7zM507.9 647.6h23.7v0.8h-23.7zM507.9 648.4h23.7v1h-23.7zM507.9 651.4h23.7v1.5h-23.7zM507.9 707.6h23.7v1h-23.7zM484.1 708.6h23.7v1.2h-23.7zM484.1 740h23.7v1h-23.7zM507.9 740h23.7v1h-23.7zM484.1 750.1h23.7v0.8h-23.7zM507.9 750.1h23.7v0.8h-23.7zM484.1 752.1h23.7v1h-23.7zM484.1 753.1h23.7v0.8h-23.7zM507.9 765.5h23.7v1h-23.7zM507.9 781.6h23.7v1h-23.7zM484.1 783.4h23.7v1h-23.7zM507.9 783.4h23.7v1h-23.7zM484.1 785.2h23.7v0.6h-23.7zM484.1 813.4h23.7v1h-23.7zM507.9 813.4h23.7v1h-23.7zM507.9 814.4h23.7v1h-23.7zM507.9 816.4h23.7v1h-23.7zM507.9 817.4h23.7v0.8h-23.7zM484.1 824.5h23.7v0.8h-23.7zM507.9 895.7h23.7v1h-23.7zM507.9 909.5h23.7v1h-23.7zM484.1 910.5h23.7v0.8h-23.7zM507.9 910.5h23.7v0.8h-23.7zM507.9 912.5h23.7v0.5h-23.7zM484.1 921.8h23.7v1h-23.7zM507.9 935.3h23.7v1h-23.7zM484.1 936.3h23.7v0.5h-23.7zM484.1 941.5h23.7v1h-23.7zM484.1 943.8h23.7v1h-23.7zM484.1 944.8h23.7v1h-23.7zM484.1 945.8h23.7v1.2h-23.7zM507.9 945.8h23.7v1.2h-23.7zM531.6 648h23.7v1.2h-23.7zM555.3 648h23.7v1.2h-23.7zM555.3 682h23.7v1h-23.7zM531.6 684h23.7v0.8h-23.7zM555.3 703.6h23.7v0.8h-23.7zM531.6 706.6h23.7v1.2h-23.7zM531.6 720h23.7v0.8h-23.7zM555.3 721.8h23.7v1.2h-23.7zM531.6 723h23.7v0.5h-23.7zM555.3 723h23.7v0.5h-23.7zM555.3 737.3h23.7v1.2h-23.7zM531.6 739.7h23.7v1h-23.7zM555.3 739.7h23.7v1h-23.7zM555.3 789.6h23.7v1h-23.7zM555.3 790.6h23.7v0.8h-23.7zM555.3 825.2h23.7v1h-23.7zM555.3 827.8h23.7v0.8h-23.7zM555.3 841.2h23.7v0.8h-23.7zM531.6 848.2h23.7v0.1h-23.7zM531.6 901.8h23.7v1.5h-23.7zM531.6 911.2h23.7v1.2h-23.7zM531.6 942.1h23.7v1h-23.7zM555.3 943.1h23.7v0.7h-23.7zM579 650.8h23.7v1.5h-23.7zM579 655.4h23.7v1.5h-23.7zM602.8 655.4h23.7v1.5h-23.7zM602.8 692.1h23.7v0.4h-23.7zM579 709h23.7v1h-23.7zM602.8 711.5h23.7v1h-23.7zM602.8 714h23.7v0.2h-23.7zM579 731.5h23.7v1h-23.7zM602.8 733.5h23.7v0.5h-23.7zM579 736.1h23.7v0.8h-23.7zM602.8 749.6h23.7v0.8h-23.7zM579 752.2h23.7v1h-23.7zM579 758.2h23.7v1.5h-23.7zM579 760.9h23.7v1.5h-23.7zM602.8 760.9h23.7v1.5h-23.7zM602.8 774.7h23.7v1h-23.7zM602.8 790.9h23.7v1h-23.7zM579 870.8h23.7v1.5h-23.7zM602.8 870.8h23.7v1.5h-23.7zM602.8 883.3h23.7v1.5h-23.7zM579 910.2h23.7v1h-23.7zM602.8 913h23.7v1.2h-23.7zM602.8 927h23.7v1h-23.7zM579 928h23.7v1.5h-23.7zM602.8 928h23.7v1.5h-23.7zM579 931.5h23.7v1.5h-23.7z"/>
<path fill="#303006" d="M85.3 651h23.8v1h-23.8zM109 673h23.8v1.2h-23.8zM85.3 697.4h23.8v1h-23.8zM109 698.4h23.8v1h-23.8zM109 774.2h23.8v1.1h-23.8zM132.8 651h23.8v1.5h-23.8zM156.6 786.8h23.8v0.8h-23.8zM156.6 850.9h23.8v1h-23.8zM180.3 941.3h23.8v0.8h-23.8zM460.4 651.3h23.7v1h-23.7zM436.7 652.3h23.7v1h-23.7zM436.7 923.6h23.7v0.6h-23.7zM460.4 946h23.7v0.8h-23.7zM507.9 773.9h23.7v1.2h-23.7zM507.9 854.3h23.7v1h-23.7zM484.1 870.1h23.7v1h-23.7zM555.3 758.2h23.7v1.2h-23.7zM555.3 795.5h23.7v1.5h-23.7zM555.3 914.4h23.7v1h-23.7zM602.8 805h23.7v1h-23.7zM602.8 824.2h23.7v1h-23.7zM602.8 919.6h23.7v0.8h-23.7z"/>
<path fill="#302a06" d="M109 651h23.8v1h-23.8zM85.3 666.6h23.8v0.8h-23.8zM109 666.6h23.8v0.8h-23.8zM109 672.2h23.8v0.8h-23.8zM85.3 673h23.8v1.2h-23.8zM85.3 688.7h23.8v0.3h-23.8zM109 688.7h23.8v0.3h-23.8zM85.3 698.4h23.8v1h-23.8zM85.3 699.4h23.8v0.1h-23.8zM109 699.4h23.8v0.1h-23.8zM109 751.5h23.8v1.2h-23.8zM109 759.3h23.8v0.8h-23.8zM85.3 788.6h23.8v1h-23.8zM109 807.8h23.8v0.8h-23.8zM85.3 815h23.8v1h-23.8zM109 815h23.8v1h-23.8zM109 885.7h23.8v1h-23.8zM85.3 914.4h23.8v0.8h-23.8zM109 914.4h23.8v0.8h-23.8zM85.3 915.2h23.8v1.3h-23.8zM132.8 652.5h23.8v0.1h-23.8zM156.6 652.5h23.8v0.1h-23.8zM132.8 666.6h23.8v1.4h-23.8zM156.6 666.6h23.8v1.4h-23.8zM132.8 676.4h23.8v0.8h-23.8zM156.6 676.4h23.8v0.8h-23.8zM132.8 677.2h23.8v0.6h-23.8zM156.6 677.2h23.8v0.6h-23.8zM132.8 682.7h23.8v1.5h-23.8zM156.6 682.7h23.8v1.5h-23.8zM132.8 688.7h23.8v0.3h-23.8zM132.8 697.4h23.8v1.5h-23.8zM156.6 697.4h23.8v1.5h-23.8zM156.6 698.9h23.8v0.6h-23.8zM132.8 715.2h23.8v1.1h-23.8zM156.6 715.2h23.8v1.1h-23.8zM132.8 771.1h23.8v0.8h-23.8zM132.8 786.8h23.8v0.8h-23.8zM132.8 850.9h23.8v1h-23.8zM132.8 894.5h23.8v0.3h-23.8zM156.6 894.5h23.8v0.3h-23.8zM180.3 657.5h23.8v1h-23.8zM204.1 657.5h23.8v1h-23.8zM180.3 663h23.8v1h-23.8zM204.1 663h23.8v1h-23.8zM180.3 673.2h23.8v1h-23.8zM180.3 717.7h23.8v1h-23.8zM204.1 717.7h23.8v1h-23.8zM180.3 718.7h23.8v0.8h-23.8zM204.1 718.7h23.8v0.8h-23.8zM204.1 754.7h23.8v1h-23.8zM180.3 812.6h23.8v1h-23.8zM204.1 812.6h23.8v1h-23.8zM204.1 814.6h23.8v0.8h-23.8zM180.3 902.1h23.8v1h-23.8zM204.1 941.3h23.8v0.8h-23.8zM180.3 944.1h23.8v1h-23.8zM204.1 944.1h23.8v1h-23.8zM227.8 657.5h23.8v1h-23.8zM227.8 670.1h23.8v1h-23.8zM251.6 670.1h23.8v1h-23.8zM227.8 671.1h23.8v0.8h-23.8zM251.6 671.1h23.8v0.8h-23.8zM227.8 671.9h23.8v0.3h-23.8zM251.6 671.9h23.8v0.3h-23.8zM227.8 745.3h23.8v1.2h-23.8zM251.6 745.3h23.8v1.2h-23.8zM251.6 752.2h23.8v0.8h-23.8zM227.8 753h23.8v1.5h-23.8zM251.6 785.8h23.8v1h-23.8zM227.8 865.1h23.8v0.8h-23.8zM251.6 865.1h23.8v0.8h-23.8zM251.6 865.9h23.8v0.8h-23.8zM227.8 867.7h23.8v1h-23.8zM251.6 867.7h23.8v1h-23.8zM251.6 906h23.8v0.8h-23.8zM227.8 908h23.8v1.2h-23.8zM251.6 908h23.8v1.2h-23.8zM227.8 920.1h23.8v1.2h-23.8zM251.6 920.1h23.8v1.2h-23.8zM227.8 932.1h23.8v1.2h-23.8zM251.6 932.1h23.8v1.2h-23.8zM251.6 954.8h23.8v1.2h-23.8zM436.7 651.3h23.7v1h-23.7zM460.4 652.3h23.7v1h-23.7zM460.4 668h23.7v1h-23.7zM436.7 671h23.7v0.5h-23.7zM436.7 762h23.7v1.2h-23.7zM460.4 762h23.7v1.2h-23.7zM436.7 863.3h23.7v1h-23.7zM460.4 863.3h23.7v1h-23.7zM436.7 864.3h23.7v1h-23.7zM460.4 864.3h23.7v1h-23.7zM436.7 899h23.7v1h-23.7zM436.7 900h23.7v1.5h-23.7zM460.4 900h23.7v1.5h-23.7zM436.7 901.5h23.7v0.3h-23.7zM460.4 901.5h23.7v0.3h-23.7zM460.4 923.6h23.7v0.6h-23.7zM436.7 943.8h23.7v1.2h-23.7zM460.4 943.8h23.7v1.2h-23.7zM436.7 945h23.7v1h-23.7zM460.4 945h23.7v1h-23.7zM436.7 946h23.7v0.8h-23.7zM484.1 668h23.7v1h-23.7zM507.9 668h23.7v1h-23.7zM484.1 758.8h23.7v0.8h-23.7zM507.9 758.8h23.7v0.8h-23.7zM484.1 759.6h23.7v1.5h-23.7zM484.1 761.1h23.7v0.9h-23.7zM507.9 761.1h23.7v0.9h-23.7zM484.1 773.9h23.7v1.2h-23.7zM484.1 852.8h23.7v1.5h-23.7zM507.9 852.8h23.7v1.5h-23.7zM484.1 854.3h23.7v1h-23.7zM507.9 870.1h23.7v1h-23.7zM484.1 871.1h23.7v1h-23.7zM507.9 871.1h23.7v1h-23.7zM484.1 936.8h23.7v0.8h-23.7zM507.9 936.8h23.7v0.8h-23.7zM484.1 938.8h23.7v1.2h-23.7zM507.9 938.8h23.7v1.2h-23.7zM484.1 940h23.7v0.3h-23.7zM507.9 940h23.7v0.3h-23.7zM531.6 664.5h23.7v1.5h-23.7zM555.3 664.5h23.7v1.5h-23.7zM555.3 694.5h23.7v1h-23.7zM531.6 695.5h23.7v0.5h-23.7zM531.6 736h23.7v0.1h-23.7zM555.3 736h23.7v0.1h-23.7zM531.6 758.2h23.7v1.2h-23.7zM531.6 759.4h23.7v0.8h-23.7zM555.3 759.4h23.7v0.8h-23.7zM555.3 761.7h23.7v1h-23.7zM531.6 762.7h23.7v1.5h-23.7zM555.3 762.7h23.7v1.5h-23.7zM531.6 764.2h23.7v1.5h-23.7zM555.3 764.2h23.7v1.5h-23.7zM531.6 765.7h23.7v0.5h-23.7zM555.3 765.7h23.7v0.5h-23.7zM531.6 893.8h23.7v1.2h-23.7zM555.3 893.8h23.7v1.2h-23.7zM531.6 895h23.7v1.2h-23.7zM555.3 895h23.7v1.2h-23.7zM531.6 917.6h23.7v1.5h-23.7zM555.3 917.6h23.7v1.5h-23.7zM579 669.2h23.7v1.2h-23.7zM602.8 669.2h23.7v1.2h-23.7zM579 803.5h23.7v1.5h-23.7zM602.8 803.5h23.7v1.5h-23.7zM579 805h23.7v1h-23.7zM579 822.4h23.7v0.8h-23.7zM579 824.2h23.7v1h-23.7zM579 827.4h23.7v0.8h-23.7zM602.8 827.4h23.7v0.8h-23.7zM579 914.4h23.7v1.5h-23.7zM579 918.1h23.7v1.5h-23.7zM602.8 918.1h23.7v1.5h-23.7zM579 919.6h23.7v0.8h-23.7zM579 920.4h23.7v1h-23.7zM602.8 920.4h23.7v1h-23.7z"/>
<path fill="#665a0c" d="M85.3 652h23.8v0.6h-23.8zM109 671.1h23.8v1h-23.8zM85.3 683.9h23.8v0.9h-23.8zM85.3 685.8h23.8v1.1h-23.8zM109 685.8h23.8v1.1h-23.8zM109 701.6h23.8v1.2h-23.8zM85.3 702.8h23.8v0.9h-23.8zM109 702.8h23.8v0.9h-23.8zM109 737.5h23.8v1.2h-23.8zM109 738.7h23.8v0.9h-23.8zM85.3 746h23.8v0.6h-23.8zM85.3 783.3h23.8v1h-23.8zM109 783.3h23.8v1h-23.8zM85.3 784.3h23.8v1.5h-23.8zM109 802h23.8v0.8h-23.8zM109 820.3h23.8v0.8h-23.8zM85.3 823.6h23.8v1h-23.8zM109 823.6h23.8v1h-23.8zM109 824.6h23.8v0.6h-23.8zM85.3 831.3h23.8v1.5h-23.8zM109 870h23.8v1h-23.8zM85.3 874.6h23.8v1h-23.8zM85.3 901.1h23.8v1.2h-23.8zM85.3 903.3h23.8v0.6h-23.8zM85.3 945.1h23.8v0.1h-23.8zM109 945.1h23.8v0.1h-23.8zM109 945.2h23.8v1h-23.8zM85.3 946.2h23.8v1h-23.8zM85.3 952.2h23.8v1.2h-23.8zM109 954.4h23.8v1.2h-23.8zM132.8 642.8h23.8v1.5h-23.8zM132.8 644.3h23.8v0.7h-23.8zM156.6 652.6h23.8v1.5h-23.8zM132.8 670.1h23.8v1.5h-23.8zM132.8 697.3h23.8v0.1h-23.8zM132.8 726.9h23.8v0.1h-23.8zM132.8 745.5h23.8v1h-23.8zM156.6 745.5h23.8v1h-23.8zM132.8 753h23.8v1h-23.8zM156.6 754h23.8v0.3h-23.8zM132.8 765.4h23.8v0.8h-23.8zM132.8 775h23.8v0.3h-23.8zM156.6 775h23.8v0.3h-23.8zM132.8 788.6h23.8v1.2h-23.8zM156.6 788.6h23.8v1.2h-23.8zM132.8 792.4h23.8v1.2h-23.8zM132.8 793.6h23.8v1h-23.8zM156.6 793.6h23.8v1h-23.8zM132.8 815.2h23.8v1h-23.8zM132.8 826.4h23.8v1.5h-23.8zM156.6 885.7h23.8v1h-23.8zM132.8 938.7h23.8v0.8h-23.8zM156.6 938.7h23.8v0.8h-23.8zM132.8 947.2h23.8v0.8h-23.8zM156.6 947.2h23.8v0.8h-23.8zM180.3 643.8h23.8v1.2h-23.8zM204.1 651h23.8v1h-23.8zM180.3 656.6h23.8v0.9h-23.8zM204.1 670.1h23.8v0.8h-23.8zM204.1 674.3h23.8v0.8h-23.8zM180.3 676.4h23.8v1h-23.8zM204.1 677.4h23.8v1h-23.8zM180.3 691.1h23.8v1h-23.8zM204.1 697.4h23.8v1.5h-23.8zM204.1 698.9h23.8v0.6h-23.8zM204.1 734h23.8v0.8h-23.8zM180.3 744.1h23.8v1.5h-23.8zM204.1 744.1h23.8v1.5h-23.8zM204.1 751.5h23.8v0.7h-23.8zM204.1 775.1h23.8v0.9h-23.8zM204.1 832.7h23.8v1.5h-23.8zM204.1 835.4h23.8v1h-23.8zM180.3 837.4h23.8v0.8h-23.8zM180.3 838.2h23.8v1.2h-23.8zM204.1 838.2h23.8v1.2h-23.8zM180.3 839.4h23.8v0.8h-23.8zM180.3 852.3h23.8v0.8h-23.8zM204.1 852.3h23.8v0.8h-23.8zM180.3 863.1h23.8v1.2h-23.8zM204.1 863.1h23.8v1.2h-23.8zM180.3 874.2h23.8v1.2h-23.8zM204.1 874.2h23.8v1.2h-23.8zM204.1 889.9h23.8v0.8h-23.8zM204.1 894.9h23.8v1.5h-23.8zM180.3 903.2h23.8v1.2h-23.8zM180.3 904.4h23.8v1h-23.8zM180.3 913h23.8v1h-23.8zM204.1 916.8h23.8v1.2h-23.8zM180.3 918h23.8v0.6h-23.8zM204.1 918h23.8v0.6h-23.8zM180.3 951.5h23.8v1.2h-23.8zM204.1 951.5h23.8v1.2h-23.8zM180.3 952.7h23.8v0.8h-23.8zM204.1 952.7h23.8v0.8h-23.8zM251.6 651h23.8v1h-23.8zM227.8 652h23.8v1h-23.8zM251.6 652h23.8v1h-23.8zM227.8 676.4h23.8v0.8h-23.8zM251.6 676.4h23.8v0.8h-23.8zM227.8 688.3h23.8v1h-23.8zM227.8 689.3h23.8v1.5h-23.8zM251.6 690.8h23.8v0.3h-23.8zM251.6 691.1h23.8v1h-23.8zM227.8 693.1h23.8v0.1h-23.8zM227.8 701.7h23.8v0.6h-23.8zM251.6 701.7h23.8v0.6h-23.8zM227.8 710.3h23.8v1.2h-23.8zM227.8 738.7h23.8v1h-23.8zM251.6 738.7h23.8v1h-23.8zM227.8 739.7h23.8v0.6h-23.8zM251.6 739.7h23.8v0.6h-23.8zM227.8 756.9h23.8v0.8h-23.8zM251.6 756.9h23.8v0.8h-23.8zM227.8 757.7h23.8v0.8h-23.8zM251.6 759.5h23.8v0.8h-23.8zM227.8 768.3h23.8v1h-23.8zM251.6 768.3h23.8v1h-23.8zM251.6 774.1h23.8v1h-23.8zM227.8 796.2h23.8v1.5h-23.8zM227.8 799.9h23.8v0.1h-23.8zM251.6 799.9h23.8v0.1h-23.8zM227.8 808.4h23.8v1h-23.8zM251.6 808.4h23.8v1h-23.8zM227.8 810.4h23.8v1.2h-23.8zM251.6 819h23.8v1.5h-23.8zM251.6 833.5h23.8v1h-23.8zM251.6 862.6h23.8v1.2h-23.8zM227.8 864.8h23.8v0.3h-23.8zM251.6 864.8h23.8v0.3h-23.8zM227.8 875.2h23.8v1h-23.8zM251.6 876.2h23.8v1.2h-23.8zM227.8 892.1h23.8v1h-23.8zM251.6 892.1h23.8v1h-23.8zM227.8 911h23.8v1.5h-23.8zM251.6 911h23.8v1.5h-23.8zM251.6 915.2h23.8v1.5h-23.8zM227.8 917.9h23.8v0.7h-23.8zM227.8 934.1h23.8v1h-23.8zM251.6 934.1h23.8v1h-23.8zM436.7 659.6h23.7v0.8h-23.7zM460.4 659.6h23.7v0.8h-23.7zM436.7 667.5h23.7v0.5h-23.7zM460.4 667.5h23.7v0.5h-23.7zM436.7 688.3h23.7v1h-23.7zM460.4 688.3h23.7v1h-23.7zM460.4 693.7h23.7v1.2h-23.7zM460.4 695.9h23.7v0.8h-23.7zM436.7 701.2h23.7v1h-23.7zM436.7 715.2h23.7v0.8h-23.7zM436.7 723.8h23.7v0.8h-23.7zM436.7 741h23.7v1h-23.7zM460.4 741h23.7v1h-23.7zM460.4 756h23.7v1h-23.7zM436.7 770.4h23.7v1h-23.7zM460.4 771.4h23.7v1.2h-23.7zM436.7 772.6h23.7v1h-23.7zM436.7 787h23.7v1.5h-23.7zM460.4 787h23.7v1.5h-23.7zM460.4 788.5h23.7v0.8h-23.7zM436.7 792.8h23.7v1h-23.7zM460.4 792.8h23.7v1h-23.7zM460.4 793.8h23.7v1.5h-23.7zM436.7 810.9h23.7v1h-23.7zM460.4 820.4h23.7v0.6h-23.7zM460.4 831.9h23.7v1h-23.7zM460.4 834.7h23.7v1h-23.7zM436.7 842h23.7v1h-23.7zM460.4 842h23.7v1h-23.7zM436.7 865.3h23.7v0.5h-23.7zM436.7 924.2h23.7v0.8h-23.7zM436.7 925h23.7v1.5h-23.7zM460.4 925h23.7v1.5h-23.7zM436.7 927.5h23.7v0.2h-23.7zM460.4 927.5h23.7v0.2h-23.7zM436.7 934.3h23.7v1h-23.7zM436.7 935.3h23.7v1h-23.7zM484.1 640h23.7v1.5h-23.7zM484.1 652.9h23.7v0.4h-23.7zM507.9 659.6h23.7v1.5h-23.7zM484.1 665.2h23.7v1h-23.7zM507.9 665.2h23.7v1h-23.7zM484.1 666.2h23.7v1h-23.7zM507.9 667.2h23.7v0.8h-23.7zM484.1 680h23.7v1h-23.7zM484.1 686h23.7v1.5h-23.7zM484.1 702.3h23.7v1.2h-23.7zM507.9 702.3h23.7v1.2h-23.7zM484.1 720h23.7v1.2h-23.7zM484.1 722.2h23.7v0.6h-23.7zM484.1 731.2h23.7v1.2h-23.7zM484.1 737.8h23.7v1.2h-23.7zM484.1 749.3h23.7v0.8h-23.7zM507.9 749.3h23.7v0.8h-23.7zM484.1 757.8h23.7v1h-23.7zM484.1 792.8h23.7v1h-23.7zM484.1 794.6h23.7v1h-23.7zM507.9 794.6h23.7v1h-23.7zM484.1 796.8h23.7v1h-23.7zM507.9 809.4h23.7v1.5h-23.7zM507.9 820h23.7v1h-23.7zM507.9 842h23.7v1.5h-23.7zM484.1 857.8h23.7v1h-23.7zM484.1 865.3h23.7v0.5h-23.7zM484.1 868.6h23.7v1.5h-23.7zM507.9 868.6h23.7v1.5h-23.7zM507.9 915.8h23.7v0.8h-23.7zM484.1 919.9h23.7v0.1h-23.7zM484.1 925h23.7v1h-23.7zM507.9 925h23.7v1h-23.7zM531.6 652.8h23.7v1.5h-23.7zM555.3 652.8h23.7v1.5h-23.7zM531.6 660h23.7v1.5h-23.7zM555.3 661.5h23.7v0.2h-23.7zM531.6 668h23.7v1h-23.7zM555.3 668h23.7v1h-23.7zM531.6 669.8h23.7v1.5h-23.7zM531.6 672.3h23.7v1.2h-23.7zM555.3 672.3h23.7v1.2h-23.7zM555.3 733.7h23.7v0.3h-23.7zM531.6 747.4h23.7v1.5h-23.7zM531.6 748.9h23.7v1h-23.7zM531.6 750.9h23.7v1.3h-23.7zM555.3 750.9h23.7v1.3h-23.7zM555.3 770.4h23.7v1.2h-23.7zM555.3 781.4h23.7v1.2h-23.7zM555.3 788.6h23.7v1h-23.7zM531.6 818.6h23.7v0.8h-23.7zM531.6 819.4h23.7v1h-23.7zM555.3 819.4h23.7v1h-23.7zM531.6 821.9h23.7v0.5h-23.7zM555.3 821.9h23.7v0.5h-23.7zM531.6 830.8h23.7v0.8h-23.7zM555.3 830.8h23.7v0.8h-23.7zM531.6 834.1h23.7v1.5h-23.7zM555.3 834.1h23.7v1.5h-23.7zM531.6 842h23.7v1h-23.7zM555.3 842h23.7v1h-23.7zM555.3 844.2h23.7v1.5h-23.7zM555.3 852.1h23.7v0.4h-23.7zM555.3 853.7h23.7v1h-23.7zM531.6 855.9h23.7v0.1h-23.7zM531.6 888.5h23.7v1h-23.7zM531.6 899.6h23.7v1.5h-23.7zM555.3 899.6h23.7v1.5h-23.7zM531.6 935h23.7v0.8h-23.7zM555.3 935h23.7v0.8h-23.7zM531.6 935.8h23.7v1.5h-23.7zM555.3 935.8h23.7v1.5h-23.7zM555.3 938.3h23.7v1h-23.7zM602.8 656.9h23.7v1h-23.7zM602.8 659h23.7v1.5h-23.7zM579 660.5h23.7v1h-23.7zM579 702.4h23.7v1h-23.7zM579 722.5h23.7v1h-23.7zM602.8 722.5h23.7v1h-23.7zM579 723.5h23.7v1h-23.7zM602.8 723.5h23.7v1h-23.7zM579 746.6h23.7v0.8h-23.7zM602.8 746.6h23.7v0.8h-23.7zM579 751.6h23.7v0.6h-23.7zM602.8 751.6h23.7v0.6h-23.7zM579 770.4h23.7v1h-23.7zM579 771.4h23.7v0.8h-23.7zM602.8 771.4h23.7v0.8h-23.7zM602.8 772.2h23.7v1.5h-23.7zM579 775.7h23.7v1.5h-23.7zM602.8 775.7h23.7v1.5h-23.7zM602.8 817.6h23.7v0.8h-23.7zM579 819.9h23.7v0.8h-23.7zM579 822.3h23.7v0.1h-23.7zM602.8 822.3h23.7v0.1h-23.7zM602.8 842h23.7v1.2h-23.7zM579 843.2h23.7v0.8h-23.7zM602.8 843.2h23.7v0.8h-23.7zM602.8 844h23.7v0.8h-23.7zM602.8 846h23.7v0.2h-23.7zM602.8 856.8h23.7v1h-23.7zM579 857.8h23.7v0.8h-23.7zM579 867.6h23.7v0.8h-23.7zM602.8 867.6h23.7v0.8h-23.7z"/>
<path fill="#6c5a12" d="M109 652h23.8v0.6h-23.8zM85.3 652.6h23.8v1.2h-23.8zM85.3 671.1h23.8v1h-23.8zM85.3 763.4h23.8v1.2h-23.8zM109 837.8h23.8v0.8h-23.8zM85.3 838.6h23.8v1h-23.8zM109 838.6h23.8v1h-23.8zM85.3 870h23.8v1h-23.8zM109 953.4h23.8v1h-23.8zM132.8 652.6h23.8v1.5h-23.8zM156.6 794.6h23.8v1h-23.8zM132.8 802.8h23.8v0.8h-23.8zM132.8 890.3h23.8v0.8h-23.8zM156.6 902.6h23.8v1h-23.8zM132.8 914.1h23.8v0.3h-23.8zM132.8 953h23.8v1.5h-23.8zM180.3 645.3h23.8v1.5h-23.8zM204.1 691.1h23.8v1h-23.8zM180.3 693.2h23.8v1.5h-23.8zM180.3 785.8h23.8v1.5h-23.8zM204.1 837.4h23.8v0.8h-23.8zM180.3 843.8h23.8v1h-23.8zM251.6 693.1h23.8v0.1h-23.8zM251.6 695.3h23.8v1.5h-23.8zM251.6 709.3h23.8v1h-23.8zM227.8 759.5h23.8v0.8h-23.8zM251.6 772.1h23.8v1h-23.8zM227.8 809.4h23.8v1h-23.8zM227.8 833.5h23.8v1h-23.8zM227.8 862.6h23.8v1.2h-23.8zM227.8 937.4h23.8v1.5h-23.8zM460.4 723.8h23.7v0.8h-23.7zM460.4 802.6h23.7v0.9h-23.7zM436.7 811.9h23.7v0.7h-23.7zM436.7 834.7h23.7v1h-23.7zM484.1 659.6h23.7v1.5h-23.7zM507.9 680h23.7v1h-23.7zM507.9 720h23.7v1.2h-23.7zM507.9 722.2h23.7v0.6h-23.7zM507.9 796.8h23.7v1h-23.7zM484.1 830.7h23.7v1.2h-23.7zM484.1 856.3h23.7v1.5h-23.7zM507.9 864.3h23.7v1h-23.7zM507.9 913h23.7v0.8h-23.7zM507.9 927.5h23.7v0.2h-23.7zM531.6 669h23.7v0.8h-23.7zM555.3 669.8h23.7v1.5h-23.7zM531.6 673.5h23.7v0.1h-23.7zM531.6 777.4h23.7v0.8h-23.7zM555.3 816.1h23.7v1.5h-23.7zM555.3 831.6h23.7v1.5h-23.7zM555.3 951.5h23.7v1.2h-23.7zM579 656.9h23.7v1h-23.7zM579 802h23.7v0.8h-23.7zM602.8 835.7h23.7v0.7h-23.7zM579 842h23.7v1.2h-23.7zM579 846h23.7v0.2h-23.7zM579 852.5h23.7v1.5h-23.7z"/>
<path fill="#96420c" d="M85.3 653.8h23.8v0.8h-23.8zM85.3 724h23.8v1.5h-23.8zM85.3 830.1h23.8v1.2h-23.8zM109 832.8h23.8v1.5h-23.8zM109 834.3h23.8v0.7h-23.8zM85.3 893h23.8v1h-23.8zM109 893h23.8v1h-23.8zM109 894h23.8v0.8h-23.8zM109 926.7h23.8v0.8h-23.8zM156.6 830.1h23.8v1.2h-23.8zM132.8 831.3h23.8v1.5h-23.8zM132.8 833.8h23.8v0.8h-23.8zM132.8 859h23.8v1.5h-23.8zM132.8 860.5h23.8v1h-23.8zM156.6 869.8h23.8v0.2h-23.8zM156.6 884.5h23.8v1.2h-23.8zM180.3 686.1h23.8v0.1h-23.8zM204.1 686.1h23.8v0.1h-23.8zM180.3 758.5h23.8v1.2h-23.8zM204.1 759.7h23.8v0.8h-23.8zM204.1 880h23.8v0.8h-23.8zM180.3 911.7h23.8v1.2h-23.8zM204.1 927.8h23.8v1h-23.8zM180.3 953.5h23.8v1h-23.8zM436.7 669h23.7v1h-23.7zM460.4 669h23.7v1h-23.7zM460.4 727h23.7v1.2h-23.7zM460.4 729.2h23.7v1.2h-23.7zM436.7 730.4h23.7v0.8h-23.7zM436.7 808.4h23.7v1.5h-23.7zM460.4 808.4h23.7v1.5h-23.7zM436.7 815.6h23.7v1.5h-23.7zM436.7 948.5h23.7v1h-23.7zM507.9 663.9h23.7v1h-23.7zM484.1 673.7h23.7v1.2h-23.7zM484.1 675.9h23.7v0.5h-23.7zM507.9 696.6h23.7v0.8h-23.7zM484.1 715.7h23.7v1.3h-23.7zM507.9 728.5h23.7v1.5h-23.7zM484.1 792.1h23.7v0.7h-23.7zM507.9 800h23.7v0.8h-23.7zM507.9 803h23.7v0.5h-23.7zM507.9 849h23.7v1.5h-23.7zM507.9 850.5h23.7v1.3h-23.7zM507.9 858.8h23.7v1h-23.7zM484.1 859.8h23.7v1.2h-23.7zM507.9 861h23.7v0.8h-23.7zM507.9 902.8h23.7v1h-23.7zM507.9 952.2h23.7v0.8h-23.7zM484.1 953h23.7v0.8h-23.7zM555.3 677.1h23.7v1h-23.7zM555.3 791.4h23.7v1h-23.7zM555.3 809.3h23.7v0.8h-23.7zM531.6 867.3h23.7v0.8h-23.7zM531.6 881h23.7v1.5h-23.7zM555.3 883.5h23.7v1.2h-23.7zM555.3 884.7h23.7v1h-23.7zM555.3 892.8h23.7v1h-23.7zM602.8 678h23.7v0.5h-23.7zM602.8 727.5h23.7v1.2h-23.7zM579 815.3h23.7v0.8h-23.7zM579 837.4h23.7v1h-23.7zM579 865.8h23.7v0.8h-23.7zM579 866.6h23.7v1h-23.7zM602.8 866.6h23.7v1h-23.7zM579 875.2h23.7v0.8h-23.7zM579 876h23.7v1h-23.7zM579 893.2h23.7v1.5h-23.7zM602.8 893.2h23.7v1.5h-23.7zM579 921.4h23.7v0.8h-23.7zM579 922.2h23.7v1h-23.7zM602.8 922.2h23.7v1h-23.7zM579 924.7h23.7v0.8h-23.7zM602.8 924.7h23.7v0.8h-23.7zM579 955.7h23.7v0.3h-23.7z"/>
<path fill="#90420c" d="M109 653.8h23.8v0.8h-23.8zM85.3 723h23.8v1h-23.8zM85.3 765.8h23.8v0.4h-23.8zM109 765.8h23.8v0.4h-23.8zM85.3 832.8h23.8v1.5h-23.8zM85.3 894h23.8v0.8h-23.8zM85.3 948.8h23.8v1h-23.8zM156.6 657.5h23.8v1h-23.8zM132.8 816.8h23.8v0.8h-23.8zM156.6 821.8h23.8v1.5h-23.8zM132.8 834.6h23.8v0.4h-23.8zM132.8 881.8h23.8v1.2h-23.8zM156.6 881.8h23.8v1.2h-23.8zM132.8 884.5h23.8v1.2h-23.8zM204.1 645h23.8v0.3h-23.8zM180.3 731.2h23.8v1.2h-23.8zM204.1 731.2h23.8v1.2h-23.8zM180.3 804h23.8v1h-23.8zM180.3 858.2h23.8v1.5h-23.8zM180.3 883.8h23.8v0.5h-23.8zM180.3 910.2h23.8v1.5h-23.8zM204.1 912.9h23.8v0.1h-23.8zM180.3 921.4h23.8v1h-23.8zM204.1 953.5h23.8v1h-23.8zM251.6 928.4h23.8v1h-23.8zM460.4 662.4h23.7v0.8h-23.7zM436.7 727h23.7v1.2h-23.7zM460.4 730.4h23.7v0.8h-23.7zM436.7 865.8h23.7v1h-23.7zM460.4 880h23.7v1h-23.7zM436.7 884h23.7v1h-23.7zM460.4 948.5h23.7v1h-23.7zM436.7 950.3h23.7v0.8h-23.7zM436.7 951.1h23.7v0.8h-23.7zM460.4 951.9h23.7v0.3h-23.7zM484.1 672.5h23.7v1.2h-23.7zM507.9 672.5h23.7v1.2h-23.7zM507.9 673.7h23.7v1.2h-23.7zM507.9 675.9h23.7v0.5h-23.7zM484.1 728.5h23.7v1.5h-23.7zM507.9 802h23.7v1h-23.7zM507.9 826.8h23.7v1.5h-23.7zM484.1 850.5h23.7v1.3h-23.7zM484.1 861h23.7v0.8h-23.7zM484.1 902.8h23.7v1h-23.7zM602.8 644.6h23.7v1h-23.7zM602.8 654.1h23.7v1h-23.7zM579 673.6h23.7v0.8h-23.7zM602.8 687.6h23.7v1h-23.7zM579 800.8h23.7v1.2h-23.7zM602.8 815.3h23.7v0.8h-23.7zM579 869.4h23.7v0.6h-23.7zM602.8 876h23.7v1h-23.7zM579 882.5h23.7v0.8h-23.7zM602.8 882.5h23.7v0.8h-23.7z"/>
<path fill="#667e18" d="M109 654.7h23.8v0.8h-23.8zM109 663.8h23.8v1h-23.8zM109 804.3h23.8v1h-23.8zM85.3 921.7h23.8v1.5h-23.8zM85.3 955.6h23.8v0.4h-23.8zM156.6 641h23.8v0.8h-23.8zM132.8 641.8h23.8v1h-23.8zM156.6 768.2h23.8v1.2h-23.8zM156.6 795.6h23.8v1h-23.8zM132.8 804.6h23.8v1h-23.8zM180.3 762.3h23.8v1h-23.8zM204.1 762.3h23.8v1h-23.8zM204.1 794.2h23.8v0.8h-23.8zM180.3 861.6h23.8v1.5h-23.8zM204.1 942.1h23.8v1h-23.8zM251.6 694h23.8v1h-23.8zM227.8 700.5h23.8v1.2h-23.8zM227.8 811.6h23.8v1h-23.8zM251.6 812.6h23.8v1h-23.8zM436.7 858.1h23.7v0.7h-23.7zM484.1 779.9h23.7v1.2h-23.7zM531.6 863.3h23.7v1h-23.7z"/>
<path fill="#368412" d="M109 656.7h23.8v0.8h-23.8zM109 682h23.8v0.7h-23.8zM85.3 727h23.8v1.5h-23.8zM85.3 737.2h23.8v0.3h-23.8zM109 755.5h23.8v0.9h-23.8zM85.3 766.2h23.8v1h-23.8zM109 766.2h23.8v1h-23.8zM85.3 813.4h23.8v0.6h-23.8zM109 853.5h23.8v0.8h-23.8zM109 867.6h23.8v0.8h-23.8zM85.3 878h23.8v1h-23.8zM109 878h23.8v1h-23.8zM85.3 888.5h23.8v0.8h-23.8zM85.3 891.8h23.8v0.2h-23.8zM85.3 908.1h23.8v0.8h-23.8zM109 916.5h23.8v1.5h-23.8zM109 919.2h23.8v1h-23.8zM132.8 654.7h23.8v1h-23.8zM156.6 664.8h23.8v1.2h-23.8zM132.8 668h23.8v1h-23.8zM156.6 668h23.8v1h-23.8zM156.6 708h23.8v1h-23.8zM132.8 727h23.8v0.8h-23.8zM132.8 733.3h23.8v1.5h-23.8zM156.6 733.3h23.8v1.5h-23.8zM132.8 754.3h23.8v1.5h-23.8zM132.8 767.4h23.8v0.8h-23.8zM156.6 775.3h23.8v1h-23.8zM156.6 783.8h23.8v1.2h-23.8zM132.8 808.8h23.8v0.3h-23.8zM156.6 808.8h23.8v0.3h-23.8zM132.8 810.1h23.8v1.2h-23.8zM156.6 813.8h23.8v0.2h-23.8zM132.8 843.6h23.8v1h-23.8zM156.6 843.6h23.8v1h-23.8zM156.6 865.8h23.8v0.8h-23.8zM156.6 894.8h23.8v1.5h-23.8zM132.8 896.3h23.8v1.2h-23.8zM132.8 904.9h23.8v1.2h-23.8zM132.8 907.9h23.8v0.2h-23.8zM156.6 918h23.8v1h-23.8zM204.1 682.8h23.8v1.2h-23.8zM204.1 684h23.8v0.1h-23.8zM204.1 729.5h23.8v1h-23.8zM204.1 736.3h23.8v0.8h-23.8zM204.1 763.3h23.8v0.8h-23.8zM180.3 781.4h23.8v1.2h-23.8zM204.1 784.1h23.8v1.2h-23.8zM204.1 799.7h23.8v0.3h-23.8zM180.3 811.7h23.8v0.8h-23.8zM204.1 815.4h23.8v1h-23.8zM180.3 816.4h23.8v1h-23.8zM204.1 816.4h23.8v1h-23.8zM180.3 850.4h23.8v0.7h-23.8zM180.3 854.2h23.8v0.8h-23.8zM180.3 867.9h23.8v1h-23.8zM180.3 873.7h23.8v0.5h-23.8zM180.3 906h23.8v0.8h-23.8zM204.1 906h23.8v0.8h-23.8zM180.3 929.8h23.8v1h-23.8zM180.3 935.3h23.8v1h-23.8zM180.3 937.3h23.8v1.5h-23.8zM204.1 940.3h23.8v1h-23.8zM227.8 649h23.8v1.2h-23.8zM251.6 649h23.8v1.2h-23.8zM227.8 659.6h23.8v0.8h-23.8zM251.6 668.2h23.8v1.2h-23.8zM227.8 680.7h23.8v1h-23.8zM251.6 770.1h23.8v1h-23.8zM251.6 779.3h23.8v0.9h-23.8zM227.8 785.4h23.8v0.4h-23.8zM251.6 785.4h23.8v0.4h-23.8zM227.8 815.4h23.8v1h-23.8zM227.8 820.5h23.8v1.2h-23.8zM251.6 830.2h23.8v1.2h-23.8zM251.6 841.4h23.8v1.5h-23.8zM251.6 855.4h23.8v1h-23.8zM251.6 896.4h23.8v0.8h-23.8zM251.6 904h23.8v1h-23.8zM227.8 905h23.8v1h-23.8zM251.6 933.3h23.8v0.8h-23.8zM460.4 683h23.7v1h-23.7zM436.7 740h23.7v1h-23.7zM460.4 740h23.7v1h-23.7zM436.7 751.7h23.7v0.8h-23.7zM460.4 751.7h23.7v0.8h-23.7zM436.7 752.5h23.7v1.2h-23.7zM436.7 773.9h23.7v1h-23.7zM436.7 774.9h23.7v1h-23.7zM460.4 781.6h23.7v1.5h-23.7zM460.4 847.3h23.7v1h-23.7zM460.4 871.8h23.7v1h-23.7zM436.7 874h23.7v0.2h-23.7zM460.4 886.7h23.7v1.2h-23.7zM436.7 913h23.7v1h-23.7zM460.4 913h23.7v1h-23.7zM460.4 918.3h23.7v1h-23.7zM436.7 942.8h23.7v1h-23.7zM460.4 942.8h23.7v1h-23.7zM436.7 953.2h23.7v1.5h-23.7zM460.4 954.7h23.7v0.8h-23.7zM436.7 955.5h23.7v0.5h-23.7zM484.1 647.6h23.7v0.8h-23.7zM484.1 648.4h23.7v1h-23.7zM484.1 649.4h23.7v0.4h-23.7zM507.9 753.1h23.7v0.8h-23.7zM507.9 764h23.7v1.5h-23.7zM507.9 785.2h23.7v0.6h-23.7zM484.1 814.4h23.7v1h-23.7zM484.1 847.6h23.7v1.4h-23.7zM484.1 892h23.7v1.5h-23.7zM484.1 896.7h23.7v1h-23.7zM507.9 896.7h23.7v1h-23.7zM507.9 897.7h23.7v1h-23.7zM484.1 909.2h23.7v0.3h-23.7zM484.1 912.5h23.7v0.5h-23.7zM484.1 934.1h23.7v1.2h-23.7zM507.9 936.3h23.7v0.5h-23.7zM507.9 941.5h23.7v1h-23.7zM507.9 942.5h23.7v1.2h-23.7zM507.9 943.7h23.7v0.1h-23.7zM507.9 943.8h23.7v1h-23.7zM531.6 703.6h23.7v0.8h-23.7zM555.3 706.6h23.7v1.2h-23.7zM531.6 742.2h23.7v1h-23.7zM531.6 815.9h23.7v0.2h-23.7zM531.6 897.6h23.7v1.2h-23.7zM555.3 911.2h23.7v1.2h-23.7zM531.6 913.6h23.7v0.8h-23.7zM555.3 913.6h23.7v0.8h-23.7zM555.3 942.1h23.7v1h-23.7zM531.6 943.1h23.7v0.7h-23.7zM602.8 650.8h23.7v1.5h-23.7zM579 692.1h23.7v0.4h-23.7zM579 711.5h23.7v1h-23.7zM579 712.5h23.7v1.5h-23.7zM579 714h23.7v0.2h-23.7zM579 730.5h23.7v1h-23.7zM602.8 730.5h23.7v1h-23.7zM602.8 736.1h23.7v0.8h-23.7zM579 741h23.7v1.2h-23.7zM602.8 741h23.7v1.2h-23.7zM602.8 757.2h23.7v1h-23.7zM602.8 758.2h23.7v1.5h-23.7zM579 759.7h23.7v1.2h-23.7zM579 774.7h23.7v1h-23.7zM579 777.2h23.7v0.2h-23.7zM602.8 777.2h23.7v0.2h-23.7zM579 790.9h23.7v1h-23.7zM602.8 839.2h23.7v1h-23.7zM579 913h23.7v1.2h-23.7zM602.8 931.5h23.7v1.5h-23.7zM602.8 942h23.7v1.5h-23.7zM602.8 943.5h23.7v0.3h-23.7z"/>
<path fill="#724e0c" d="M85.3 657.5h23.8v1.5h-23.8zM109 839.6h23.8v1.5h-23.8zM109 861.6h23.8v1.5h-23.8zM85.3 864.1h23.8v0.8h-23.8zM109 864.1h23.8v0.8h-23.8zM109 864.9h23.8v0.9h-23.8zM85.3 902.3h23.8v1h-23.8zM109 914h23.8v0.4h-23.8zM132.8 672.2h23.8v1.5h-23.8zM156.6 686.8h23.8v0.1h-23.8zM132.8 732.2h23.8v1.1h-23.8zM132.8 764.4h23.8v1h-23.8zM156.6 790.8h23.8v0.6h-23.8zM180.3 643h23.8v0.8h-23.8zM180.3 653.3h23.8v0.8h-23.8zM180.3 672.1h23.8v0.1h-23.8zM204.1 672.1h23.8v0.1h-23.8zM180.3 676.1h23.8v0.3h-23.8zM204.1 687.2h23.8v1.1h-23.8zM180.3 714.1h23.8v0.8h-23.8zM180.3 745.6h23.8v1h-23.8zM180.3 764.1h23.8v0.8h-23.8zM204.1 773.3h23.8v1h-23.8zM204.1 890.7h23.8v1.5h-23.8zM204.1 892.2h23.8v1.2h-23.8zM204.1 898.3h23.8v0.8h-23.8zM180.3 919.6h23.8v0.8h-23.8zM204.1 919.6h23.8v0.8h-23.8zM180.3 920.4h23.8v1h-23.8zM251.6 699.5h23.8v1h-23.8zM227.8 755.7h23.8v1.2h-23.8zM251.6 834.5h23.8v1h-23.8zM251.6 847.4h23.8v1.5h-23.8zM227.8 849.9h23.8v1h-23.8zM227.8 850.9h23.8v0.2h-23.8zM251.6 850.9h23.8v0.2h-23.8zM251.6 888.1h23.8v1.2h-23.8zM436.7 640h23.7v0.8h-23.7zM460.4 640h23.7v0.8h-23.7zM460.4 661.4h23.7v0.8h-23.7zM460.4 673.3h23.7v1h-23.7zM460.4 676.3h23.7v0.1h-23.7zM460.4 694.9h23.7v1h-23.7zM460.4 714.2h23.7v1h-23.7zM436.7 773.6h23.7v0.3h-23.7zM436.7 785.8h23.7v1.2h-23.7zM436.7 799.1h23.7v0.9h-23.7zM460.4 843h23.7v1.5h-23.7zM460.4 906h23.7v1.2h-23.7zM460.4 939h23.7v0.8h-23.7zM484.1 641.5h23.7v0.5h-23.7zM507.9 721.2h23.7v1h-23.7zM507.9 770.4h23.7v1h-23.7zM507.9 824.3h23.7v0.2h-23.7zM507.9 833.5h23.7v1h-23.7zM484.1 916.6h23.7v1.5h-23.7zM507.9 918.1h23.7v1h-23.7zM555.3 641h23.7v1.2h-23.7zM531.6 746.6h23.7v0.8h-23.7zM555.3 746.6h23.7v0.8h-23.7zM555.3 749.9h23.7v1h-23.7zM531.6 817.6h23.7v1h-23.7zM555.3 952.7h23.7v1.2h-23.7zM579 643.6h23.7v1h-23.7zM579 747.4h23.7v1h-23.7zM602.8 747.4h23.7v1h-23.7z"/>
<path fill="#6c480c" d="M109 657.5h23.8v1.5h-23.8zM85.3 661.7h23.8v1.5h-23.8zM109 661.7h23.8v1.5h-23.8zM85.3 663.2h23.8v0.6h-23.8zM85.3 705.2h23.8v0.6h-23.8zM109 705.2h23.8v0.6h-23.8zM85.3 782.3h23.8v1h-23.8zM109 782.3h23.8v1h-23.8zM85.3 839.6h23.8v1.5h-23.8zM85.3 864.9h23.8v0.9h-23.8zM85.3 871h23.8v1h-23.8zM109 871h23.8v1h-23.8zM85.3 914h23.8v0.4h-23.8zM156.6 671.6h23.8v0.6h-23.8zM132.8 686.8h23.8v0.1h-23.8zM156.6 703.7h23.8v0.8h-23.8zM156.6 723h23.8v1.5h-23.8zM156.6 732.2h23.8v1.1h-23.8zM156.6 739.5h23.8v0.1h-23.8zM156.6 764.4h23.8v1h-23.8zM132.8 790.8h23.8v0.6h-23.8zM156.6 814h23.8v1.2h-23.8zM132.8 892h23.8v1h-23.8zM132.8 930.8h23.8v0.8h-23.8zM156.6 930.8h23.8v0.8h-23.8zM204.1 643h23.8v0.8h-23.8zM204.1 676.1h23.8v0.3h-23.8zM180.3 687.2h23.8v1.1h-23.8zM180.3 703.5h23.8v1.2h-23.8zM204.1 703.5h23.8v1.2h-23.8zM204.1 712.1h23.8v1h-23.8zM180.3 713.1h23.8v1h-23.8zM204.1 713.1h23.8v1h-23.8zM204.1 714.1h23.8v0.8h-23.8zM180.3 738.5h23.8v1.2h-23.8zM204.1 738.5h23.8v1.2h-23.8zM180.3 739.7h23.8v0.6h-23.8zM180.3 743.1h23.8v1h-23.8zM204.1 743.1h23.8v1h-23.8zM204.1 745.6h23.8v1h-23.8zM204.1 764.1h23.8v0.8h-23.8zM204.1 765.7h23.8v1h-23.8zM180.3 773.3h23.8v1h-23.8zM180.3 774.3h23.8v0.8h-23.8zM204.1 774.3h23.8v0.8h-23.8zM180.3 787.3h23.8v1.2h-23.8zM204.1 787.3h23.8v1.2h-23.8zM180.3 892.2h23.8v1.2h-23.8zM180.3 898.3h23.8v0.8h-23.8zM204.1 920.4h23.8v1h-23.8zM180.3 955.5h23.8v0.5h-23.8zM251.6 654.1h23.8v1h-23.8zM227.8 696.8h23.8v0.6h-23.8zM251.6 696.8h23.8v0.6h-23.8zM227.8 699.5h23.8v1h-23.8zM251.6 703.5h23.8v1h-23.8zM251.6 755.7h23.8v1.2h-23.8zM227.8 773.1h23.8v1h-23.8zM251.6 773.1h23.8v1h-23.8zM227.8 832.5h23.8v1h-23.8zM251.6 832.5h23.8v1h-23.8zM227.8 834.5h23.8v1h-23.8zM227.8 846.2h23.8v1.2h-23.8zM251.6 846.2h23.8v1.2h-23.8zM227.8 847.4h23.8v1.5h-23.8zM251.6 849.9h23.8v1h-23.8zM227.8 888.1h23.8v1.2h-23.8zM436.7 661.4h23.7v0.8h-23.7zM460.4 665.2h23.7v0.8h-23.7zM436.7 694.9h23.7v1h-23.7zM436.7 714.2h23.7v1h-23.7zM436.7 797.5h23.7v0.8h-23.7zM460.4 797.5h23.7v0.8h-23.7zM460.4 799.1h23.7v0.9h-23.7zM460.4 800h23.7v0.8h-23.7zM436.7 843h23.7v1.5h-23.7zM436.7 902.8h23.7v1h-23.7zM460.4 902.8h23.7v1h-23.7zM484.1 721.2h23.7v1h-23.7zM484.1 770.4h23.7v1h-23.7zM484.1 793.8h23.7v0.8h-23.7zM507.9 793.8h23.7v0.8h-23.7zM484.1 795.6h23.7v1.2h-23.7zM507.9 795.6h23.7v1.2h-23.7zM484.1 811.7h23.7v0.9h-23.7zM507.9 811.7h23.7v0.9h-23.7zM484.1 824.3h23.7v0.2h-23.7zM484.1 828.7h23.7v1h-23.7zM507.9 831.9h23.7v0.8h-23.7zM507.9 916.6h23.7v1.5h-23.7zM484.1 918.1h23.7v1h-23.7zM531.6 641h23.7v1.2h-23.7zM531.6 749.9h23.7v1h-23.7zM555.3 817.6h23.7v1h-23.7zM531.6 845.7h23.7v0.5h-23.7zM531.6 939.3h23.7v0.3h-23.7zM555.3 939.3h23.7v0.3h-23.7zM531.6 952.7h23.7v1.2h-23.7zM602.8 701.6h23.7v0.8h-23.7zM602.8 854.8h23.7v1h-23.7z"/>
<path fill="#4e3006" d="M85.3 659h23.8v0.6h-23.8zM85.3 667.4h23.8v0.6h-23.8zM109 667.4h23.8v0.6h-23.8zM85.3 684.8h23.8v1h-23.8zM85.3 686.9h23.8v1h-23.8zM109 806.3h23.8v1.5h-23.8zM85.3 814h23.8v1h-23.8zM109 814h23.8v1h-23.8zM85.3 849.7h23.8v1.2h-23.8zM109 849.7h23.8v1.2h-23.8zM85.3 886.7h23.8v1h-23.8zM109 886.7h23.8v1h-23.8zM85.3 887.7h23.8v0.8h-23.8zM109 887.7h23.8v0.8h-23.8zM132.8 673.7h23.8v0.6h-23.8zM156.6 673.7h23.8v0.6h-23.8zM132.8 771.9h23.8v1.3h-23.8zM132.8 851.9h23.8v0.6h-23.8zM156.6 851.9h23.8v0.6h-23.8zM180.3 664.8h23.8v0.4h-23.8zM180.3 672.2h23.8v1h-23.8zM180.3 675.1h23.8v1h-23.8zM180.3 753.2h23.8v1.5h-23.8zM204.1 753.2h23.8v1.5h-23.8zM204.1 886.1h23.8v1h-23.8zM251.6 704.5h23.8v0.6h-23.8zM227.8 713.1h23.8v1.5h-23.8zM251.6 713.1h23.8v1.5h-23.8zM227.8 760.3h23.8v1h-23.8zM251.6 760.3h23.8v1h-23.8zM227.8 775.1h23.8v0.9h-23.8zM251.6 775.1h23.8v0.9h-23.8zM227.8 788h23.8v1.2h-23.8zM251.6 851.9h23.8v1h-23.8zM227.8 921.3h23.8v0.1h-23.8zM251.6 944.8h23.8v0.4h-23.8zM436.7 671.5h23.7v1h-23.7zM460.4 676.4h23.7v0.8h-23.7zM436.7 690.8h23.7v0.8h-23.7zM460.4 690.8h23.7v0.8h-23.7zM460.4 903.8h23.7v1.2h-23.7zM436.7 905h23.7v1h-23.7zM460.4 905h23.7v1h-23.7zM436.7 946.8h23.7v0.5h-23.7zM484.1 775.1h23.7v1.5h-23.7zM507.9 775.1h23.7v1.5h-23.7zM484.1 776.6h23.7v0.8h-23.7zM484.1 872.1h23.7v1h-23.7zM531.6 726.7h23.7v1.2h-23.7zM531.6 734h23.7v1h-23.7zM555.3 734h23.7v1h-23.7zM555.3 735h23.7v1h-23.7zM531.6 756.4h23.7v0.8h-23.7zM531.6 783h23.7v1.2h-23.7zM531.6 919.1h23.7v1.5h-23.7zM555.3 919.1h23.7v1.5h-23.7zM602.8 642.2h23.7v0.6h-23.7zM579 672.6h23.7v1h-23.7zM579 826.4h23.7v1h-23.7zM602.8 828.2h23.7v1.5h-23.7z"/>
<path fill="#543606" d="M109 659h23.8v0.6h-23.8zM109 773.2h23.8v1h-23.8zM109 808.6h23.8v0.5h-23.8zM85.3 900.4h23.8v0.7h-23.8zM156.6 705.3h23.8v0.5h-23.8zM156.6 771.9h23.8v1.3h-23.8zM204.1 664.8h23.8v0.4h-23.8zM180.3 674.2h23.8v0.1h-23.8zM204.1 675.1h23.8v1h-23.8zM180.3 686.2h23.8v1h-23.8zM180.3 886.1h23.8v1h-23.8zM227.8 674h23.8v0.3h-23.8zM251.6 674h23.8v0.3h-23.8zM227.8 704.5h23.8v0.6h-23.8zM227.8 764.9h23.8v1.2h-23.8zM251.6 921.3h23.8v0.1h-23.8zM227.8 943.3h23.8v1.5h-23.8zM227.8 944.8h23.8v0.4h-23.8zM436.7 649.8h23.7v1.5h-23.7zM460.4 671.5h23.7v1h-23.7zM436.7 903.8h23.7v1.2h-23.7zM460.4 946.8h23.7v0.5h-23.7zM555.3 726.7h23.7v1.2h-23.7zM555.3 794.3h23.7v1.2h-23.7zM602.8 734h23.7v1.2h-23.7zM579 828.2h23.7v1.5h-23.7z"/>
<path fill="#185a06" d="M85.3 661.4h23.8v0.3h-23.8zM109 661.4h23.8v0.3h-23.8zM85.3 682.7h23.8v1.2h-23.8zM85.3 736h23.8v1.2h-23.8zM85.3 749.9h23.8v0.8h-23.8zM109 762.1h23.8v1.3h-23.8zM109 897.3h23.8v0.3h-23.8zM156.6 769.4h23.8v1.5h-23.8zM156.6 785.8h23.8v1h-23.8zM156.6 807.8h23.8v1h-23.8zM156.6 835h23.8v1h-23.8zM156.6 856h23.8v0.7h-23.8zM132.8 909.3h23.8v1h-23.8zM132.8 915.4h23.8v1.1h-23.8zM156.6 915.4h23.8v1.1h-23.8zM180.3 720h23.8v1.2h-23.8zM180.3 822.2h23.8v0.9h-23.8zM180.3 906.8h23.8v1.2h-23.8zM227.8 868.7h23.8v1h-23.8zM251.6 871h23.8v1.5h-23.8zM251.6 872.5h23.8v1h-23.8zM251.6 873.5h23.8v0.7h-23.8zM460.4 765.4h23.7v1.5h-23.7zM460.4 854.3h23.7v1h-23.7zM460.4 862.3h23.7v1h-23.7zM460.4 870.8h23.7v1h-23.7zM436.7 885.7h23.7v1h-23.7zM507.9 812.6h23.7v0.8h-23.7zM507.9 873.9h23.7v0.3h-23.7zM531.6 646.4h23.7v0.8h-23.7zM531.6 649.2h23.7v0.6h-23.7zM555.3 707.8h23.7v1.2h-23.7zM531.6 740.7h23.7v0.3h-23.7zM555.3 775.4h23.7v0.8h-23.7zM555.3 846.2h23.7v1h-23.7zM555.3 870h23.7v1h-23.7zM579 823.2h23.7v1h-23.7zM602.8 877h23.7v0.8h-23.7zM602.8 878h23.7v1h-23.7zM579 898.8h23.7v1.5h-23.7z"/>
<path fill="#66480c" d="M109 663.2h23.8v0.6h-23.8zM109 902.3h23.8v1h-23.8zM132.8 671.6h23.8v0.6h-23.8zM156.6 672.2h23.8v1.5h-23.8zM132.8 703.7h23.8v0.8h-23.8zM132.8 739.5h23.8v0.1h-23.8zM204.1 653.3h23.8v0.8h-23.8zM180.3 670.9h23.8v1.2h-23.8zM204.1 670.9h23.8v1.2h-23.8zM204.1 739.7h23.8v0.6h-23.8zM227.8 654.1h23.8v1h-23.8zM227.8 703.5h23.8v1h-23.8zM227.8 941.3h23.8v1h-23.8zM251.6 941.3h23.8v1h-23.8zM436.7 665.2h23.7v0.8h-23.7zM436.7 676.3h23.7v0.1h-23.7zM460.4 773.6h23.7v0.3h-23.7zM460.4 785.8h23.7v1.2h-23.7zM436.7 800h23.7v0.8h-23.7zM436.7 906h23.7v1.2h-23.7zM436.7 939h23.7v0.8h-23.7zM484.1 833.5h23.7v1h-23.7zM531.6 854.7h23.7v1.2h-23.7zM555.3 854.7h23.7v1.2h-23.7zM602.8 643.6h23.7v1h-23.7zM579 701.6h23.7v0.8h-23.7zM579 854.8h23.7v1h-23.7z"/>
<path fill="#6c841e" d="M85.3 663.8h23.8v1h-23.8zM85.3 690.2h23.8v0.9h-23.8zM85.3 720h23.8v1.2h-23.8zM109 797.1h23.8v1.5h-23.8zM85.3 912.8h23.8v1.2h-23.8zM109 920.7h23.8v1h-23.8zM109 921.7h23.8v1.5h-23.8zM156.6 641.8h23.8v1h-23.8zM132.8 689h23.8v1h-23.8zM156.6 746.5h23.8v0.1h-23.8zM132.8 755.8h23.8v0.6h-23.8zM156.6 755.8h23.8v0.6h-23.8zM156.6 837.8h23.8v0.8h-23.8zM132.8 838.6h23.8v1.5h-23.8zM132.8 840.1h23.8v1h-23.8zM132.8 865.1h23.8v0.7h-23.8zM132.8 920.7h23.8v0.8h-23.8zM204.1 640h23.8v0.8h-23.8zM180.3 648h23.8v1h-23.8zM204.1 648h23.8v1h-23.8zM180.3 682h23.8v0.8h-23.8zM204.1 700.7h23.8v1.5h-23.8zM180.3 794.2h23.8v0.8h-23.8zM204.1 808h23.8v0.4h-23.8zM227.8 693.2h23.8v0.8h-23.8zM227.8 736.2h23.8v0.8h-23.8zM251.6 890.9h23.8v1.2h-23.8zM251.6 938.9h23.8v1.2h-23.8zM227.8 940.1h23.8v0.2h-23.8zM251.6 940.1h23.8v0.2h-23.8zM436.7 642h23.7v1.5h-23.7zM460.4 721h23.7v1h-23.7zM436.7 724.6h23.7v1h-23.7zM436.7 725.6h23.7v1h-23.7zM460.4 725.6h23.7v1h-23.7zM436.7 759.8h23.7v1h-23.7zM460.4 907.2h23.7v0.8h-23.7zM484.1 644.5h23.7v1.1h-23.7zM484.1 646.4h23.7v1.2h-23.7zM507.9 646.4h23.7v1.2h-23.7zM484.1 741h23.7v1h-23.7zM484.1 777.4h23.7v1h-23.7zM484.1 778.4h23.7v1.5h-23.7zM507.9 779.9h23.7v1.2h-23.7zM484.1 803.5h23.7v1.5h-23.7zM484.1 865.8h23.7v1.2h-23.7zM507.9 868h23.7v0.6h-23.7zM531.6 643.6h23.7v1.2h-23.7zM555.3 701.6h23.7v1.2h-23.7zM555.3 702.8h23.7v0.8h-23.7zM555.3 803.5h23.7v1h-23.7zM555.3 863.3h23.7v1h-23.7zM555.3 906.1h23.7v1h-23.7zM579 683h23.7v1h-23.7zM602.8 683h23.7v1h-23.7zM579 706.8h23.7v1h-23.7zM602.8 762.4h23.7v1.2h-23.7zM579 858.6h23.7v0.2h-23.7zM602.8 870h23.7v0.8h-23.7zM579 929.5h23.7v1.2h-23.7z"/>
<path fill="#666612" d="M85.3 665.6h23.8v1h-23.8zM109 665.6h23.8v1h-23.8zM156.6 722h23.8v1h-23.8zM132.8 738.5h23.8v1h-23.8zM156.6 791.4h23.8v1h-23.8zM156.6 870h23.8v0.8h-23.8zM132.8 870.8h23.8v1.5h-23.8zM204.1 757.2h23.8v1.2h-23.8zM204.1 789.3h23.8v0.7h-23.8zM180.3 864.3h23.8v0.8h-23.8zM436.7 662.2h23.7v0.2h-23.7zM460.4 742h23.7v0.4h-23.7zM436.7 809.9h23.7v1h-23.7zM436.7 844.5h23.7v0.3h-23.7zM460.4 933.3h23.7v1h-23.7zM484.1 726.5h23.7v0.5h-23.7zM507.9 726.5h23.7v0.5h-23.7zM555.3 782.6h23.7v0.4h-23.7zM579 831.8h23.7v1.2h-23.7zM602.8 831.8h23.7v1.2h-23.7z"/>
<path fill="#78360c" d="M85.3 668h23.8v1.5h-23.8zM109 668h23.8v1.5h-23.8zM109 715.4h23.8v0.9h-23.8zM109 744.5h23.8v1.5h-23.8zM85.3 752.7h23.8v1.5h-23.8zM109 752.7h23.8v1.5h-23.8zM109 760.1h23.8v0.5h-23.8zM109 816h23.8v0.8h-23.8zM85.3 898.8h23.8v0.8h-23.8zM109 899.6h23.8v0.8h-23.8zM156.6 727.8h23.8v1h-23.8zM156.6 801.8h23.8v1h-23.8zM156.6 880h23.8v0.8h-23.8zM132.8 897.6h23.8v1h-23.8zM204.1 771.1h23.8v1h-23.8zM180.3 791.2h23.8v1h-23.8zM204.1 810.7h23.8v1h-23.8zM204.1 834.2h23.8v1.2h-23.8zM204.1 840.2h23.8v0.4h-23.8zM204.1 875.4h23.8v1.5h-23.8zM251.6 653.3h23.8v0.8h-23.8zM251.6 672.2h23.8v0.8h-23.8zM251.6 673h23.8v1h-23.8zM251.6 731.2h23.8v1h-23.8zM251.6 758.5h23.8v1h-23.8zM251.6 766.1h23.8v1h-23.8zM227.8 771.1h23.8v1h-23.8zM251.6 798.9h23.8v1h-23.8zM227.8 886.6h23.8v1.5h-23.8zM251.6 889.3h23.8v0.6h-23.8zM251.6 889.9h23.8v1h-23.8zM227.8 953.3h23.8v1.5h-23.8zM436.7 703.8h23.7v1h-23.7zM460.4 798.3h23.7v0.8h-23.7zM460.4 801.8h23.7v0.8h-23.7zM436.7 803.5h23.7v1h-23.7zM460.4 803.5h23.7v1h-23.7zM436.7 823.8h23.7v0.7h-23.7zM436.7 833.7h23.7v1h-23.7zM460.4 858.8h23.7v0.8h-23.7zM460.4 938h23.7v1h-23.7zM507.9 684.8h23.7v1.2h-23.7zM507.9 714.2h23.7v1.5h-23.7zM507.9 755h23.7v1h-23.7zM484.1 767.6h23.7v1.5h-23.7zM507.9 832.7h23.7v0.8h-23.7zM507.9 875.4h23.7v0.9h-23.7zM555.3 651.8h23.7v1h-23.7zM555.3 693.5h23.7v1h-23.7zM555.3 730.4h23.7v0.1h-23.7zM531.6 785.4h23.7v1h-23.7zM555.3 787.9h23.7v0.7h-23.7zM555.3 797h23.7v1.5h-23.7zM531.6 798.5h23.7v0.8h-23.7zM579 652.3h23.7v1h-23.7zM602.8 670.4h23.7v1h-23.7zM579 694.7h23.7v0.8h-23.7zM579 780.4h23.7v1.2h-23.7zM579 786.1h23.7v0.8h-23.7zM579 810.6h23.7v1.2h-23.7zM602.8 829.7h23.7v1h-23.7zM579 834.5h23.7v1.2h-23.7zM579 858.8h23.7v1.5h-23.7zM579 861.8h23.7v1h-23.7zM602.8 889.5h23.7v1.5h-23.7zM602.8 915.9h23.7v1h-23.7zM579 949.3h23.7v0.8h-23.7zM602.8 954.5h23.7v1.2h-23.7z"/>
<path fill="#723606" d="M85.3 669.5h23.8v0.6h-23.8zM109 670.1h23.8v1h-23.8zM85.3 697.3h23.8v0.1h-23.8zM109 725.5h23.8v1h-23.8zM85.3 754.2h23.8v0.1h-23.8zM109 772.1h23.8v1.1h-23.8zM109 802.8h23.8v1.5h-23.8zM85.3 816h23.8v0.8h-23.8zM85.3 822.6h23.8v1h-23.8zM109 822.6h23.8v1h-23.8zM85.3 841.1h23.8v0.9h-23.8zM85.3 872h23.8v0.8h-23.8zM85.3 892h23.8v1h-23.8zM109 892h23.8v1h-23.8zM109 897.6h23.8v1.2h-23.8zM132.8 648h23.8v1h-23.8zM132.8 674.3h23.8v1h-23.8zM156.6 685.8h23.8v1h-23.8zM156.6 704.5h23.8v0.8h-23.8zM132.8 716.3h23.8v1h-23.8zM156.6 716.3h23.8v1h-23.8zM132.8 719.5h23.8v0.5h-23.8zM156.6 719.5h23.8v0.5h-23.8zM156.6 724.5h23.8v1.2h-23.8zM132.8 731.2h23.8v1h-23.8zM156.6 731.2h23.8v1h-23.8zM132.8 773.2h23.8v0.8h-23.8zM156.6 773.2h23.8v0.8h-23.8zM132.8 801.8h23.8v1h-23.8zM132.8 820.3h23.8v1.5h-23.8zM156.6 872.3h23.8v0.5h-23.8zM132.8 908.1h23.8v1.2h-23.8zM132.8 929.6h23.8v1.2h-23.8zM156.6 929.6h23.8v1.2h-23.8zM204.1 654.1h23.8v0.8h-23.8zM180.3 658.5h23.8v1.1h-23.8zM204.1 664h23.8v0.8h-23.8zM180.3 688.3h23.8v1h-23.8zM204.1 689.3h23.8v1.2h-23.8zM180.3 690.5h23.8v0.6h-23.8zM204.1 702.3h23.8v1.2h-23.8zM204.1 715.9h23.8v1h-23.8zM180.3 771.1h23.8v1h-23.8zM204.1 791.2h23.8v1h-23.8zM204.1 803h23.8v1h-23.8zM180.3 900.6h23.8v1.5h-23.8zM180.3 918.6h23.8v1h-23.8zM204.1 918.6h23.8v1h-23.8zM180.3 945.1h23.8v0.1h-23.8zM204.1 945.1h23.8v0.1h-23.8zM251.6 641.2h23.8v0.2h-23.8zM251.6 656.4h23.8v1.1h-23.8zM227.8 712.1h23.8v1h-23.8zM251.6 714.6h23.8v0.3h-23.8zM251.6 732.2h23.8v1h-23.8zM227.8 766.1h23.8v1h-23.8zM251.6 771.1h23.8v1h-23.8zM227.8 791h23.8v1h-23.8zM227.8 794.2h23.8v1h-23.8zM227.8 797.7h23.8v1.2h-23.8zM251.6 797.7h23.8v1.2h-23.8zM227.8 813.6h23.8v1h-23.8zM227.8 814.6h23.8v0.8h-23.8zM251.6 838.7h23.8v0.8h-23.8zM227.8 861.6h23.8v1h-23.8zM227.8 884.3h23.8v0.8h-23.8zM251.6 884.3h23.8v0.8h-23.8zM251.6 885.1h23.8v1.5h-23.8zM251.6 886.6h23.8v1.5h-23.8zM227.8 909.2h23.8v1h-23.8zM227.8 922.6h23.8v1h-23.8zM251.6 922.6h23.8v1h-23.8zM227.8 951.5h23.8v0.8h-23.8zM251.6 951.5h23.8v0.8h-23.8zM436.7 672.5h23.7v0.8h-23.7zM460.4 672.5h23.7v0.8h-23.7zM436.7 678.7h23.7v1h-23.7zM460.4 703.8h23.7v1h-23.7zM436.7 748.6h23.7v1.2h-23.7zM460.4 748.6h23.7v1.2h-23.7zM460.4 795.3h23.7v1.2h-23.7zM460.4 823.8h23.7v0.7h-23.7zM460.4 830.9h23.7v1h-23.7zM436.7 835.7h23.7v1.5h-23.7zM436.7 850.2h23.7v0.8h-23.7zM436.7 938h23.7v1h-23.7zM460.4 939.8h23.7v0.5h-23.7zM484.1 649.8h23.7v0.8h-23.7zM484.1 650.6h23.7v0.8h-23.7zM507.9 650.6h23.7v0.8h-23.7zM507.9 676.4h23.7v1h-23.7zM507.9 679.8h23.7v0.2h-23.7zM484.1 684.8h23.7v1.2h-23.7zM484.1 687.5h23.7v0.8h-23.7zM507.9 688.3h23.7v1h-23.7zM484.1 689.3h23.7v1h-23.7zM507.9 689.3h23.7v1h-23.7zM484.1 704.5h23.7v1h-23.7zM507.9 704.5h23.7v1h-23.7zM484.1 747.8h23.7v1.5h-23.7zM507.9 747.8h23.7v1.5h-23.7zM484.1 769.1h23.7v1h-23.7zM507.9 769.1h23.7v1h-23.7zM484.1 821h23.7v0.8h-23.7zM507.9 821h23.7v0.8h-23.7zM507.9 821.8h23.7v1h-23.7zM484.1 836.9h23.7v0.9h-23.7zM507.9 836.9h23.7v0.9h-23.7zM484.1 851.8h23.7v1h-23.7zM507.9 851.8h23.7v1h-23.7zM484.1 875.4h23.7v0.9h-23.7zM484.1 905.4h23.7v0.6h-23.7zM484.1 937.6h23.7v1.2h-23.7zM531.6 651.8h23.7v1h-23.7zM531.6 666h23.7v1h-23.7zM555.3 666h23.7v1h-23.7zM531.6 667h23.7v0.8h-23.7zM531.6 671.3h23.7v1h-23.7zM555.3 671.3h23.7v1h-23.7zM531.6 676.1h23.7v1h-23.7zM531.6 730.4h23.7v0.1h-23.7zM555.3 768.2h23.7v1.5h-23.7zM531.6 778.2h23.7v1h-23.7zM555.3 778.2h23.7v1h-23.7zM555.3 780.2h23.7v1.2h-23.7zM555.3 792.8h23.7v1.5h-23.7zM555.3 798.5h23.7v0.8h-23.7zM531.6 801h23.7v0.8h-23.7zM555.3 801h23.7v0.8h-23.7zM555.3 801.8h23.7v1.5h-23.7zM531.6 803.3h23.7v0.2h-23.7zM555.3 803.3h23.7v0.2h-23.7zM555.3 904.8h23.7v0.5h-23.7zM579 665.3h23.7v0.8h-23.7zM602.8 665.3h23.7v0.8h-23.7zM602.8 666.9h23.7v1h-23.7zM579 684.8h23.7v1h-23.7zM602.8 693.7h23.7v1h-23.7zM602.8 694.7h23.7v0.8h-23.7zM579 718.3h23.7v0.8h-23.7zM602.8 718.3h23.7v0.8h-23.7zM579 750.4h23.7v1.2h-23.7zM602.8 778.4h23.7v0.8h-23.7zM602.8 858.8h23.7v1.5h-23.7zM602.8 860.3h23.7v1.5h-23.7zM579 862.8h23.7v1.2h-23.7zM579 954.5h23.7v1.2h-23.7z"/>
<path fill="#6c3606" d="M109 669.5h23.8v0.6h-23.8zM85.3 687.9h23.8v0.8h-23.8zM109 697.3h23.8v0.1h-23.8zM109 703.7h23.8v1.5h-23.8zM85.3 715.4h23.8v0.9h-23.8zM85.3 717.8h23.8v1h-23.8zM109 717.8h23.8v1h-23.8zM85.3 802.8h23.8v1.5h-23.8zM109 841.1h23.8v0.9h-23.8zM85.3 851.9h23.8v0.6h-23.8zM109 851.9h23.8v0.6h-23.8zM109 872h23.8v0.8h-23.8zM85.3 897.6h23.8v1.2h-23.8zM132.8 717.3h23.8v1h-23.8zM156.6 717.3h23.8v1h-23.8zM132.8 724.5h23.8v1.2h-23.8zM132.8 741.4h23.8v1h-23.8zM156.6 741.4h23.8v1h-23.8zM156.6 820.3h23.8v1.5h-23.8zM156.6 849.7h23.8v1.2h-23.8zM132.8 872.3h23.8v0.5h-23.8zM132.8 893h23.8v1.5h-23.8zM156.6 893h23.8v1.5h-23.8zM132.8 922.3h23.8v1.5h-23.8zM180.3 654.1h23.8v0.8h-23.8zM180.3 654.9h23.8v0.5h-23.8zM180.3 664h23.8v0.8h-23.8zM204.1 690.5h23.8v0.6h-23.8zM180.3 834.2h23.8v1.2h-23.8zM204.1 884.3h23.8v0.8h-23.8zM204.1 888.1h23.8v0.8h-23.8zM204.1 888.9h23.8v1h-23.8zM204.1 900.6h23.8v1.5h-23.8zM180.3 922.4h23.8v1.2h-23.8zM227.8 641.2h23.8v0.2h-23.8zM251.6 655.4h23.8v1h-23.8zM227.8 656.4h23.8v1.1h-23.8zM227.8 714.6h23.8v0.3h-23.8zM227.8 758.5h23.8v1h-23.8zM227.8 767.1h23.8v1.2h-23.8zM251.6 791h23.8v1h-23.8zM251.6 794.2h23.8v1h-23.8zM227.8 798.9h23.8v1h-23.8zM251.6 814.6h23.8v0.8h-23.8zM227.8 838.7h23.8v0.8h-23.8zM251.6 852.9h23.8v0.3h-23.8zM227.8 889.3h23.8v0.6h-23.8zM251.6 909.2h23.8v1h-23.8zM251.6 910.2h23.8v0.8h-23.8zM227.8 912.5h23.8v0.5h-23.8zM251.6 953.3h23.8v1.5h-23.8zM436.7 677.2h23.7v1.5h-23.7zM436.7 699h23.7v1h-23.7zM436.7 731.2h23.7v1h-23.7zM460.4 731.2h23.7v1h-23.7zM460.4 822h23.7v0.8h-23.7zM436.7 822.8h23.7v1h-23.7zM460.4 833.7h23.7v1h-23.7zM460.4 835.7h23.7v1.5h-23.7zM460.4 850.2h23.7v0.8h-23.7zM436.7 858.8h23.7v0.8h-23.7zM460.4 901.8h23.7v1h-23.7zM436.7 908.8h23.7v0.7h-23.7zM460.4 908.8h23.7v0.7h-23.7zM484.1 669h23.7v1.5h-23.7zM507.9 669h23.7v1.5h-23.7zM507.9 691.1h23.7v1.4h-23.7zM507.9 756h23.7v1h-23.7zM507.9 767.6h23.7v1.5h-23.7zM484.1 810.9h23.7v0.8h-23.7zM507.9 810.9h23.7v0.8h-23.7zM484.1 835.7h23.7v1.2h-23.7zM484.1 874.2h23.7v1.2h-23.7zM507.9 937.6h23.7v1.2h-23.7zM507.9 948.3h23.7v1.2h-23.7zM531.6 693.5h23.7v1h-23.7zM531.6 723.5h23.7v1h-23.7zM555.3 723.5h23.7v1h-23.7zM531.6 724.5h23.7v1.2h-23.7zM555.3 785.4h23.7v1h-23.7zM531.6 833.1h23.7v1h-23.7zM531.6 859.8h23.7v1h-23.7zM555.3 859.8h23.7v1h-23.7zM555.3 865.8h23.7v1.5h-23.7zM531.6 904.8h23.7v0.5h-23.7zM531.6 920.6h23.7v0.8h-23.7zM602.8 652.3h23.7v1h-23.7zM602.8 666.1h23.7v0.8h-23.7zM579 666.9h23.7v1h-23.7zM579 681.2h23.7v0.8h-23.7zM579 693.7h23.7v1h-23.7zM602.8 721h23.7v1.5h-23.7zM579 825.2h23.7v1.2h-23.7zM602.8 825.2h23.7v1.2h-23.7zM579 829.7h23.7v1h-23.7zM579 860.3h23.7v1.5h-23.7zM602.8 862.8h23.7v1.2h-23.7zM602.8 892h23.7v1.2h-23.7z"/>
<path fill="#783c0c" d="M85.3 670.1h23.8v1h-23.8zM109 687.9h23.8v0.8h-23.8zM85.3 703.7h23.8v1.5h-23.8zM85.3 725.5h23.8v1h-23.8zM85.3 744.5h23.8v1.5h-23.8zM109 754.2h23.8v0.1h-23.8zM85.3 760.1h23.8v0.5h-23.8zM85.3 772.1h23.8v1.1h-23.8zM85.3 819.3h23.8v1h-23.8zM109 819.3h23.8v1h-23.8zM109 898.8h23.8v0.8h-23.8zM156.6 648h23.8v1h-23.8zM132.8 658.5h23.8v0.8h-23.8zM156.6 658.5h23.8v0.8h-23.8zM156.6 674.3h23.8v1h-23.8zM132.8 696.3h23.8v1h-23.8zM156.6 718.3h23.8v1.2h-23.8zM132.8 727.8h23.8v1h-23.8zM132.8 880h23.8v0.8h-23.8zM156.6 908.1h23.8v1.2h-23.8zM156.6 922.3h23.8v1.5h-23.8zM204.1 654.9h23.8v0.5h-23.8zM204.1 658.5h23.8v1.1h-23.8zM204.1 688.3h23.8v1h-23.8zM180.3 689.3h23.8v1.2h-23.8zM180.3 702.3h23.8v1.2h-23.8zM180.3 732.4h23.8v1h-23.8zM204.1 732.4h23.8v1h-23.8zM180.3 840.2h23.8v0.4h-23.8zM180.3 884.3h23.8v0.8h-23.8zM180.3 888.1h23.8v0.8h-23.8zM204.1 922.4h23.8v1.2h-23.8zM251.6 640h23.8v1.2h-23.8zM227.8 643.9h23.8v1h-23.8zM251.6 643.9h23.8v1h-23.8zM227.8 655.4h23.8v1h-23.8zM227.8 672.2h23.8v0.8h-23.8zM227.8 673h23.8v1h-23.8zM251.6 677.2h23.8v1.3h-23.8zM227.8 731.2h23.8v1h-23.8zM227.8 732.2h23.8v1h-23.8zM227.8 789.2h23.8v0.8h-23.8zM251.6 813.6h23.8v1h-23.8zM251.6 851.1h23.8v0.8h-23.8zM251.6 861.6h23.8v1h-23.8zM251.6 912.5h23.8v0.5h-23.8zM460.4 677.2h23.7v1.5h-23.7zM436.7 679.7h23.7v0.3h-23.7zM460.4 679.7h23.7v0.3h-23.7zM460.4 689.3h23.7v1.5h-23.7zM460.4 747.8h23.7v0.8h-23.7zM436.7 795.3h23.7v1.2h-23.7zM460.4 822.8h23.7v1h-23.7zM436.7 828.7h23.7v1.2h-23.7zM436.7 901.8h23.7v1h-23.7zM436.7 939.8h23.7v0.5h-23.7zM507.9 664.9h23.7v0.3h-23.7zM484.1 677.4h23.7v1.2h-23.7zM507.9 677.4h23.7v1.2h-23.7zM484.1 679.8h23.7v0.2h-23.7zM507.9 687.5h23.7v0.8h-23.7zM507.9 705.5h23.7v0.3h-23.7zM484.1 756h23.7v1h-23.7zM484.1 821.8h23.7v1h-23.7zM484.1 832.7h23.7v0.8h-23.7zM507.9 874.2h23.7v1.2h-23.7zM507.9 905.4h23.7v0.6h-23.7zM484.1 948.3h23.7v1.2h-23.7zM555.3 724.5h23.7v1.2h-23.7zM531.6 768.2h23.7v1.5h-23.7zM531.6 787.9h23.7v0.7h-23.7zM531.6 792.8h23.7v1.5h-23.7zM555.3 833.1h23.7v1h-23.7zM555.3 916.6h23.7v1h-23.7zM579 666.1h23.7v0.8h-23.7zM579 670.4h23.7v1h-23.7zM579 680h23.7v1.2h-23.7zM602.8 684.8h23.7v1h-23.7zM579 695.5h23.7v0.5h-23.7zM579 721h23.7v1.5h-23.7zM602.8 782.6h23.7v0.4h-23.7zM602.8 786.1h23.7v0.8h-23.7zM602.8 810.6h23.7v1.2h-23.7zM602.8 834.5h23.7v1.2h-23.7zM579 847.2h23.7v0.8h-23.7zM602.8 847.2h23.7v0.8h-23.7zM602.8 861.8h23.7v1h-23.7zM579 889.5h23.7v1.5h-23.7zM579 892h23.7v1.2h-23.7zM579 896.5h23.7v1.1h-23.7zM579 915.9h23.7v1h-23.7zM602.8 949.3h23.7v0.8h-23.7z"/>
<path fill="#2a2a06" d="M85.3 672.2h23.8v0.8h-23.8zM109 697.4h23.8v1h-23.8zM85.3 751.5h23.8v1.2h-23.8zM85.3 759.3h23.8v0.8h-23.8zM85.3 774.2h23.8v1.1h-23.8zM109 788.6h23.8v1h-23.8zM85.3 807.8h23.8v0.8h-23.8zM85.3 885.7h23.8v1h-23.8zM109 915.2h23.8v1.3h-23.8zM156.6 651h23.8v1.5h-23.8zM156.6 688.7h23.8v0.3h-23.8zM132.8 698.9h23.8v0.6h-23.8zM156.6 771.1h23.8v0.8h-23.8zM204.1 673.2h23.8v1h-23.8zM180.3 754.7h23.8v1h-23.8zM180.3 814.6h23.8v0.8h-23.8zM204.1 902.1h23.8v1h-23.8zM251.6 657.5h23.8v1h-23.8zM227.8 752.2h23.8v0.8h-23.8zM251.6 753h23.8v1.5h-23.8zM227.8 754.5h23.8v1.2h-23.8zM251.6 754.5h23.8v1.2h-23.8zM227.8 785.8h23.8v1h-23.8zM227.8 865.9h23.8v0.8h-23.8zM227.8 906h23.8v0.8h-23.8zM227.8 918.6h23.8v1.5h-23.8zM251.6 918.6h23.8v1.5h-23.8zM227.8 954.8h23.8v1.2h-23.8zM436.7 668h23.7v1h-23.7zM460.4 671h23.7v0.5h-23.7zM460.4 899h23.7v1h-23.7zM507.9 759.6h23.7v1.5h-23.7zM531.6 694.5h23.7v1h-23.7zM555.3 695.5h23.7v0.5h-23.7zM531.6 761.7h23.7v1h-23.7zM531.6 795.5h23.7v1.5h-23.7zM531.6 914.4h23.7v1h-23.7zM579 668h23.7v1.2h-23.7zM602.8 668h23.7v1.2h-23.7zM602.8 822.4h23.7v0.8h-23.7zM602.8 914.4h23.7v1.5h-23.7z"/>
<path fill="#36b418" d="M85.3 674.2h23.8v0.1h-23.8zM85.3 677.4h23.8v0.4h-23.8zM109 677.4h23.8v0.4h-23.8zM85.3 678.8h23.8v1.2h-23.8zM85.3 680h23.8v1h-23.8zM109 680h23.8v1h-23.8zM85.3 693.3h23.8v0.8h-23.8zM85.3 695.1h23.8v0.2h-23.8zM109 695.1h23.8v0.2h-23.8zM85.3 708.6h23.8v1h-23.8zM85.3 768.2h23.8v1h-23.8zM85.3 776.5h23.8v1.2h-23.8zM85.3 779.5h23.8v0.8h-23.8zM85.3 781.8h23.8v0.5h-23.8zM109 826.4h23.8v1.5h-23.8zM85.3 828.7h23.8v0.8h-23.8zM109 829.5h23.8v0.6h-23.8zM109 845.6h23.8v1.2h-23.8zM85.3 846.8h23.8v1.2h-23.8zM85.3 848h23.8v1.2h-23.8zM85.3 872.8h23.8v1h-23.8zM109 873.8h23.8v0.8h-23.8zM109 875.6h23.8v0.8h-23.8zM85.3 876.4h23.8v1h-23.8zM85.3 877.4h23.8v0.6h-23.8zM85.3 905.9h23.8v1.5h-23.8zM85.3 933.1h23.8v1h-23.8zM109 933.1h23.8v1h-23.8zM85.3 934.7h23.8v1h-23.8zM109 934.7h23.8v1h-23.8zM109 937.9h23.8v1h-23.8zM85.3 938.9h23.8v0.7h-23.8zM109 938.9h23.8v0.7h-23.8zM109 948h23.8v0.8h-23.8zM85.3 949.8h23.8v1h-23.8zM132.8 650.5h23.8v0.5h-23.8zM156.6 650.5h23.8v0.5h-23.8zM132.8 682h23.8v0.7h-23.8zM156.6 682h23.8v0.7h-23.8zM132.8 693.5h23.8v1h-23.8zM156.6 709h23.8v1h-23.8zM132.8 728.8h23.8v1h-23.8zM156.6 728.8h23.8v1h-23.8zM156.6 746.6h23.8v0.8h-23.8zM156.6 748.4h23.8v1h-23.8zM132.8 750.4h23.8v1h-23.8zM156.6 776.3h23.8v1h-23.8zM132.8 777.3h23.8v0.8h-23.8zM156.6 777.3h23.8v0.8h-23.8zM132.8 778.1h23.8v1h-23.8zM156.6 778.1h23.8v1h-23.8zM156.6 779.1h23.8v1.2h-23.8zM132.8 780.3h23.8v1h-23.8zM156.6 780.3h23.8v1h-23.8zM156.6 781.3h23.8v0.8h-23.8zM132.8 829.7h23.8v0.4h-23.8zM132.8 847.8h23.8v1.2h-23.8zM156.6 872.8h23.8v1h-23.8zM132.8 873.8h23.8v1h-23.8zM156.6 874.8h23.8v1h-23.8zM132.8 875.8h23.8v1h-23.8zM156.6 875.8h23.8v1h-23.8zM132.8 876.8h23.8v0.8h-23.8zM156.6 935.7h23.8v1h-23.8zM156.6 948h23.8v0.8h-23.8zM132.8 949.8h23.8v1.2h-23.8zM204.1 665.2h23.8v1h-23.8zM180.3 666.2h23.8v1.5h-23.8zM180.3 668.7h23.8v1h-23.8zM180.3 669.7h23.8v0.4h-23.8zM204.1 669.7h23.8v0.4h-23.8zM180.3 685.1h23.8v1h-23.8zM204.1 707.6h23.8v1.5h-23.8zM204.1 746.6h23.8v1.2h-23.8zM180.3 750.3h23.8v1.2h-23.8zM180.3 777.8h23.8v1.5h-23.8zM204.1 841.6h23.8v1h-23.8zM204.1 845.8h23.8v0.4h-23.8zM180.3 865.1h23.8v1h-23.8zM180.3 867.1h23.8v0.8h-23.8zM204.1 867.1h23.8v0.8h-23.8zM180.3 896.4h23.8v0.8h-23.8zM204.1 898.2h23.8v0.1h-23.8zM180.3 936.3h23.8v1h-23.8zM180.3 945.2h23.8v1.5h-23.8zM180.3 947.9h23.8v1.5h-23.8zM180.3 950.4h23.8v1h-23.8zM204.1 951.4h23.8v0.1h-23.8zM251.6 641.4h23.8v1h-23.8zM251.6 706.1h23.8v1h-23.8zM227.8 776h23.8v0.8h-23.8zM251.6 776.8h23.8v1h-23.8zM227.8 777.8h23.8v1.5h-23.8zM436.7 655.4h23.7v1.2h-23.7zM460.4 655.4h23.7v1.2h-23.7zM436.7 658.1h23.7v0.8h-23.7zM436.7 663.2h23.7v1h-23.7zM460.4 712h23.7v0.8h-23.7zM436.7 732.2h23.7v1h-23.7zM436.7 745.4h23.7v1.2h-23.7zM460.4 824.5h23.7v1.2h-23.7zM436.7 839.4h23.7v1h-23.7zM460.4 839.4h23.7v1h-23.7zM436.7 930.7h23.7v1.5h-23.7zM507.9 655.4h23.7v1.2h-23.7zM484.1 658.4h23.7v1h-23.7zM507.9 710h23.7v1.2h-23.7zM507.9 713.2h23.7v1h-23.7zM507.9 732.4h23.7v1.5h-23.7zM507.9 733.9h23.7v0.1h-23.7zM484.1 743.4h23.7v1h-23.7zM484.1 745.9h23.7v0.7h-23.7zM507.9 789.3h23.7v0.8h-23.7zM507.9 791.3h23.7v0.8h-23.7zM484.1 825.3h23.7v1.5h-23.7zM507.9 825.3h23.7v1.5h-23.7zM484.1 828.3h23.7v0.4h-23.7zM484.1 927.7h23.7v1.2h-23.7zM507.9 930.1h23.7v1.5h-23.7zM555.3 657.6h23.7v1h-23.7zM531.6 710h23.7v1.2h-23.7zM531.6 745.4h23.7v1h-23.7zM531.6 772.6h23.7v1.2h-23.7zM555.3 820.4h23.7v1.5h-23.7zM555.3 927h23.7v1.5h-23.7zM555.3 931.5h23.7v1h-23.7zM555.3 932.5h23.7v1.5h-23.7zM579 647.6h23.7v1h-23.7zM602.8 658.9h23.7v0.1h-23.7zM579 742.2h23.7v0.8h-23.7zM579 743h23.7v1.2h-23.7zM602.8 743h23.7v1.2h-23.7zM579 841.2h23.7v0.8h-23.7zM602.8 841.2h23.7v0.8h-23.7zM579 844.8h23.7v1.2h-23.7zM602.8 911.2h23.7v1h-23.7z"/>
<path fill="#36ba18" d="M109 674.2h23.8v0.1h-23.8zM109 677.8h23.8v1h-23.8zM109 678.8h23.8v1.2h-23.8zM109 681h23.8v1h-23.8zM109 693.3h23.8v0.8h-23.8zM85.3 709.6h23.8v0.4h-23.8zM109 768.2h23.8v1h-23.8zM109 780.3h23.8v1.5h-23.8zM109 781.8h23.8v0.5h-23.8zM85.3 825.2h23.8v1.2h-23.8zM85.3 827.9h23.8v0.8h-23.8zM109 872.8h23.8v1h-23.8zM85.3 904.9h23.8v1h-23.8zM85.3 948h23.8v0.8h-23.8zM85.3 950.8h23.8v1h-23.8zM109 951.8h23.8v0.4h-23.8zM132.8 680.5h23.8v1.5h-23.8zM132.8 692.3h23.8v1.2h-23.8zM156.6 692.3h23.8v1.2h-23.8zM156.6 693.5h23.8v1h-23.8zM156.6 701h23.8v0.6h-23.8zM156.6 747.4h23.8v1h-23.8zM132.8 748.4h23.8v1h-23.8zM132.8 749.4h23.8v1h-23.8zM156.6 749.4h23.8v1h-23.8zM156.6 750.4h23.8v1h-23.8zM132.8 776.3h23.8v1h-23.8zM132.8 779.1h23.8v1.2h-23.8zM132.8 781.3h23.8v0.8h-23.8zM132.8 782.1h23.8v0.2h-23.8zM156.6 782.1h23.8v0.2h-23.8zM132.8 825.1h23.8v0.1h-23.8zM156.6 825.1h23.8v0.1h-23.8zM132.8 825.2h23.8v1.2h-23.8zM156.6 827.9h23.8v1h-23.8zM156.6 829.7h23.8v0.4h-23.8zM156.6 873.8h23.8v1h-23.8zM156.6 876.8h23.8v0.8h-23.8zM132.8 935.7h23.8v1h-23.8zM132.8 948.8h23.8v1h-23.8zM156.6 948.8h23.8v1h-23.8zM156.6 949.8h23.8v1.2h-23.8zM204.1 685.1h23.8v1h-23.8zM180.3 749.3h23.8v1h-23.8zM204.1 749.3h23.8v1h-23.8zM204.1 750.3h23.8v1.2h-23.8zM180.3 760.5h23.8v0.8h-23.8zM180.3 840.6h23.8v1h-23.8zM204.1 840.6h23.8v1h-23.8zM180.3 841.6h23.8v1h-23.8zM180.3 842.6h23.8v1.2h-23.8zM180.3 845.8h23.8v0.4h-23.8zM204.1 866.1h23.8v1h-23.8zM204.1 868.9h23.8v1.1h-23.8zM180.3 898.2h23.8v0.1h-23.8zM180.3 923.6h23.8v1.5h-23.8zM180.3 946.7h23.8v1.2h-23.8zM204.1 946.7h23.8v1.2h-23.8zM227.8 641.4h23.8v1h-23.8zM227.8 665.2h23.8v1h-23.8zM251.6 665.2h23.8v1h-23.8zM251.6 685.1h23.8v1.1h-23.8zM251.6 762.5h23.8v1h-23.8zM227.8 776.8h23.8v1h-23.8zM227.8 859.9h23.8v1h-23.8zM227.8 947.7h23.8v1h-23.8zM251.6 947.7h23.8v1h-23.8zM460.4 658.9h23.7v0.7h-23.7zM436.7 712h23.7v0.8h-23.7zM436.7 742.4h23.7v1h-23.7zM436.7 743.4h23.7v1h-23.7zM436.7 828.4h23.7v0.3h-23.7zM460.4 828.4h23.7v0.3h-23.7zM436.7 837.8h23.7v0.8h-23.7zM436.7 838.6h23.7v0.8h-23.7zM460.4 838.6h23.7v0.8h-23.7zM460.4 840.4h23.7v1.2h-23.7zM460.4 927.7h23.7v1h-23.7zM460.4 932.2h23.7v0.8h-23.7zM484.1 712.4h23.7v0.8h-23.7zM484.1 742.4h23.7v1h-23.7zM507.9 742.4h23.7v1h-23.7zM507.9 744.4h23.7v1.5h-23.7zM484.1 762h23.7v0.8h-23.7zM507.9 762h23.7v0.8h-23.7zM484.1 782.6h23.7v0.8h-23.7zM484.1 789.3h23.7v0.8h-23.7zM484.1 837.8h23.7v0.8h-23.7zM484.1 861.8h23.7v0.5h-23.7zM555.3 656.4h23.7v1.2h-23.7zM531.6 711.2h23.7v1.5h-23.7zM555.3 713.7h23.7v0.5h-23.7zM555.3 743.2h23.7v1h-23.7zM555.3 746.4h23.7v0.2h-23.7zM531.6 926.2h23.7v0.8h-23.7zM555.3 926.2h23.7v0.8h-23.7zM531.6 927h23.7v1.5h-23.7zM531.6 930h23.7v1.5h-23.7zM555.3 930h23.7v1.5h-23.7zM602.8 745.2h23.7v1.2h-23.7zM579 788.6h23.7v0.8h-23.7zM602.8 844.8h23.7v1.2h-23.7zM579 886.7h23.7v1.5h-23.7z"/>
<path fill="#244206" d="M85.3 676.4h23.8v1h-23.8zM109 676.4h23.8v1h-23.8zM85.3 712.1h23.8v1h-23.8zM85.3 716.3h23.8v1.5h-23.8zM85.3 771.1h23.8v1h-23.8zM109 789.6h23.8v0.8h-23.8zM85.3 835h23.8v1h-23.8zM109 835h23.8v1h-23.8zM85.3 928.4h23.8v1.2h-23.8zM132.8 686.9h23.8v0.8h-23.8zM156.6 787.6h23.8v1h-23.8zM156.6 852.5h23.8v1h-23.8zM132.8 853.5h23.8v1.5h-23.8zM156.6 853.5h23.8v1.5h-23.8zM132.8 887.7h23.8v0.8h-23.8zM156.6 887.7h23.8v0.8h-23.8zM156.6 911.3h23.8v0.3h-23.8zM180.3 752.2h23.8v1h-23.8zM204.1 752.2h23.8v1h-23.8zM180.3 813.6h23.8v1h-23.8zM204.1 813.6h23.8v1h-23.8zM251.6 658.5h23.8v1.1h-23.8zM227.8 719.7h23.8v0.3h-23.8zM251.6 719.7h23.8v0.3h-23.8zM251.6 728.7h23.8v1h-23.8zM227.8 730.9h23.8v0.3h-23.8zM227.8 743.1h23.8v1.2h-23.8zM251.6 743.1h23.8v1.2h-23.8zM251.6 866.7h23.8v1h-23.8zM227.8 869.7h23.8v0.3h-23.8zM251.6 869.7h23.8v0.3h-23.8zM436.7 687.3h23.7v1h-23.7zM460.4 687.3h23.7v1h-23.7zM460.4 763.2h23.7v1.2h-23.7zM436.7 851.8h23.7v1h-23.7zM436.7 921h23.7v0.8h-23.7zM460.4 921h23.7v0.8h-23.7zM484.1 670.5h23.7v1h-23.7zM507.9 670.5h23.7v1h-23.7zM484.1 873.1h23.7v0.8h-23.7zM507.9 873.1h23.7v0.8h-23.7zM531.6 647.2h23.7v0.8h-23.7zM555.3 647.2h23.7v0.8h-23.7zM531.6 692.5h23.7v1h-23.7zM531.6 757.2h23.7v1h-23.7zM555.3 757.2h23.7v1h-23.7zM531.6 784.2h23.7v1.2h-23.7zM531.6 915.4h23.7v1.2h-23.7zM579 671.4h23.7v1.2h-23.7zM602.8 671.4h23.7v1.2h-23.7zM579 846.2h23.7v1h-23.7zM602.8 846.2h23.7v1h-23.7zM602.8 848h23.7v0.3h-23.7zM579 885.7h23.7v1h-23.7zM602.8 885.7h23.7v1h-23.7zM579 901.3h23.7v0.5h-23.7zM602.8 901.3h23.7v0.5h-23.7zM579 936.8h23.7v1.2h-23.7zM602.8 936.8h23.7v1.2h-23.7z"/>
<path fill="#3cc018" d="M85.3 677.8h23.8v1h-23.8zM85.3 681h23.8v1h-23.8zM109 778.7h23.8v0.8h-23.8zM109 825.2h23.8v1.2h-23.8zM109 828.7h23.8v0.8h-23.8zM85.3 844.8h23.8v0.8h-23.8zM109 844.8h23.8v0.8h-23.8zM85.3 845.6h23.8v1.2h-23.8zM109 846.8h23.8v1.2h-23.8zM85.3 875.6h23.8v0.8h-23.8zM85.3 907.4h23.8v0.7h-23.8zM109 949.8h23.8v1h-23.8zM132.8 649h23.8v1.5h-23.8zM132.8 666h23.8v0.6h-23.8zM156.6 677.8h23.8v1.2h-23.8zM132.8 679h23.8v1.5h-23.8zM156.6 679h23.8v1.5h-23.8zM156.6 680.5h23.8v1.5h-23.8zM132.8 691.1h23.8v1.2h-23.8zM156.6 691.1h23.8v1.2h-23.8zM132.8 694.5h23.8v0.8h-23.8zM132.8 746.6h23.8v0.8h-23.8zM132.8 872.8h23.8v1h-23.8zM132.8 939.5h23.8v0.1h-23.8zM156.6 939.5h23.8v0.1h-23.8zM204.1 684.1h23.8v1h-23.8zM204.1 747.8h23.8v1.5h-23.8zM180.3 770.6h23.8v0.5h-23.8zM204.1 776.8h23.8v1h-23.8zM180.3 779.3h23.8v0.9h-23.8zM204.1 844.8h23.8v1h-23.8zM180.3 897.2h23.8v1h-23.8zM180.3 903.1h23.8v0.1h-23.8zM204.1 923.6h23.8v1.5h-23.8zM227.8 685.1h23.8v1.1h-23.8zM251.6 705.1h23.8v1h-23.8zM251.6 777.8h23.8v1.5h-23.8zM460.4 710h23.7v1h-23.7zM460.4 732.2h23.7v1h-23.7zM460.4 742.4h23.7v1h-23.7zM436.7 824.5h23.7v1.2h-23.7zM460.4 837.8h23.7v0.8h-23.7zM436.7 928.7h23.7v1.2h-23.7zM460.4 930.7h23.7v1.5h-23.7zM436.7 936.8h23.7v1.2h-23.7zM484.1 655.4h23.7v1.2h-23.7zM484.1 732.4h23.7v1.5h-23.7zM484.1 791.3h23.7v0.8h-23.7zM484.1 841.8h23.7v0.2h-23.7zM507.9 841.8h23.7v0.2h-23.7zM484.1 878h23.7v1.2h-23.7zM484.1 930.1h23.7v1.5h-23.7zM531.6 656.4h23.7v1.2h-23.7zM555.3 710h23.7v1.2h-23.7zM531.6 713.7h23.7v0.5h-23.7zM555.3 744.2h23.7v1.2h-23.7zM531.6 941.1h23.7v1h-23.7zM579 745.2h23.7v1.2h-23.7z"/>
<path fill="#1e6006" d="M109 682.7h23.8v1.2h-23.8zM109 754.3h23.8v1.2h-23.8zM156.6 659.6h23.8v1h-23.8zM132.8 807.8h23.8v1h-23.8zM132.8 855h23.8v1h-23.8zM156.6 909.3h23.8v1h-23.8zM180.3 719.5h23.8v0.5h-23.8zM251.6 664h23.8v1h-23.8zM227.8 681.7h23.8v0.3h-23.8zM227.8 856.4h23.8v0.3h-23.8zM227.8 871h23.8v1.5h-23.8zM251.6 906.8h23.8v1.2h-23.8zM460.4 852.8h23.7v1.5h-23.7zM460.4 885.7h23.7v1h-23.7zM460.4 916.5h23.7v1h-23.7zM436.7 919.3h23.7v0.7h-23.7zM460.4 919.3h23.7v0.7h-23.7zM507.9 784.4h23.7v0.8h-23.7zM484.1 815.4h23.7v1h-23.7zM555.3 740.7h23.7v0.3h-23.7zM531.6 775.4h23.7v0.8h-23.7zM579 736.9h23.7v1.5h-23.7zM579 879h23.7v1h-23.7zM602.8 879h23.7v1h-23.7zM602.8 900.3h23.7v1h-23.7zM579 936h23.7v0.8h-23.7zM602.8 936h23.7v0.8h-23.7z"/>
<path fill="#66540c" d="M109 683.9h23.8v0.9h-23.8zM85.3 701.6h23.8v1.2h-23.8zM85.3 802h23.8v0.8h-23.8zM109 946.2h23.8v1h-23.8zM109 952.2h23.8v1.2h-23.8zM180.3 698.9h23.8v0.6h-23.8zM227.8 651h23.8v1h-23.8zM436.7 660.4h23.7v1h-23.7zM484.1 798.8h23.7v1h-23.7zM484.1 844.7h23.7v0.1h-23.7zM555.3 673.5h23.7v0.1h-23.7zM579 720h23.7v1h-23.7zM602.8 770.4h23.7v1h-23.7zM602.8 830.8h23.7v1h-23.7zM579 844h23.7v0.8h-23.7z"/>
<path fill="#543006" d="M109 684.8h23.8v1h-23.8zM109 686.9h23.8v1h-23.8zM85.3 718.8h23.8v1.2h-23.8zM109 718.8h23.8v1.2h-23.8zM85.3 773.2h23.8v1h-23.8zM85.3 806.3h23.8v1.5h-23.8zM85.3 808.6h23.8v0.5h-23.8zM109 900.4h23.8v0.7h-23.8zM132.8 705.3h23.8v0.5h-23.8zM204.1 672.2h23.8v1h-23.8zM204.1 674.2h23.8v0.1h-23.8zM204.1 686.2h23.8v1h-23.8zM251.6 764.9h23.8v1.2h-23.8zM251.6 788h23.8v1.2h-23.8zM227.8 851.9h23.8v1h-23.8zM251.6 943.3h23.8v1.5h-23.8zM460.4 649.8h23.7v1.5h-23.7zM436.7 670h23.7v1h-23.7zM460.4 670h23.7v1h-23.7zM436.7 676.4h23.7v0.8h-23.7zM507.9 776.6h23.7v0.8h-23.7zM507.9 872.1h23.7v1h-23.7zM531.6 735h23.7v1h-23.7zM555.3 756.4h23.7v0.8h-23.7zM555.3 783h23.7v1.2h-23.7zM531.6 794.3h23.7v1.2h-23.7zM579 642.2h23.7v0.6h-23.7zM602.8 672.6h23.7v1h-23.7zM579 734h23.7v1.2h-23.7zM602.8 826.4h23.7v1h-23.7z"/>
<path fill="#6c7218" d="M85.3 689h23.8v1.2h-23.8zM85.3 710h23.8v1h-23.8zM85.3 923.2h23.8v1h-23.8zM109 947.2h23.8v0.8h-23.8zM156.6 675.3h23.8v0.8h-23.8zM156.6 721h23.8v1h-23.8zM132.8 763.4h23.8v1h-23.8zM156.6 796.6h23.8v1.5h-23.8zM132.8 803.6h23.8v1h-23.8zM132.8 928.4h23.8v1.2h-23.8zM156.6 928.4h23.8v1.2h-23.8zM204.1 679.7h23.8v0.8h-23.8zM204.1 692.1h23.8v1h-23.8zM204.1 693.1h23.8v0.1h-23.8zM180.3 788.5h23.8v0.8h-23.8zM180.3 789.3h23.8v0.7h-23.8zM204.1 807h23.8v1h-23.8zM204.1 853.1h23.8v0.1h-23.8zM436.7 640.8h23.7v1h-23.7zM460.4 640.8h23.7v1h-23.7zM460.4 662.2h23.7v0.2h-23.7zM436.7 742h23.7v0.4h-23.7zM436.7 778.6h23.7v1.5h-23.7zM436.7 796.5h23.7v1h-23.7zM460.4 796.5h23.7v1h-23.7zM460.4 809.9h23.7v1h-23.7zM460.4 844.5h23.7v0.3h-23.7zM460.4 908h23.7v0.8h-23.7zM460.4 936.3h23.7v0.5h-23.7zM507.9 703.5h23.7v1h-23.7zM507.9 819.2h23.7v0.8h-23.7zM484.1 914.8h23.7v1h-23.7zM507.9 924.2h23.7v0.8h-23.7zM555.3 691.1h23.7v1.2h-23.7zM531.6 705.4h23.7v0.4h-23.7zM531.6 753.4h23.7v0.8h-23.7zM531.6 779.2h23.7v1h-23.7zM531.6 782.6h23.7v0.4h-23.7zM531.6 934h23.7v1h-23.7zM555.3 934h23.7v1h-23.7zM579 703.4h23.7v0.8h-23.7zM602.8 703.4h23.7v0.8h-23.7zM602.8 855.8h23.7v0.2h-23.7z"/>
<path fill="#728a1e" d="M109 690.2h23.8v0.9h-23.8zM85.3 711h23.8v1.1h-23.8zM109 775.3h23.8v1.2h-23.8zM85.3 797.1h23.8v1.5h-23.8zM85.3 805.3h23.8v1h-23.8zM109 912.8h23.8v1.2h-23.8zM132.8 891.1h23.8v0.9h-23.8zM156.6 920.7h23.8v0.8h-23.8zM204.1 642.2h23.8v0.8h-23.8zM204.1 694.7h23.8v0.6h-23.8zM204.1 702.2h23.8v0.1h-23.8zM204.1 795h23.8v1.2h-23.8zM251.6 735h23.8v1.2h-23.8zM227.8 807.5h23.8v0.8h-23.8zM251.6 807.5h23.8v0.8h-23.8zM460.4 644.5h23.7v1h-23.7zM460.4 738.8h23.7v1.2h-23.7zM436.7 777.4h23.7v1.2h-23.7zM436.7 805.3h23.7v0.3h-23.7zM460.4 858.1h23.7v0.7h-23.7zM436.7 907.2h23.7v0.8h-23.7zM507.9 643.5h23.7v1h-23.7zM484.1 724.3h23.7v1h-23.7zM484.1 739h23.7v1h-23.7zM507.9 742h23.7v0.4h-23.7zM507.9 772.9h23.7v1h-23.7zM507.9 803.5h23.7v1.5h-23.7zM484.1 845.8h23.7v0.8h-23.7zM484.1 863.3h23.7v1h-23.7zM484.1 867h23.7v1h-23.7zM507.9 867h23.7v1h-23.7zM555.3 731.7h23.7v1h-23.7zM555.3 804.5h23.7v1h-23.7zM531.6 885.7h23.7v1h-23.7zM579 684h23.7v0.8h-23.7zM579 740.4h23.7v0.6h-23.7zM602.8 756.4h23.7v0.8h-23.7zM579 762.4h23.7v1.2h-23.7zM602.8 840.2h23.7v1h-23.7zM579 906.8h23.7v1.5h-23.7zM579 908.3h23.7v1h-23.7z"/>
<path fill="#36ae18" d="M85.3 691.1h23.8v1.2h-23.8zM109 691.1h23.8v1.2h-23.8zM85.3 705.8h23.8v0.8h-23.8zM109 705.8h23.8v0.8h-23.8zM109 708.6h23.8v1h-23.8zM109 709.6h23.8v0.4h-23.8zM85.3 778.7h23.8v0.8h-23.8zM109 779.5h23.8v0.8h-23.8zM109 827.9h23.8v0.8h-23.8zM85.3 829.5h23.8v0.6h-23.8zM109 877.4h23.8v0.6h-23.8zM109 905.9h23.8v1.5h-23.8zM85.3 935.7h23.8v1.2h-23.8zM156.6 649h23.8v1.5h-23.8zM156.6 666h23.8v0.6h-23.8zM156.6 694.5h23.8v0.8h-23.8zM132.8 701h23.8v0.6h-23.8zM132.8 709h23.8v1h-23.8zM132.8 766.2h23.8v1.2h-23.8zM156.6 825.2h23.8v1.2h-23.8zM156.6 937.9h23.8v0.8h-23.8zM132.8 948h23.8v0.8h-23.8zM156.6 952h23.8v0.2h-23.8zM180.3 665.2h23.8v1h-23.8zM204.1 666.2h23.8v1.5h-23.8zM180.3 667.7h23.8v1h-23.8zM204.1 667.7h23.8v1h-23.8zM180.3 747.8h23.8v1.5h-23.8zM204.1 760.5h23.8v0.8h-23.8zM204.1 770.6h23.8v0.5h-23.8zM180.3 776.8h23.8v1h-23.8zM204.1 777.8h23.8v1.5h-23.8zM204.1 779.3h23.8v0.9h-23.8zM180.3 793.4h23.8v0.8h-23.8zM180.3 866.1h23.8v1h-23.8zM180.3 868.9h23.8v1.1h-23.8zM204.1 897.2h23.8v1h-23.8zM204.1 945.2h23.8v1.5h-23.8zM204.1 947.9h23.8v1.5h-23.8zM227.8 684.1h23.8v1h-23.8zM227.8 706.1h23.8v1h-23.8zM251.6 720h23.8v1.5h-23.8zM227.8 737.5h23.8v1.2h-23.8zM227.8 762.5h23.8v1h-23.8zM251.6 776h23.8v0.8h-23.8zM436.7 658.9h23.7v0.7h-23.7zM460.4 663.2h23.7v1h-23.7zM436.7 710h23.7v1h-23.7zM460.4 745.4h23.7v1.2h-23.7zM436.7 927.7h23.7v1h-23.7zM436.7 932.2h23.7v0.8h-23.7zM507.9 658.4h23.7v1h-23.7zM484.1 710h23.7v1.2h-23.7zM507.9 712.4h23.7v0.8h-23.7zM507.9 828.3h23.7v0.4h-23.7zM507.9 837.8h23.7v0.8h-23.7zM484.1 839.6h23.7v1h-23.7zM507.9 927.7h23.7v1.2h-23.7zM484.1 928.9h23.7v1.2h-23.7zM484.1 932.6h23.7v0.7h-23.7zM531.6 657.6h23.7v1h-23.7zM531.6 658.6h23.7v0.4h-23.7zM555.3 741h23.7v1.2h-23.7zM531.6 746.4h23.7v0.2h-23.7zM555.3 772.6h23.7v1.2h-23.7zM531.6 820.4h23.7v1.5h-23.7zM531.6 932.5h23.7v1.5h-23.7zM579 648.6h23.7v0.8h-23.7zM579 658.9h23.7v0.1h-23.7zM602.8 742.2h23.7v0.8h-23.7zM602.8 788.6h23.7v0.8h-23.7zM602.8 886.7h23.7v1.5h-23.7zM579 911.2h23.7v1h-23.7z"/>
<path fill="#369c12" d="M85.3 692.3h23.8v1h-23.8zM109 692.3h23.8v1h-23.8zM109 707.6h23.8v1h-23.8zM85.3 816.8h23.8v1.5h-23.8zM109 879h23.8v0.8h-23.8zM132.8 751.4h23.8v0.1h-23.8zM156.6 751.4h23.8v0.1h-23.8zM156.6 877.6h23.8v0.4h-23.8zM156.6 897.5h23.8v0.1h-23.8zM132.8 936.7h23.8v1.2h-23.8zM156.6 936.7h23.8v1.2h-23.8zM180.3 709.1h23.8v0.2h-23.8zM251.6 749.3h23.8v0.8h-23.8zM227.8 750.1h23.8v1.2h-23.8zM251.6 750.1h23.8v1.2h-23.8zM436.7 877.3h23.7v0.7h-23.7zM460.4 877.3h23.7v0.7h-23.7zM460.4 910.5h23.7v1.5h-23.7zM507.9 931.6h23.7v1h-23.7zM555.3 776.2h23.7v0.8h-23.7zM555.3 879.8h23.7v0.2h-23.7zM531.6 928.5h23.7v1.5h-23.7zM602.8 649.4h23.7v0.4h-23.7zM579 657.9h23.7v1h-23.7zM602.8 705.8h23.7v1h-23.7zM579 765.6h23.7v0.6h-23.7z"/>
<path fill="#36a218" d="M85.3 694.1h23.8v1h-23.8zM85.3 777.7h23.8v1h-23.8zM109 777.7h23.8v1h-23.8zM85.3 866.6h23.8v1h-23.8zM109 903.9h23.8v1h-23.8zM132.8 670h23.8v0.1h-23.8zM156.6 670h23.8v0.1h-23.8zM156.6 828.9h23.8v0.8h-23.8zM132.8 846.3h23.8v1.5h-23.8zM180.3 705.1h23.8v1h-23.8zM180.3 846.2h23.8v1h-23.8zM251.6 682.8h23.8v1.3h-23.8zM227.8 721.5h23.8v0.5h-23.8zM251.6 721.5h23.8v0.5h-23.8zM227.8 749.3h23.8v0.8h-23.8zM227.8 817.4h23.8v0.8h-23.8zM436.7 711h23.7v1h-23.7zM507.9 659.4h23.7v0.2h-23.7zM484.1 753.9h23.7v1h-23.7zM507.9 753.9h23.7v1h-23.7zM484.1 838.6h23.7v1h-23.7zM507.9 838.6h23.7v1h-23.7zM555.3 705.8h23.7v0.8h-23.7zM579 646.4h23.7v1.2h-23.7zM602.8 646.4h23.7v1.2h-23.7zM579 649.4h23.7v0.4h-23.7zM579 691.1h23.7v1h-23.7zM602.8 707.8h23.7v1.2h-23.7zM602.8 765.6h23.7v0.6h-23.7zM579 872.3h23.7v1h-23.7z"/>
<path fill="#3cae18" d="M109 694.1h23.8v1h-23.8zM85.3 843.2h23.8v1h-23.8zM156.6 846.3h23.8v1.5h-23.8zM156.6 878h23.8v1.2h-23.8zM204.1 782.6h23.8v1.5h-23.8zM227.8 825.9h23.8v1h-23.8zM436.7 712.8h23.7v1.4h-23.7zM484.1 656.6h23.7v0.8h-23.7zM579 705.8h23.7v1h-23.7zM579 707.8h23.7v1.2h-23.7zM579 814.1h23.7v1.2h-23.7z"/>
<path fill="#2a6c0c" d="M85.3 699.5h23.8v1h-23.8zM109 699.5h23.8v1h-23.8zM85.3 852.5h23.8v1h-23.8zM109 852.5h23.8v1h-23.8zM85.3 865.8h23.8v0.8h-23.8zM109 865.8h23.8v0.8h-23.8zM109 868.4h23.8v1.2h-23.8zM109 890.3h23.8v1.5h-23.8zM132.8 660.6h23.8v1.1h-23.8zM156.6 660.6h23.8v1.1h-23.8zM156.6 706.8h23.8v1.2h-23.8zM132.8 712.1h23.8v1h-23.8zM156.6 811.3h23.8v1.5h-23.8zM156.6 879.2h23.8v0.8h-23.8zM132.8 903.9h23.8v1h-23.8zM132.8 916.5h23.8v1.5h-23.8zM180.3 696.3h23.8v1.1h-23.8zM204.1 721.2h23.8v0.8h-23.8zM180.3 734.8h23.8v1.5h-23.8zM180.3 812.5h23.8v0.1h-23.8zM180.3 831.2h23.8v0.3h-23.8zM204.1 831.2h23.8v0.3h-23.8zM180.3 847.2h23.8v1h-23.8zM204.1 847.2h23.8v1h-23.8zM180.3 848.2h23.8v1h-23.8zM180.3 872.7h23.8v1h-23.8zM204.1 878h23.8v1.2h-23.8zM251.6 665h23.8v0.2h-23.8zM251.6 679.7h23.8v1h-23.8zM227.8 780.2h23.8v1h-23.8zM227.8 946.7h23.8v1h-23.8zM436.7 753.7h23.7v1.2h-23.7zM460.4 814.4h23.7v1.2h-23.7zM436.7 878.8h23.7v1.2h-23.7zM460.4 878.8h23.7v1.2h-23.7zM460.4 894.2h23.7v1.5h-23.7zM460.4 912h23.7v1h-23.7zM436.7 915.5h23.7v1h-23.7zM484.1 911.3h23.7v1.2h-23.7zM531.6 720.8h23.7v1h-23.7zM531.6 738.5h23.7v1.2h-23.7zM531.6 815.1h23.7v0.8h-23.7zM531.6 839.2h23.7v0.8h-23.7zM555.3 839.2h23.7v0.8h-23.7zM531.6 871h23.7v0.8h-23.7zM555.3 871h23.7v0.8h-23.7zM531.6 873.3h23.7v0.9h-23.7zM555.3 873.3h23.7v0.9h-23.7zM531.6 910.2h23.7v1h-23.7zM555.3 910.2h23.7v1h-23.7zM531.6 912.4h23.7v1.2h-23.7zM555.3 912.4h23.7v1.2h-23.7zM579 746.4h23.7v0.2h-23.7zM579 764.6h23.7v1h-23.7zM579 930.7h23.7v0.8h-23.7zM602.8 939h23.7v0.6h-23.7z"/>
<path fill="#548a18" d="M85.3 700.5h23.8v1.1h-23.8zM85.3 769.2h23.8v1.5h-23.8zM85.3 795.6h23.8v1.5h-23.8zM132.8 760.6h23.8v1h-23.8zM156.6 809.1h23.8v1h-23.8zM156.6 817.6h23.8v1.5h-23.8zM156.6 841.1h23.8v0.9h-23.8zM132.8 861.6h23.8v1h-23.8zM156.6 861.6h23.8v1h-23.8zM132.8 955.7h23.8v0.3h-23.8zM204.1 678.5h23.8v1.2h-23.8zM204.1 819.7h23.8v1.5h-23.8zM180.3 856.2h23.8v0.5h-23.8zM251.6 661.2h23.8v1.2h-23.8zM227.8 695h23.8v0.3h-23.8zM251.6 695h23.8v0.3h-23.8zM227.8 782.2h23.8v1h-23.8zM251.6 842.9h23.8v0.8h-23.8zM251.6 893.1h23.8v0.3h-23.8zM251.6 948.7h23.8v0.8h-23.8zM436.7 869.6h23.7v1.2h-23.7zM460.4 909.5h23.7v1h-23.7zM484.1 736.8h23.7v1h-23.7zM507.9 736.8h23.7v1h-23.7zM507.9 754.9h23.7v0.1h-23.7zM507.9 762.8h23.7v1.2h-23.7zM507.9 846.6h23.7v1h-23.7zM484.1 908.2h23.7v1h-23.7zM484.1 940.3h23.7v1.2h-23.7zM555.3 690.1h23.7v1h-23.7zM555.3 709h23.7v1h-23.7zM555.3 827h23.7v0.8h-23.7zM531.6 828.6h23.7v1h-23.7zM531.6 857h23.7v1.5h-23.7zM579 710h23.7v1.5h-23.7zM579 738.4h23.7v1h-23.7zM579 933h23.7v1h-23.7zM602.8 940.8h23.7v1.2h-23.7z"/>
<path fill="#5a9018" d="M109 700.5h23.8v1.1h-23.8zM132.8 785h23.8v0.8h-23.8zM204.1 730.5h23.8v0.7h-23.8zM180.3 785.3h23.8v0.5h-23.8zM180.3 797.2h23.8v1h-23.8zM204.1 806h23.8v1h-23.8zM460.4 645.6h23.7v1h-23.7zM484.1 767.5h23.7v0.1h-23.7zM555.3 688.6h23.7v1.5h-23.7z"/>
<path fill="#369c18" d="M85.3 707.6h23.8v1h-23.8zM109 809.1h23.8v1h-23.8zM85.3 879h23.8v0.8h-23.8zM132.8 705.8h23.8v1h-23.8zM132.8 934.7h23.8v1h-23.8zM227.8 667h23.8v1.2h-23.8zM227.8 747.8h23.8v1.5h-23.8zM227.8 763.5h23.8v0.6h-23.8zM251.6 817.4h23.8v0.8h-23.8zM251.6 831.4h23.8v0.1h-23.8zM436.7 784.1h23.7v0.8h-23.7zM460.4 784.1h23.7v0.8h-23.7zM460.4 841.6h23.7v0.4h-23.7zM436.7 910.5h23.7v1.5h-23.7zM436.7 929.9h23.7v0.8h-23.7zM484.1 659.4h23.7v0.2h-23.7zM555.3 655.4h23.7v1h-23.7zM531.6 840h23.7v1.2h-23.7zM602.8 872.3h23.7v1h-23.7zM579 873.3h23.7v0.8h-23.7z"/>
<path fill="#243c06" d="M109 712.1h23.8v1h-23.8zM109 771.1h23.8v1h-23.8zM85.3 837.2h23.8v0.6h-23.8zM109 928.4h23.8v1.2h-23.8zM156.6 686.9h23.8v0.8h-23.8zM132.8 852.5h23.8v1h-23.8zM132.8 886.7h23.8v1h-23.8zM156.6 886.7h23.8v1h-23.8zM132.8 911.3h23.8v0.3h-23.8zM227.8 658.5h23.8v1.1h-23.8zM227.8 728.7h23.8v1h-23.8zM251.6 730.9h23.8v0.3h-23.8zM227.8 866.7h23.8v1h-23.8zM555.3 915.4h23.7v1.2h-23.7z"/>
<path fill="#2a720c" d="M85.3 713.1h23.8v1h-23.8zM109 713.1h23.8v1h-23.8zM85.3 747.4h23.8v1h-23.8zM109 747.4h23.8v1h-23.8zM109 760.6h23.8v1.5h-23.8zM109 770.7h23.8v0.4h-23.8zM109 786.8h23.8v0.8h-23.8zM85.3 811.1h23.8v0.8h-23.8zM109 811.1h23.8v0.8h-23.8zM85.3 844.2h23.8v0.6h-23.8zM85.3 868.4h23.8v1.2h-23.8zM85.3 879.8h23.8v0.2h-23.8zM85.3 890.3h23.8v1.5h-23.8zM109 910.1h23.8v1h-23.8zM156.6 684.2h23.8v0.6h-23.8zM132.8 706.8h23.8v1.2h-23.8zM132.8 730.8h23.8v0.4h-23.8zM156.6 730.8h23.8v0.4h-23.8zM156.6 903.9h23.8v1h-23.8zM132.8 914.4h23.8v1h-23.8zM156.6 914.4h23.8v1h-23.8zM156.6 916.5h23.8v1.5h-23.8zM132.8 919h23.8v0.8h-23.8zM156.6 931.9h23.8v1.2h-23.8zM204.1 696.3h23.8v1.1h-23.8zM180.3 817.4h23.8v1.5h-23.8zM180.3 818.9h23.8v0.8h-23.8zM180.3 825.9h23.8v1h-23.8zM204.1 825.9h23.8v1h-23.8zM180.3 826.9h23.8v1.5h-23.8zM204.1 848.2h23.8v1h-23.8zM204.1 872.7h23.8v1h-23.8zM180.3 878h23.8v1.2h-23.8zM180.3 879.2h23.8v0.8h-23.8zM227.8 679.7h23.8v1h-23.8zM227.8 682h23.8v0.8h-23.8zM251.6 746.6h23.8v1.2h-23.8zM251.6 780.2h23.8v1h-23.8zM227.8 826.9h23.8v1h-23.8zM227.8 870h23.8v1h-23.8zM251.6 870h23.8v1h-23.8zM251.6 893.4h23.8v1.5h-23.8zM460.4 649.1h23.7v0.7h-23.7zM460.4 753.7h23.7v1.2h-23.7zM436.7 760.8h23.7v1.2h-23.7zM460.4 760.8h23.7v1.2h-23.7zM436.7 814.4h23.7v1.2h-23.7zM460.4 818.1h23.7v0.1h-23.7zM436.7 894.2h23.7v1.5h-23.7zM436.7 917.5h23.7v0.8h-23.7zM460.4 917.5h23.7v0.8h-23.7zM436.7 940.3h23.7v1.5h-23.7zM460.4 940.3h23.7v1.5h-23.7zM436.7 941.8h23.7v1h-23.7zM460.4 941.8h23.7v1h-23.7zM484.1 706.6h23.7v1h-23.7zM507.9 706.6h23.7v1h-23.7zM507.9 877.1h23.7v0.9h-23.7zM484.1 879.2h23.7v0.8h-23.7zM507.9 879.2h23.7v0.8h-23.7zM507.9 911.3h23.7v1.2h-23.7zM555.3 720.8h23.7v1h-23.7zM531.6 777h23.7v0.4h-23.7zM555.3 777h23.7v0.4h-23.7zM555.3 815.1h23.7v0.8h-23.7zM531.6 879h23.7v0.8h-23.7zM531.6 898.8h23.7v0.8h-23.7zM579 744.2h23.7v1h-23.7zM602.8 746.4h23.7v0.2h-23.7zM602.8 764.6h23.7v1h-23.7zM602.8 912.2h23.7v0.8h-23.7zM579 938h23.7v1h-23.7zM602.8 938h23.7v1h-23.7z"/>
<path fill="#1e5a06" d="M85.3 714.1h23.8v0.1h-23.8zM109 714.1h23.8v0.1h-23.8zM109 736h23.8v1.2h-23.8zM109 749.9h23.8v0.8h-23.8zM85.3 754.3h23.8v1.2h-23.8zM85.3 762.1h23.8v1.3h-23.8zM109 790.4h23.8v1h-23.8zM85.3 836h23.8v1.2h-23.8zM109 836h23.8v1.2h-23.8zM85.3 894.8h23.8v1.5h-23.8zM109 929.6h23.8v1.5h-23.8zM85.3 931.1h23.8v0.8h-23.8zM109 931.1h23.8v0.8h-23.8zM132.8 663.8h23.8v1h-23.8zM132.8 713.1h23.8v1h-23.8zM156.6 713.1h23.8v1h-23.8zM132.8 714.1h23.8v0.1h-23.8zM156.6 714.1h23.8v0.1h-23.8zM132.8 785.8h23.8v1h-23.8zM132.8 835h23.8v1h-23.8zM132.8 836h23.8v1.5h-23.8zM132.8 837.5h23.8v0.3h-23.8zM156.6 837.5h23.8v0.3h-23.8zM156.6 855h23.8v1h-23.8zM132.8 856h23.8v0.7h-23.8zM180.3 695.3h23.8v1h-23.8zM204.1 719.5h23.8v0.5h-23.8zM204.1 720h23.8v1.2h-23.8zM180.3 821.2h23.8v1h-23.8zM204.1 821.2h23.8v1h-23.8zM204.1 822.2h23.8v0.9h-23.8zM180.3 870h23.8v1.5h-23.8zM204.1 870h23.8v1.5h-23.8zM204.1 906.8h23.8v1.2h-23.8zM204.1 943.1h23.8v1h-23.8zM227.8 678.5h23.8v1.2h-23.8zM227.8 717.7h23.8v1h-23.8zM251.6 717.7h23.8v1h-23.8zM227.8 718.7h23.8v1h-23.8zM251.6 718.7h23.8v1h-23.8zM227.8 727.7h23.8v1h-23.8zM251.6 727.7h23.8v1h-23.8zM227.8 729.7h23.8v1.2h-23.8zM251.6 868.7h23.8v1h-23.8zM227.8 872.5h23.8v1h-23.8zM227.8 903.2h23.8v0.8h-23.8zM251.6 903.2h23.8v0.8h-23.8zM227.8 906.8h23.8v1.2h-23.8zM227.8 929.8h23.8v0.8h-23.8zM460.4 686.3h23.7v1h-23.7zM460.4 705.8h23.7v1h-23.7zM436.7 706.8h23.7v1.2h-23.7zM436.7 750.9h23.7v0.8h-23.7zM436.7 764.4h23.7v1h-23.7zM436.7 766.9h23.7v0.7h-23.7zM460.4 766.9h23.7v0.7h-23.7zM460.4 812.6h23.7v1h-23.7zM436.7 817.1h23.7v1h-23.7zM436.7 862.3h23.7v1h-23.7zM436.7 870.8h23.7v1h-23.7zM436.7 914h23.7v1.5h-23.7zM436.7 922.8h23.7v0.8h-23.7zM484.1 784.4h23.7v0.8h-23.7zM507.9 815.4h23.7v1h-23.7zM484.1 873.9h23.7v0.3h-23.7zM507.9 885.7h23.7v1.2h-23.7zM507.9 920h23.7v1h-23.7zM484.1 921h23.7v0.8h-23.7zM484.1 922.8h23.7v1.4h-23.7zM507.9 922.8h23.7v1.4h-23.7zM531.6 707.8h23.7v1.2h-23.7zM531.6 760.2h23.7v1.5h-23.7zM555.3 773.9h23.7v1.5h-23.7zM531.6 813.6h23.7v1.5h-23.7zM555.3 813.6h23.7v1.5h-23.7zM531.6 870h23.7v1h-23.7zM579 735.2h23.7v0.9h-23.7zM579 806h23.7v0.3h-23.7zM602.8 806h23.7v0.3h-23.7zM579 877h23.7v0.8h-23.7zM579 877.8h23.7v0.2h-23.7zM579 878h23.7v1h-23.7zM579 888.2h23.7v0.3h-23.7zM579 939.6h23.7v1.2h-23.7zM602.8 939.6h23.7v1.2h-23.7z"/>
<path fill="#843006" d="M85.3 714.2h23.8v1.2h-23.8zM227.8 823.1h23.8v1h-23.8zM460.4 720h23.7v1h-23.7zM484.1 880h23.7v1.2h-23.7zM507.9 880h23.7v1.2h-23.7zM484.1 950.3h23.7v1.2h-23.7zM531.6 661.7h23.7v1.5h-23.7zM555.3 667.8h23.7v0.2h-23.7zM579 715h23.7v1.5h-23.7z"/>
<path fill="#8a3006" d="M109 714.2h23.8v1.2h-23.8zM109 741.8h23.8v1.5h-23.8zM109 792.4h23.8v1h-23.8zM85.3 858.3h23.8v1.2h-23.8zM109 858.3h23.8v1.2h-23.8zM109 859.5h23.8v1.2h-23.8zM85.3 860.7h23.8v0.9h-23.8zM85.3 880h23.8v1h-23.8zM109 880h23.8v1h-23.8zM85.3 943.1h23.8v1h-23.8zM132.8 684.8h23.8v1h-23.8zM156.6 684.8h23.8v1h-23.8zM180.3 885.1h23.8v1h-23.8zM204.1 885.1h23.8v1h-23.8zM204.1 887.1h23.8v1h-23.8zM251.6 644.9h23.8v0.4h-23.8zM227.8 646.8h23.8v1h-23.8zM251.6 646.8h23.8v1h-23.8zM227.8 839.5h23.8v1.1h-23.8zM227.8 857.7h23.8v1.2h-23.8zM251.6 860.9h23.8v0.7h-23.8zM227.8 942.3h23.8v1h-23.8zM227.8 952.3h23.8v1h-23.8zM436.7 674.3h23.7v1h-23.7zM460.4 675.3h23.7v1h-23.7zM460.4 691.6h23.7v0.9h-23.7zM436.7 698.2h23.7v0.8h-23.7zM436.7 717h23.7v1h-23.7zM436.7 718h23.7v1h-23.7zM460.4 718h23.7v1h-23.7zM436.7 719h23.7v1h-23.7zM436.7 722h23.7v0.8h-23.7zM484.1 757h23.7v0.8h-23.7zM484.1 787.3h23.7v1h-23.7zM484.1 808.4h23.7v1h-23.7zM484.1 882.2h23.7v1.5h-23.7zM555.3 661.7h23.7v1.5h-23.7zM531.6 697h23.7v1.2h-23.7zM531.6 729.4h23.7v1h-23.7zM555.3 799.3h23.7v0.7h-23.7zM555.3 808.1h23.7v1.2h-23.7zM531.6 848.3h23.7v1.5h-23.7zM555.3 874.2h23.7v1h-23.7zM531.6 945.8h23.7v1h-23.7zM602.8 640h23.7v1h-23.7zM579 667.9h23.7v0.1h-23.7zM579 692.5h23.7v1.2h-23.7zM602.8 715h23.7v1.5h-23.7zM602.8 769.9h23.7v0.5h-23.7zM579 806.3h23.7v1.5h-23.7zM579 836.4h23.7v1h-23.7z"/>
<path fill="#2a4806" d="M109 716.3h23.8v1.5h-23.8zM109 837.2h23.8v0.6h-23.8zM436.7 763.2h23.7v1.2h-23.7zM555.3 692.5h23.7v1h-23.7zM579 848h23.7v0.3h-23.7z"/>
<path fill="#ae2a06" d="M85.3 721.2h23.8v0.8h-23.8zM85.3 731.2h23.8v1.5h-23.8zM109 732.7h23.8v0.6h-23.8zM109 739.6h23.8v1.2h-23.8zM85.3 743.3h23.8v1.2h-23.8zM109 743.3h23.8v1.2h-23.8zM109 850.9h23.8v1h-23.8zM109 881h23.8v1h-23.8zM85.3 882h23.8v1h-23.8zM85.3 941.6h23.8v1.5h-23.8zM109 941.6h23.8v1.5h-23.8zM132.8 645h23.8v1h-23.8zM156.6 645h23.8v1h-23.8zM156.6 714.2h23.8v1h-23.8zM156.6 744.4h23.8v0.1h-23.8zM156.6 751.5h23.8v1.5h-23.8zM156.6 856.7h23.8v1.5h-23.8zM132.8 861.5h23.8v0.1h-23.8zM156.6 883h23.8v1.5h-23.8zM132.8 911.6h23.8v1.5h-23.8zM156.6 940.8h23.8v1h-23.8zM156.6 941.8h23.8v1.2h-23.8zM132.8 943h23.8v1h-23.8zM156.6 944h23.8v1.2h-23.8zM204.1 646.8h23.8v1h-23.8zM180.3 714.9h23.8v1h-23.8zM204.1 733.4h23.8v0.6h-23.8zM180.3 825.8h23.8v0.1h-23.8zM180.3 856.7h23.8v1.5h-23.8zM180.3 861.2h23.8v0.4h-23.8zM180.3 931.6h23.8v1.2h-23.8zM251.6 642.4h23.8v1.5h-23.8zM251.6 686.2h23.8v1h-23.8zM227.8 687.2h23.8v1.1h-23.8zM251.6 687.2h23.8v1.1h-23.8zM227.8 697.4h23.8v0.8h-23.8zM251.6 702.3h23.8v1.2h-23.8zM251.6 717.1h23.8v0.6h-23.8zM251.6 725h23.8v1.2h-23.8zM251.6 792h23.8v1.2h-23.8zM227.8 825.3h23.8v0.6h-23.8zM251.6 881h23.8v0.8h-23.8zM251.6 881.8h23.8v1h-23.8zM227.8 940.3h23.8v1h-23.8zM251.6 940.3h23.8v1h-23.8zM436.7 653.3h23.7v1.2h-23.7zM460.4 653.3h23.7v1.2h-23.7zM460.4 697.4h23.7v0.8h-23.7zM460.4 708h23.7v1.2h-23.7zM460.4 735h23.7v1h-23.7zM460.4 767.6h23.7v1.2h-23.7zM460.4 805.6h23.7v1.2h-23.7zM436.7 807.6h23.7v0.8h-23.7zM436.7 866.8h23.7v1h-23.7zM460.4 875.7h23.7v0.6h-23.7zM460.4 891.9h23.7v0.1h-23.7zM484.1 654.3h23.7v1.1h-23.7zM484.1 692.5h23.7v1.5h-23.7zM507.9 770.1h23.7v0.3h-23.7zM484.1 805.6h23.7v1h-23.7zM507.9 805.6h23.7v1h-23.7zM484.1 806.6h23.7v1h-23.7zM507.9 899h23.7v1h-23.7zM507.9 901.8h23.7v1h-23.7zM531.6 649.8h23.7v1h-23.7zM555.3 681.2h23.7v0.8h-23.7zM555.3 700.4h23.7v0.8h-23.7zM555.3 701.2h23.7v0.4h-23.7zM555.3 767.2h23.7v1h-23.7zM555.3 769.7h23.7v0.7h-23.7zM555.3 786.4h23.7v1.5h-23.7zM531.6 800h23.7v1h-23.7zM555.3 806.3h23.7v1h-23.7zM531.6 811.1h23.7v0.8h-23.7zM555.3 811.1h23.7v0.8h-23.7zM531.6 836.4h23.7v1h-23.7zM531.6 892h23.7v0.8h-23.7zM531.6 903.3h23.7v1.5h-23.7zM531.6 925.4h23.7v0.8h-23.7zM555.3 943.8h23.7v1h-23.7zM531.6 948.8h23.7v0.8h-23.7zM531.6 949.6h23.7v1h-23.7zM602.8 641h23.7v1.2h-23.7zM579 645.6h23.7v0.8h-23.7zM602.8 645.6h23.7v0.8h-23.7zM579 724.5h23.7v1h-23.7zM602.8 725.5h23.7v1h-23.7zM602.8 768.9h23.7v1h-23.7zM579 779.2h23.7v1.2h-23.7zM602.8 785.3h23.7v0.8h-23.7zM602.8 796.2h23.7v1h-23.7zM602.8 799.9h23.7v0.1h-23.7zM602.8 800h23.7v0.8h-23.7zM602.8 808.8h23.7v0.8h-23.7zM579 818.4h23.7v1.5h-23.7zM579 864h23.7v1.2h-23.7zM602.8 904.5h23.7v0.8h-23.7zM602.8 953.5h23.7v1h-23.7z"/>
<path fill="#a2480c" d="M85.3 722h23.8v1h-23.8zM109 722h23.8v1h-23.8zM109 723h23.8v1h-23.8zM109 726.5h23.8v0.5h-23.8zM85.3 810.1h23.8v1h-23.8zM109 830.1h23.8v1.2h-23.8zM85.3 834.3h23.8v0.7h-23.8zM109 948.8h23.8v1h-23.8zM132.8 657.5h23.8v1h-23.8zM156.6 860.5h23.8v1h-23.8zM204.1 725.3h23.8v1.2h-23.8zM180.3 726.5h23.8v1.2h-23.8zM204.1 804h23.8v1h-23.8zM227.8 711.5h23.8v0.6h-23.8zM227.8 882.8h23.8v0.8h-23.8zM251.6 882.8h23.8v0.8h-23.8zM227.8 928.4h23.8v1h-23.8zM436.7 729.2h23.7v1.2h-23.7zM460.4 859.6h23.7v1.5h-23.7zM436.7 885h23.7v0.7h-23.7zM460.4 885h23.7v0.7h-23.7zM460.4 947.3h23.7v1.2h-23.7zM460.4 951.1h23.7v0.8h-23.7zM484.1 663.9h23.7v1h-23.7zM484.1 674.9h23.7v1h-23.7zM484.1 694h23.7v1h-23.7zM507.9 792.1h23.7v0.7h-23.7zM484.1 802h23.7v1h-23.7zM484.1 849h23.7v1.5h-23.7zM531.6 677.1h23.7v1h-23.7zM555.3 698.2h23.7v1.2h-23.7zM531.6 868.1h23.7v1.2h-23.7zM531.6 880h23.7v1h-23.7zM531.6 883.5h23.7v1.2h-23.7zM531.6 923.9h23.7v1.5h-23.7zM579 662.7h23.7v1.2h-23.7zM579 687.6h23.7v1h-23.7zM579 802.8h23.7v0.7h-23.7zM602.8 880h23.7v1.5h-23.7z"/>
<path fill="#96480c" d="M109 724h23.8v1.5h-23.8zM156.6 640h23.8v0.8h-23.8zM156.6 816.8h23.8v0.8h-23.8zM156.6 834.6h23.8v0.4h-23.8zM251.6 913h23.8v1h-23.8zM507.9 730h23.7v0.8h-23.7zM507.9 800.8h23.7v1.2h-23.7zM555.3 678.1h23.7v0.4h-23.7zM531.6 698.2h23.7v1.2h-23.7zM602.8 955.7h23.7v0.3h-23.7z"/>
<path fill="#9c480c" d="M85.3 726.5h23.8v0.5h-23.8zM109 810.1h23.8v1h-23.8zM85.3 926.7h23.8v0.8h-23.8zM132.8 640h23.8v0.8h-23.8zM132.8 821.8h23.8v1.5h-23.8zM132.8 830.1h23.8v1.2h-23.8zM156.6 831.3h23.8v1.5h-23.8zM156.6 833.8h23.8v0.8h-23.8zM156.6 859h23.8v1.5h-23.8zM132.8 869.8h23.8v0.2h-23.8zM180.3 645h23.8v0.3h-23.8zM180.3 725.3h23.8v1.2h-23.8zM204.1 726.5h23.8v1.2h-23.8zM204.1 758.5h23.8v1.2h-23.8zM180.3 759.7h23.8v0.8h-23.8zM204.1 858.2h23.8v1.5h-23.8zM180.3 880h23.8v0.8h-23.8zM204.1 883.8h23.8v0.5h-23.8zM204.1 910.2h23.8v1.5h-23.8zM204.1 911.7h23.8v1.2h-23.8zM204.1 921.4h23.8v1h-23.8zM180.3 925.1h23.8v1.2h-23.8zM204.1 925.1h23.8v1.2h-23.8zM180.3 927.8h23.8v1h-23.8zM251.6 711.5h23.8v0.6h-23.8zM227.8 913h23.8v1h-23.8zM227.8 921.4h23.8v1.2h-23.8zM251.6 921.4h23.8v1.2h-23.8zM436.7 662.4h23.7v0.8h-23.7zM460.4 815.6h23.7v1.5h-23.7zM436.7 859.6h23.7v1.5h-23.7zM460.4 865.8h23.7v1h-23.7zM436.7 880h23.7v1h-23.7zM436.7 881h23.7v1h-23.7zM460.4 881h23.7v1h-23.7zM460.4 884h23.7v1h-23.7zM436.7 947.3h23.7v1.2h-23.7zM460.4 950.3h23.7v0.8h-23.7zM436.7 951.9h23.7v0.3h-23.7zM484.1 671.5h23.7v1h-23.7zM507.9 671.5h23.7v1h-23.7zM507.9 674.9h23.7v1h-23.7zM507.9 694h23.7v1h-23.7zM484.1 696.6h23.7v0.8h-23.7zM507.9 715.7h23.7v1.3h-23.7zM484.1 730h23.7v0.8h-23.7zM484.1 800h23.7v0.8h-23.7zM484.1 800.8h23.7v1.2h-23.7zM484.1 803h23.7v0.5h-23.7zM484.1 826.8h23.7v1.5h-23.7zM484.1 858.8h23.7v1h-23.7zM507.9 859.8h23.7v1.2h-23.7zM484.1 952.2h23.7v0.8h-23.7zM507.9 953h23.7v0.8h-23.7zM531.6 678.1h23.7v0.4h-23.7zM531.6 791.4h23.7v1h-23.7zM531.6 809.3h23.7v0.8h-23.7zM555.3 867.3h23.7v0.8h-23.7zM555.3 868.1h23.7v1.2h-23.7zM555.3 880h23.7v1h-23.7zM555.3 881h23.7v1.5h-23.7zM531.6 884.7h23.7v1h-23.7zM531.6 892.8h23.7v1h-23.7zM555.3 923.9h23.7v1.5h-23.7zM579 644.6h23.7v1h-23.7zM602.8 662.7h23.7v1.2h-23.7zM602.8 673.6h23.7v0.8h-23.7zM579 678h23.7v0.5h-23.7zM579 727.5h23.7v1.2h-23.7zM602.8 800.8h23.7v1.2h-23.7zM602.8 802.8h23.7v0.7h-23.7zM602.8 837.4h23.7v1h-23.7zM602.8 865.8h23.7v0.8h-23.7zM579 868.4h23.7v1h-23.7zM602.8 868.4h23.7v1h-23.7zM602.8 869.4h23.7v0.6h-23.7zM602.8 875.2h23.7v0.8h-23.7zM579 880h23.7v1.5h-23.7zM579 884.8h23.7v0.9h-23.7zM602.8 884.8h23.7v0.9h-23.7zM602.8 921.4h23.7v0.8h-23.7z"/>
<path fill="#3c8412" d="M109 727h23.8v1.5h-23.8zM85.3 734.8h23.8v1.2h-23.8zM204.1 649h23.8v1.5h-23.8zM204.1 873.7h23.8v0.5h-23.8zM180.3 893.4h23.8v1.5h-23.8zM204.1 893.4h23.8v1.5h-23.8zM227.8 783.2h23.8v1h-23.8zM251.6 820.5h23.8v1.2h-23.8zM227.8 830.2h23.8v1.2h-23.8zM227.8 945.2h23.8v1.5h-23.8zM460.4 792.3h23.7v0.5h-23.7zM460.4 878h23.7v0.8h-23.7zM460.4 889.1h23.7v0.1h-23.7zM484.1 651.4h23.7v1.5h-23.7zM507.9 876.3h23.7v0.8h-23.7zM507.9 921.8h23.7v1h-23.7zM555.3 792.4h23.7v0.4h-23.7zM555.3 812.6h23.7v1h-23.7zM531.6 841.2h23.7v0.8h-23.7zM555.3 871.8h23.7v1.5h-23.7zM555.3 901.8h23.7v1.5h-23.7zM602.8 752.2h23.7v1h-23.7zM579 763.6h23.7v1h-23.7zM579 927h23.7v1h-23.7z"/>
<path fill="#3c9612" d="M109 730.7h23.8v0.5h-23.8zM85.3 756.4h23.8v1.2h-23.8zM109 785.8h23.8v1h-23.8zM109 842h23.8v1.2h-23.8zM109 888.5h23.8v0.8h-23.8zM156.6 699.5h23.8v1.5h-23.8zM156.6 757.2h23.8v0.8h-23.8zM132.8 849h23.8v0.7h-23.8zM204.1 761.3h23.8v1h-23.8zM204.1 811.7h23.8v0.8h-23.8zM180.3 853.2h23.8v1h-23.8zM204.1 854.2h23.8v0.8h-23.8zM204.1 937.3h23.8v1.5h-23.8zM227.8 648h23.8v1h-23.8zM227.8 840.6h23.8v0.8h-23.8zM251.6 840.6h23.8v0.8h-23.8zM227.8 896.4h23.8v0.8h-23.8zM460.4 648.1h23.7v1h-23.7zM460.4 752.5h23.7v1.2h-23.7zM436.7 847.3h23.7v1h-23.7zM436.7 868.6h23.7v1h-23.7zM436.7 886.7h23.7v1.2h-23.7zM460.4 952.2h23.7v1h-23.7zM484.1 816.4h23.7v1h-23.7zM507.9 824.5h23.7v0.8h-23.7zM507.9 944.8h23.7v1h-23.7zM531.6 712.7h23.7v1h-23.7zM579 791.9h23.7v0.9h-23.7zM602.8 874.1h23.7v0.1h-23.7z"/>
<path fill="#9c2406" d="M85.3 732.7h23.8v0.6h-23.8zM85.3 739.6h23.8v1.2h-23.8zM85.3 791.4h23.8v1h-23.8zM109 791.4h23.8v1h-23.8zM109 795.4h23.8v0.2h-23.8zM109 856.7h23.8v0.8h-23.8zM109 857.5h23.8v0.8h-23.8zM109 869.6h23.8v0.4h-23.8zM85.3 881h23.8v1h-23.8zM109 940.4h23.8v1.2h-23.8zM132.8 659.3h23.8v0.3h-23.8zM156.6 659.3h23.8v0.3h-23.8zM156.6 806.3h23.8v1.5h-23.8zM132.8 856.7h23.8v1.5h-23.8zM156.6 861.5h23.8v0.1h-23.8zM132.8 883h23.8v1.5h-23.8zM132.8 898.6h23.8v1.5h-23.8zM156.6 926h23.8v1.5h-23.8zM132.8 941.8h23.8v1.2h-23.8zM156.6 943h23.8v1h-23.8zM180.3 646.8h23.8v1h-23.8zM204.1 647.8h23.8v0.2h-23.8zM180.3 716.9h23.8v0.8h-23.8zM204.1 805h23.8v1h-23.8zM204.1 856.7h23.8v1.5h-23.8zM180.3 876.9h23.8v1.1h-23.8zM204.1 882.3h23.8v1.5h-23.8zM251.6 663h23.8v1h-23.8zM227.8 686.2h23.8v1h-23.8zM251.6 697.4h23.8v0.8h-23.8zM227.8 714.9h23.8v1h-23.8zM227.8 764.1h23.8v0.8h-23.8zM227.8 786.8h23.8v1.2h-23.8zM227.8 790h23.8v1h-23.8zM227.8 793.2h23.8v0.8h-23.8zM251.6 806.5h23.8v1h-23.8zM227.8 836.4h23.8v0.8h-23.8zM251.6 837.2h23.8v1.5h-23.8zM251.6 858.9h23.8v1h-23.8zM227.8 881.8h23.8v1h-23.8zM251.6 929.4h23.8v0.4h-23.8zM436.7 716h23.7v1h-23.7zM460.4 716h23.7v1h-23.7zM460.4 768.8h23.7v1h-23.7zM436.7 769.8h23.7v0.6h-23.7zM460.4 807.6h23.7v0.8h-23.7zM436.7 849h23.7v1.2h-23.7zM436.7 874.2h23.7v1.5h-23.7zM436.7 875.7h23.7v0.6h-23.7zM507.9 653.3h23.7v1h-23.7zM507.9 701.1h23.7v1h-23.7zM484.1 717h23.7v1.5h-23.7zM484.1 807.6h23.7v0.8h-23.7zM507.9 862.3h23.7v1h-23.7zM484.1 881.2h23.7v1h-23.7zM507.9 883.7h23.7v1.2h-23.7zM484.1 884.9h23.7v0.8h-23.7zM484.1 901.2h23.7v0.6h-23.7zM484.1 949.5h23.7v0.8h-23.7zM507.9 955h23.7v0.8h-23.7zM555.3 727.9h23.7v1.5h-23.7zM531.6 767.2h23.7v1h-23.7zM555.3 823.4h23.7v1.2h-23.7zM555.3 892h23.7v0.8h-23.7zM555.3 903.3h23.7v1.5h-23.7zM555.3 922.4h23.7v1.5h-23.7zM531.6 946.8h23.7v1h-23.7zM602.8 696h23.7v1.5h-23.7zM579 728.7h23.7v1.5h-23.7zM579 755.9h23.7v0.5h-23.7zM602.8 766.2h23.7v1.2h-23.7zM579 797.2h23.7v1.5h-23.7zM602.8 798.7h23.7v1.2h-23.7zM579 799.9h23.7v0.1h-23.7zM579 809.6h23.7v1h-23.7zM602.8 818.4h23.7v1.5h-23.7zM579 830.7h23.7v0.1h-23.7zM602.8 864h23.7v1.2h-23.7zM602.8 901.8h23.7v1.2h-23.7zM579 903h23.7v1.5h-23.7zM602.8 916.9h23.7v1.2h-23.7zM602.8 952.5h23.7v1h-23.7z"/>
<path fill="#60540c" d="M85.3 738.7h23.8v0.9h-23.8zM109 874.6h23.8v1h-23.8zM156.6 726.9h23.8v0.1h-23.8zM156.6 753h23.8v1h-23.8zM132.8 902.6h23.8v1h-23.8zM204.1 693.2h23.8v1.5h-23.8zM204.1 758.4h23.8v0.1h-23.8zM227.8 692.1h23.8v1h-23.8zM227.8 772.1h23.8v1h-23.8zM251.6 810.4h23.8v1.2h-23.8zM436.7 755h23.7v1h-23.7zM436.7 802.6h23.7v0.9h-23.7zM507.9 686h23.7v1.5h-23.7zM484.1 913h23.7v0.8h-23.7zM602.8 704.2h23.7v1h-23.7zM579 705.2h23.7v0.6h-23.7zM602.8 852.5h23.7v1.5h-23.7zM602.8 857.8h23.7v0.8h-23.7z"/>
<path fill="#903006" d="M85.3 741.8h23.8v1.5h-23.8zM85.3 792.4h23.8v1h-23.8zM109 860.7h23.8v0.9h-23.8zM85.3 925.2h23.8v1.5h-23.8zM109 943.1h23.8v1h-23.8zM132.8 647.2h23.8v0.8h-23.8zM156.6 647.2h23.8v0.8h-23.8zM132.8 800h23.8v1h-23.8zM132.8 801h23.8v0.8h-23.8zM132.8 927.5h23.8v0.9h-23.8zM180.3 704.7h23.8v0.4h-23.8zM204.1 704.7h23.8v0.4h-23.8zM204.1 859.7h23.8v1.5h-23.8zM180.3 887.1h23.8v1h-23.8zM204.1 899.1h23.8v1.5h-23.8zM251.6 733.2h23.8v0.8h-23.8zM251.6 823.1h23.8v1h-23.8zM227.8 824.1h23.8v1.2h-23.8zM251.6 824.1h23.8v1.2h-23.8zM251.6 857.7h23.8v1.2h-23.8zM251.6 880h23.8v1h-23.8zM251.6 942.3h23.8v1h-23.8zM460.4 674.3h23.7v1h-23.7zM460.4 698.2h23.7v0.8h-23.7zM460.4 717h23.7v1h-23.7zM436.7 720h23.7v1h-23.7zM460.4 722h23.7v0.8h-23.7zM436.7 806.8h23.7v0.8h-23.7zM460.4 851h23.7v0.8h-23.7zM484.1 690.3h23.7v0.8h-23.7zM507.9 690.3h23.7v0.8h-23.7zM484.1 746.6h23.7v1.2h-23.7zM507.9 757h23.7v0.8h-23.7zM484.1 785.8h23.7v1.5h-23.7zM507.9 785.8h23.7v1.5h-23.7zM507.9 808.4h23.7v1h-23.7zM507.9 882.2h23.7v1.5h-23.7zM507.9 950.3h23.7v1.2h-23.7zM531.6 725.7h23.7v1h-23.7zM531.6 799.3h23.7v0.7h-23.7zM555.3 947.8h23.7v1h-23.7zM531.6 950.6h23.7v0.8h-23.7zM579 640h23.7v1h-23.7zM602.8 664.5h23.7v0.8h-23.7zM602.8 667.9h23.7v0.1h-23.7zM602.8 692.5h23.7v1.2h-23.7zM579 769.9h23.7v0.5h-23.7zM602.8 792.8h23.7v1h-23.7z"/>
<path fill="#4e7e18" d="M85.3 746.6h23.8v0.8h-23.8zM109 798.6h23.8v1.4h-23.8zM132.8 710h23.8v1h-23.8zM156.6 710h23.8v1h-23.8zM156.6 785h23.8v0.8h-23.8zM156.6 844.8h23.8v1.5h-23.8zM132.8 921.5h23.8v0.8h-23.8zM132.8 952.2h23.8v0.8h-23.8zM180.3 660.4h23.8v1.2h-23.8zM180.3 728.7h23.8v0.8h-23.8zM204.1 797.2h23.8v1h-23.8zM204.1 856.2h23.8v0.5h-23.8zM180.3 930.8h23.8v0.8h-23.8zM460.4 754.9h23.7v0.1h-23.7zM436.7 813.6h23.7v0.8h-23.7zM460.4 813.6h23.7v0.8h-23.7zM460.4 848.3h23.7v0.7h-23.7zM436.7 895.7h23.7v1.5h-23.7zM484.1 642h23.7v1.5h-23.7zM484.1 750.9h23.7v1.2h-23.7zM484.1 805h23.7v0.6h-23.7zM507.9 908.2h23.7v1h-23.7zM531.6 642.8h23.7v0.8h-23.7zM555.3 642.8h23.7v0.8h-23.7zM555.3 692.3h23.7v0.2h-23.7zM531.6 709h23.7v1h-23.7zM555.3 730.5h23.7v1.2h-23.7zM555.3 755.7h23.7v0.7h-23.7zM531.6 856h23.7v1h-23.7zM555.3 857h23.7v1.5h-23.7zM555.3 877h23.7v0.8h-23.7zM531.6 888.2h23.7v0.3h-23.7zM555.3 888.2h23.7v0.3h-23.7zM531.6 907.1h23.7v1.2h-23.7zM602.8 753.2h23.7v1.2h-23.7z"/>
<path fill="#548418" d="M109 746.6h23.8v0.8h-23.8zM109 769.2h23.8v1.5h-23.8zM109 795.6h23.8v1.5h-23.8zM156.6 760.6h23.8v1h-23.8zM132.8 763.1h23.8v0.3h-23.8zM156.6 763.1h23.8v0.3h-23.8zM132.8 809.1h23.8v1h-23.8zM132.8 841.1h23.8v0.9h-23.8zM156.6 921.5h23.8v0.8h-23.8zM156.6 952.2h23.8v0.8h-23.8zM156.6 955.7h23.8v0.3h-23.8zM204.1 660.4h23.8v1.2h-23.8zM204.1 728.7h23.8v0.8h-23.8zM204.1 798.2h23.8v1.5h-23.8zM180.3 806h23.8v1h-23.8zM180.3 819.7h23.8v1.5h-23.8zM180.3 909.5h23.8v0.7h-23.8zM204.1 930.8h23.8v0.8h-23.8zM180.3 933.3h23.8v1.2h-23.8zM227.8 661.2h23.8v1.2h-23.8zM251.6 669.4h23.8v0.7h-23.8zM227.8 734h23.8v1h-23.8zM251.6 734h23.8v1h-23.8zM251.6 782.2h23.8v1h-23.8zM227.8 808.3h23.8v0.1h-23.8zM227.8 842.9h23.8v0.8h-23.8zM227.8 893.1h23.8v0.3h-23.8zM227.8 948.7h23.8v0.8h-23.8zM436.7 645.6h23.7v1h-23.7zM436.7 684h23.7v0.8h-23.7zM436.7 737.6h23.7v1.2h-23.7zM436.7 754.9h23.7v0.1h-23.7zM460.4 791.3h23.7v1h-23.7zM436.7 855.3h23.7v1h-23.7zM436.7 872.8h23.7v1.2h-23.7zM460.4 872.8h23.7v1.2h-23.7zM436.7 887.9h23.7v1.2h-23.7zM460.4 887.9h23.7v1.2h-23.7zM460.4 892h23.7v1.2h-23.7zM460.4 895.7h23.7v1.5h-23.7zM507.9 642h23.7v1.5h-23.7zM484.1 683h23.7v0.8h-23.7zM507.9 683h23.7v0.8h-23.7zM484.1 725.3h23.7v1.2h-23.7zM507.9 725.3h23.7v1.2h-23.7zM507.9 750.9h23.7v1.2h-23.7zM484.1 754.9h23.7v0.1h-23.7zM484.1 762.8h23.7v1.2h-23.7zM484.1 766.5h23.7v1h-23.7zM507.9 766.5h23.7v1h-23.7zM507.9 767.5h23.7v0.1h-23.7zM507.9 805h23.7v0.6h-23.7zM484.1 846.6h23.7v1h-23.7zM507.9 893.5h23.7v1h-23.7zM484.1 906h23.7v1h-23.7zM507.9 906h23.7v1h-23.7zM531.6 688.6h23.7v1.5h-23.7zM531.6 690.1h23.7v1h-23.7zM531.6 692.3h23.7v0.2h-23.7zM531.6 730.5h23.7v1.2h-23.7zM531.6 805.5h23.7v0.8h-23.7zM555.3 805.5h23.7v0.8h-23.7zM531.6 827h23.7v0.8h-23.7zM555.3 828.6h23.7v1h-23.7zM555.3 847.2h23.7v1h-23.7zM531.6 877h23.7v0.8h-23.7zM602.8 738.4h23.7v1h-23.7zM579 753.2h23.7v1.2h-23.7zM579 940.8h23.7v1.2h-23.7z"/>
<path fill="#2a780c" d="M85.3 760.6h23.8v1.5h-23.8zM85.3 786.8h23.8v0.8h-23.8zM109 879.8h23.8v0.2h-23.8zM132.8 684.2h23.8v0.6h-23.8zM156.6 712.1h23.8v1h-23.8zM132.8 811.3h23.8v1.5h-23.8zM156.6 919h23.8v0.8h-23.8zM180.3 721.2h23.8v0.8h-23.8zM204.1 734.8h23.8v1.5h-23.8zM204.1 812.5h23.8v0.1h-23.8zM204.1 817.4h23.8v1.5h-23.8zM204.1 826.9h23.8v1.5h-23.8zM227.8 665h23.8v0.2h-23.8zM227.8 746.6h23.8v1.2h-23.8zM251.6 826.9h23.8v1h-23.8zM227.8 893.4h23.8v1.5h-23.8zM436.7 646.6h23.7v1.5h-23.7zM460.4 646.6h23.7v1.5h-23.7zM436.7 649.1h23.7v0.7h-23.7zM436.7 790.3h23.7v1h-23.7zM460.4 790.3h23.7v1h-23.7zM460.4 915.5h23.7v1h-23.7zM531.6 877.8h23.7v0.2h-23.7zM555.3 898.8h23.7v0.8h-23.7zM531.6 901.1h23.7v0.7h-23.7zM555.3 901.1h23.7v0.7h-23.7zM602.8 744.2h23.7v1h-23.7z"/>
<path fill="#a2360c" d="M85.3 764.6h23.8v1.2h-23.8zM85.3 793.4h23.8v1h-23.8zM109 793.4h23.8v1h-23.8zM109 944.1h23.8v1h-23.8zM156.6 703.1h23.8v0.6h-23.8zM156.6 823.3h23.8v1h-23.8zM156.6 832.8h23.8v1h-23.8zM132.8 939.6h23.8v1.2h-23.8zM180.3 724.5h23.8v0.8h-23.8zM204.1 724.5h23.8v0.8h-23.8zM180.3 800h23.8v1.5h-23.8zM180.3 824.6h23.8v1.2h-23.8zM227.8 883.6h23.8v0.7h-23.8zM227.8 923.6h23.8v1.2h-23.8zM227.8 927.2h23.8v1.2h-23.8zM436.7 680h23.7v1.5h-23.7zM436.7 700h23.7v1.2h-23.7zM460.4 861.1h23.7v1.2h-23.7zM436.7 867.8h23.7v0.8h-23.7zM460.4 867.8h23.7v0.8h-23.7zM484.1 904.6h23.7v0.8h-23.7zM507.9 951.5h23.7v0.7h-23.7zM531.6 664.4h23.7v0.1h-23.7zM531.6 699.4h23.7v1h-23.7zM555.3 699.4h23.7v1h-23.7zM531.6 810.1h23.7v1h-23.7zM555.3 838.4h23.7v0.8h-23.7zM531.6 876h23.7v0.8h-23.7zM555.3 876h23.7v0.8h-23.7zM579 653.3h23.7v0.8h-23.7zM602.8 675.2h23.7v1h-23.7zM579 676.2h23.7v0.8h-23.7zM602.8 726.5h23.7v1h-23.7zM579 891h23.7v1h-23.7zM602.8 925.5h23.7v1h-23.7z"/>
<path fill="#96300c" d="M109 764.6h23.8v1.2h-23.8zM85.3 927.5h23.8v0.9h-23.8zM85.3 939.6h23.8v0.8h-23.8zM156.6 925h23.8v1h-23.8zM251.6 883.6h23.8v0.7h-23.8zM436.7 664.2h23.7v1h-23.7zM579 726.5h23.7v1h-23.7z"/>
<path fill="#3ca818" d="M85.3 767.2h23.8v1h-23.8zM109 767.2h23.8v1h-23.8zM109 816.8h23.8v1.5h-23.8zM109 843.2h23.8v1h-23.8zM85.3 936.9h23.8v1h-23.8zM132.8 828.9h23.8v0.8h-23.8zM156.6 842h23.8v0.8h-23.8zM132.8 877.6h23.8v0.4h-23.8zM132.8 878h23.8v1.2h-23.8zM132.8 897.5h23.8v0.1h-23.8zM156.6 934.7h23.8v1h-23.8zM132.8 951h23.8v1h-23.8zM156.6 951h23.8v1h-23.8zM204.1 705.1h23.8v1h-23.8zM180.3 706.1h23.8v1.5h-23.8zM204.1 709.1h23.8v0.2h-23.8zM180.3 776h23.8v0.8h-23.8zM180.3 782.6h23.8v1.5h-23.8zM204.1 846.2h23.8v1h-23.8zM251.6 667h23.8v1.2h-23.8zM227.8 707.1h23.8v1.2h-23.8zM251.6 707.1h23.8v1.2h-23.8zM251.6 708.3h23.8v1h-23.8zM251.6 747.8h23.8v1.5h-23.8zM251.6 825.9h23.8v1h-23.8zM227.8 843.7h23.8v1.5h-23.8zM251.6 843.7h23.8v1.5h-23.8zM460.4 712.8h23.7v1.4h-23.7zM436.7 827.2h23.7v1.2h-23.7zM460.4 827.2h23.7v1.2h-23.7zM436.7 897.2h23.7v1h-23.7zM460.4 897.2h23.7v1h-23.7zM460.4 929.9h23.7v0.8h-23.7zM484.1 657.4h23.7v1h-23.7zM484.1 709.8h23.7v0.2h-23.7zM507.9 709.8h23.7v0.2h-23.7zM484.1 790.1h23.7v1.2h-23.7zM531.6 655.4h23.7v1h-23.7zM531.6 705.8h23.7v0.8h-23.7zM531.6 776.2h23.7v0.8h-23.7zM531.6 826.2h23.7v0.8h-23.7zM555.3 826.2h23.7v0.8h-23.7zM531.6 879.8h23.7v0.2h-23.7zM602.8 657.9h23.7v1h-23.7zM579 688.6h23.7v1h-23.7zM602.8 688.6h23.7v1h-23.7zM602.8 814.1h23.7v1.2h-23.7zM602.8 873.3h23.7v0.8h-23.7z"/>
<path fill="#30780c" d="M85.3 770.7h23.8v0.4h-23.8zM109 844.2h23.8v0.6h-23.8zM85.3 910.1h23.8v1h-23.8zM132.8 879.2h23.8v0.8h-23.8zM132.8 931.9h23.8v1.2h-23.8zM204.1 818.9h23.8v0.8h-23.8zM204.1 879.2h23.8v0.8h-23.8zM251.6 682h23.8v0.8h-23.8zM251.6 946.7h23.8v1h-23.8zM436.7 818.1h23.7v0.1h-23.7zM436.7 912h23.7v1h-23.7zM484.1 877.1h23.7v0.9h-23.7zM555.3 738.5h23.7v1.2h-23.7zM555.3 877.8h23.7v0.2h-23.7zM555.3 879h23.7v0.8h-23.7zM579 912.2h23.7v0.8h-23.7zM602.8 930.7h23.7v0.8h-23.7zM579 934h23.7v1h-23.7zM602.8 934h23.7v1h-23.7zM579 939h23.7v0.6h-23.7z"/>
<path fill="#36c018" d="M109 776.5h23.8v1.2h-23.8zM85.3 826.4h23.8v1.5h-23.8zM85.3 873.8h23.8v0.8h-23.8zM109 876.4h23.8v1h-23.8zM109 904.9h23.8v1h-23.8zM109 907.4h23.8v0.7h-23.8zM85.3 937.9h23.8v1h-23.8zM109 950.8h23.8v1h-23.8zM132.8 747.4h23.8v1h-23.8zM156.6 766.2h23.8v1.2h-23.8zM156.6 847.8h23.8v1.2h-23.8zM132.8 874.8h23.8v1h-23.8zM132.8 937.9h23.8v0.8h-23.8zM180.3 684.1h23.8v1h-23.8zM180.3 707.6h23.8v1.5h-23.8zM204.1 842.6h23.8v1.2h-23.8zM180.3 844.8h23.8v1h-23.8zM204.1 865.1h23.8v1h-23.8zM204.1 896.4h23.8v0.8h-23.8zM204.1 903.1h23.8v0.1h-23.8zM204.1 936.3h23.8v1h-23.8zM180.3 949.4h23.8v1h-23.8zM204.1 950.4h23.8v1h-23.8zM227.8 705.1h23.8v1h-23.8zM227.8 720h23.8v1.5h-23.8zM251.6 737.5h23.8v1.2h-23.8zM460.4 658.1h23.7v0.8h-23.7zM436.7 733.2h23.7v0.8h-23.7zM460.4 733.2h23.7v0.8h-23.7zM460.4 743.4h23.7v1h-23.7zM436.7 776.9h23.7v0.5h-23.7zM460.4 776.9h23.7v0.5h-23.7zM460.4 825.7h23.7v1.5h-23.7zM436.7 840.4h23.7v1.2h-23.7zM460.4 928.7h23.7v1.2h-23.7zM484.1 713.2h23.7v1h-23.7zM484.1 733.9h23.7v0.1h-23.7zM507.9 743.4h23.7v1h-23.7zM484.1 744.4h23.7v1.5h-23.7zM507.9 745.9h23.7v0.7h-23.7zM507.9 782.6h23.7v0.8h-23.7zM507.9 839.6h23.7v1h-23.7zM507.9 861.8h23.7v0.5h-23.7zM507.9 928.9h23.7v1.2h-23.7zM507.9 932.6h23.7v0.7h-23.7zM555.3 658.6h23.7v0.4h-23.7zM555.3 711.2h23.7v1.5h-23.7zM531.6 743.2h23.7v1h-23.7zM531.6 744.2h23.7v1.2h-23.7zM555.3 745.4h23.7v1h-23.7zM555.3 941.1h23.7v1h-23.7zM602.8 648.6h23.7v0.8h-23.7zM579 865.2h23.7v0.6h-23.7zM602.8 865.2h23.7v0.6h-23.7z"/>
<path fill="#3cc618" d="M85.3 780.3h23.8v1.5h-23.8zM109 848h23.8v1.2h-23.8zM109 935.7h23.8v1.2h-23.8zM85.3 951.8h23.8v0.4h-23.8zM132.8 677.8h23.8v1.2h-23.8zM132.8 827.9h23.8v1h-23.8zM132.8 952h23.8v0.2h-23.8zM204.1 668.7h23.8v1h-23.8zM180.3 746.6h23.8v1.2h-23.8zM204.1 793.4h23.8v0.8h-23.8zM204.1 949.4h23.8v1h-23.8zM180.3 951.4h23.8v0.1h-23.8zM251.6 684.1h23.8v1h-23.8zM251.6 859.9h23.8v1h-23.8zM436.7 825.7h23.7v1.5h-23.7zM460.4 936.8h23.7v1.2h-23.7zM484.1 711.2h23.7v1.2h-23.7zM507.9 711.2h23.7v1.2h-23.7zM507.9 878h23.7v1.2h-23.7zM531.6 741h23.7v1.2h-23.7zM531.6 931.5h23.7v1h-23.7zM602.8 647.6h23.7v1h-23.7z"/>
<path fill="#185406" d="M85.3 787.6h23.8v1h-23.8zM109 787.6h23.8v1h-23.8zM85.3 790.4h23.8v1h-23.8zM85.3 854.3h23.8v1.5h-23.8zM109 854.3h23.8v1.5h-23.8zM109 894.8h23.8v1.5h-23.8zM85.3 897.3h23.8v0.3h-23.8zM85.3 929.6h23.8v1.5h-23.8zM132.8 659.6h23.8v1h-23.8zM156.6 663.8h23.8v1h-23.8zM132.8 687.7h23.8v1h-23.8zM156.6 687.7h23.8v1h-23.8zM132.8 756.4h23.8v0.8h-23.8zM156.6 756.4h23.8v0.8h-23.8zM132.8 769.4h23.8v1.5h-23.8zM156.6 836h23.8v1.5h-23.8zM204.1 695.3h23.8v1h-23.8zM180.3 780.2h23.8v1.2h-23.8zM204.1 780.2h23.8v1.2h-23.8zM180.3 855h23.8v1.2h-23.8zM204.1 855h23.8v1.2h-23.8zM180.3 943.1h23.8v1h-23.8zM227.8 664h23.8v1h-23.8zM251.6 678.5h23.8v1.2h-23.8zM251.6 681.7h23.8v0.3h-23.8zM251.6 729.7h23.8v1.2h-23.8zM227.8 744.3h23.8v1h-23.8zM251.6 744.3h23.8v1h-23.8zM227.8 751.3h23.8v0.9h-23.8zM251.6 751.3h23.8v0.9h-23.8zM251.6 856.4h23.8v0.3h-23.8zM227.8 873.5h23.8v0.7h-23.8zM251.6 929.8h23.8v0.8h-23.8zM436.7 684.8h23.7v1.5h-23.7zM460.4 684.8h23.7v1.5h-23.7zM436.7 686.3h23.7v1h-23.7zM436.7 705.8h23.7v1h-23.7zM460.4 706.8h23.7v1.2h-23.7zM460.4 750.9h23.7v0.8h-23.7zM460.4 764.4h23.7v1h-23.7zM436.7 765.4h23.7v1.5h-23.7zM436.7 812.6h23.7v1h-23.7zM460.4 817.1h23.7v1h-23.7zM436.7 852.8h23.7v1.5h-23.7zM436.7 854.3h23.7v1h-23.7zM460.4 914h23.7v1.5h-23.7zM436.7 916.5h23.7v1h-23.7zM436.7 921.8h23.7v1h-23.7zM460.4 921.8h23.7v1h-23.7zM460.4 922.8h23.7v0.8h-23.7zM484.1 812.6h23.7v0.8h-23.7zM484.1 885.7h23.7v1.2h-23.7zM484.1 920h23.7v1h-23.7zM507.9 921h23.7v0.8h-23.7zM531.6 645.6h23.7v0.8h-23.7zM555.3 645.6h23.7v0.8h-23.7zM555.3 646.4h23.7v0.8h-23.7zM555.3 649.2h23.7v0.6h-23.7zM555.3 760.2h23.7v1.5h-23.7zM531.6 773.9h23.7v1.5h-23.7zM531.6 846.2h23.7v1h-23.7zM602.8 735.2h23.7v0.9h-23.7zM602.8 736.9h23.7v1.5h-23.7zM602.8 823.2h23.7v1h-23.7zM602.8 877.8h23.7v0.2h-23.7zM602.8 888.2h23.7v0.3h-23.7zM579 897.6h23.7v1.2h-23.7zM602.8 897.6h23.7v1.2h-23.7zM602.8 898.8h23.7v1.5h-23.7zM579 900.3h23.7v1h-23.7z"/>
<path fill="#244806" d="M85.3 789.6h23.8v0.8h-23.8zM132.8 787.6h23.8v1h-23.8zM460.4 851.8h23.7v1h-23.7zM555.3 784.2h23.7v1.2h-23.7z"/>
<path fill="#5a8a18" d="M85.3 798.6h23.8v1.4h-23.8zM132.8 817.6h23.8v1.5h-23.8zM132.8 844.8h23.8v1.5h-23.8zM180.3 678.5h23.8v1.2h-23.8zM204.1 785.3h23.8v0.5h-23.8zM180.3 798.2h23.8v1.5h-23.8zM204.1 909.5h23.8v0.7h-23.8zM204.1 933.3h23.8v1.2h-23.8zM227.8 669.4h23.8v0.7h-23.8zM251.6 808.3h23.8v0.1h-23.8zM460.4 737.6h23.7v1.2h-23.7zM436.7 791.3h23.7v1h-23.7zM460.4 869.6h23.7v1.2h-23.7zM436.7 892h23.7v1.2h-23.7zM436.7 909.5h23.7v1h-23.7zM484.1 888.4h23.7v0.8h-23.7zM507.9 888.4h23.7v0.8h-23.7zM484.1 893.5h23.7v1h-23.7zM484.1 933.3h23.7v0.8h-23.7zM507.9 940.3h23.7v1.2h-23.7zM531.6 755.7h23.7v0.7h-23.7zM555.3 856h23.7v1h-23.7zM555.3 907.1h23.7v1.2h-23.7zM602.8 933h23.7v1h-23.7z"/>
<path fill="#666c12" d="M85.3 801h23.8v1h-23.8zM132.8 662.7h23.8v1h-23.8zM132.8 675.3h23.8v0.8h-23.8zM132.8 722h23.8v1h-23.8zM132.8 737.5h23.8v1h-23.8zM156.6 737.5h23.8v1h-23.8zM156.6 744.5h23.8v1h-23.8zM132.8 796.6h23.8v1.5h-23.8zM156.6 803.6h23.8v1h-23.8zM132.8 888.5h23.8v0.8h-23.8zM156.6 888.5h23.8v0.8h-23.8zM132.8 901.1h23.8v1.5h-23.8zM180.3 679.7h23.8v0.8h-23.8zM180.3 693.1h23.8v0.1h-23.8zM204.1 737.5h23.8v1h-23.8zM180.3 757.2h23.8v1.2h-23.8zM180.3 767.9h23.8v0.4h-23.8zM180.3 807h23.8v1h-23.8zM204.1 851.1h23.8v1.2h-23.8zM180.3 853.1h23.8v0.1h-23.8zM204.1 914.8h23.8v1h-23.8zM251.6 769.3h23.8v0.8h-23.8zM227.8 835.5h23.8v0.9h-23.8zM227.8 874.2h23.8v1h-23.8zM251.6 874.2h23.8v1h-23.8zM251.6 914h23.8v1.2h-23.8zM227.8 935.1h23.8v0.8h-23.8zM436.7 757h23.7v0.8h-23.7zM460.4 818.2h23.7v1.2h-23.7zM436.7 832.9h23.7v0.8h-23.7zM484.1 662.1h23.7v0.3h-23.7zM507.9 722.8h23.7v1.5h-23.7zM484.1 913.8h23.7v1h-23.7zM507.9 919.1h23.7v0.8h-23.7zM531.6 640h23.7v1h-23.7zM555.3 640h23.7v1h-23.7zM531.6 642.2h23.7v0.6h-23.7zM555.3 644.8h23.7v0.8h-23.7zM531.6 650.8h23.7v1h-23.7zM531.6 691.1h23.7v1.2h-23.7zM531.6 771.6h23.7v1h-23.7zM555.3 852.5h23.7v1.2h-23.7zM602.8 661.5h23.7v0.2h-23.7zM579 820.7h23.7v0.8h-23.7zM602.8 820.7h23.7v0.8h-23.7z"/>
<path fill="#3ca218" d="M85.3 809.1h23.8v1h-23.8zM109 866.6h23.8v1h-23.8zM85.3 903.9h23.8v1h-23.8zM109 936.9h23.8v1h-23.8zM156.6 705.8h23.8v1h-23.8zM132.8 842h23.8v0.8h-23.8zM204.1 706.1h23.8v1.5h-23.8zM204.1 776h23.8v0.8h-23.8zM227.8 708.3h23.8v1h-23.8zM251.6 763.5h23.8v0.6h-23.8zM460.4 711h23.7v1h-23.7zM436.7 841.6h23.7v0.4h-23.7zM507.9 656.6h23.7v0.8h-23.7zM507.9 657.4h23.7v1h-23.7zM507.9 790.1h23.7v1.2h-23.7zM484.1 898.7h23.7v0.3h-23.7zM507.9 898.7h23.7v0.3h-23.7zM555.3 840h23.7v1.2h-23.7zM555.3 928.5h23.7v1.5h-23.7zM602.8 691.1h23.7v1h-23.7z"/>
<path fill="#842a06" d="M85.3 859.5h23.8v1.2h-23.8zM109 925.2h23.8v1.5h-23.8zM156.6 800h23.8v1h-23.8zM156.6 801h23.8v0.8h-23.8zM180.3 859.7h23.8v1.5h-23.8zM180.3 899.1h23.8v1.5h-23.8zM227.8 644.9h23.8v0.4h-23.8zM227.8 645.3h23.8v1.5h-23.8zM227.8 699.4h23.8v0.1h-23.8zM251.6 699.4h23.8v0.1h-23.8zM227.8 733.2h23.8v0.8h-23.8zM227.8 803h23.8v1.5h-23.8zM251.6 839.5h23.8v1.1h-23.8zM227.8 856.7h23.8v1h-23.8zM251.6 856.7h23.8v1h-23.8zM227.8 860.9h23.8v0.7h-23.8zM227.8 880h23.8v1h-23.8zM251.6 952.3h23.8v1h-23.8zM436.7 675.3h23.7v1h-23.7zM436.7 691.6h23.7v0.9h-23.7zM460.4 806.8h23.7v0.8h-23.7zM484.1 719.5h23.7v0.5h-23.7zM507.9 719.5h23.7v0.5h-23.7zM507.9 746.6h23.7v1.2h-23.7zM507.9 787.3h23.7v1h-23.7zM531.6 667.8h23.7v0.2h-23.7zM555.3 697h23.7v1.2h-23.7zM555.3 725.7h23.7v1h-23.7zM555.3 729.4h23.7v1h-23.7zM555.3 848.3h23.7v1.5h-23.7zM555.3 945.8h23.7v1h-23.7zM579 664.5h23.7v0.8h-23.7zM579 777.4h23.7v1h-23.7zM579 792.8h23.7v1h-23.7zM602.8 806.3h23.7v1.5h-23.7zM602.8 836.4h23.7v1h-23.7z"/>
<path fill="#72480c" d="M85.3 861.6h23.8v1.5h-23.8zM132.8 723h23.8v1.5h-23.8zM132.8 814h23.8v1.2h-23.8zM156.6 892h23.8v1h-23.8zM180.3 712.1h23.8v1h-23.8zM180.3 765.7h23.8v1h-23.8zM180.3 890.7h23.8v1.5h-23.8zM204.1 955.5h23.8v0.5h-23.8zM227.8 795.2h23.8v1h-23.8zM251.6 795.2h23.8v1h-23.8zM436.7 673.3h23.7v1h-23.7zM436.7 800.8h23.7v1h-23.7zM460.4 800.8h23.7v1h-23.7zM507.9 641.5h23.7v0.5h-23.7zM507.9 828.7h23.7v1h-23.7zM484.1 831.9h23.7v0.8h-23.7z"/>
<path fill="#72360c" d="M85.3 899.6h23.8v0.8h-23.8zM132.8 685.8h23.8v1h-23.8zM156.6 696.3h23.8v1h-23.8zM132.8 704.5h23.8v0.8h-23.8zM132.8 718.3h23.8v1.2h-23.8zM132.8 849.7h23.8v1.2h-23.8zM156.6 897.6h23.8v1h-23.8zM180.3 715.9h23.8v1h-23.8zM180.3 803h23.8v1h-23.8zM180.3 810.7h23.8v1h-23.8zM180.3 875.4h23.8v1.5h-23.8zM180.3 888.9h23.8v1h-23.8zM227.8 640h23.8v1.2h-23.8zM227.8 653.3h23.8v0.8h-23.8zM227.8 677.2h23.8v1.3h-23.8zM251.6 712.1h23.8v1h-23.8zM251.6 767.1h23.8v1.2h-23.8zM251.6 789.2h23.8v0.8h-23.8zM227.8 851.1h23.8v0.8h-23.8zM227.8 852.9h23.8v0.3h-23.8zM227.8 885.1h23.8v1.5h-23.8zM227.8 889.9h23.8v1h-23.8zM227.8 910.2h23.8v0.8h-23.8zM460.4 678.7h23.7v1h-23.7zM436.7 689.3h23.7v1.5h-23.7zM460.4 699h23.7v1h-23.7zM436.7 746.6h23.7v1.2h-23.7zM460.4 746.6h23.7v1.2h-23.7zM436.7 747.8h23.7v0.8h-23.7zM436.7 798.3h23.7v0.8h-23.7zM436.7 801.8h23.7v0.8h-23.7zM436.7 822h23.7v0.8h-23.7zM460.4 828.7h23.7v1.2h-23.7zM436.7 830.9h23.7v1h-23.7zM507.9 649.8h23.7v0.8h-23.7zM484.1 664.9h23.7v0.3h-23.7zM484.1 676.4h23.7v1h-23.7zM484.1 688.3h23.7v1h-23.7zM484.1 691.1h23.7v1.4h-23.7zM484.1 705.5h23.7v0.3h-23.7zM484.1 714.2h23.7v1.5h-23.7zM484.1 755h23.7v1h-23.7zM507.9 835.7h23.7v1.2h-23.7zM555.3 667h23.7v0.8h-23.7zM555.3 676.1h23.7v1h-23.7zM531.6 780.2h23.7v1.2h-23.7zM531.6 797h23.7v1.5h-23.7zM531.6 801.8h23.7v1.5h-23.7zM531.6 865.8h23.7v1.5h-23.7zM531.6 916.6h23.7v1h-23.7zM555.3 920.6h23.7v0.8h-23.7zM602.8 680h23.7v1.2h-23.7zM602.8 681.2h23.7v0.8h-23.7zM602.8 695.5h23.7v0.5h-23.7zM602.8 750.4h23.7v1.2h-23.7zM579 778.4h23.7v0.8h-23.7zM602.8 780.4h23.7v1.2h-23.7zM579 782.6h23.7v0.4h-23.7zM602.8 896.5h23.7v1.1h-23.7z"/>
<path fill="#a8360c" d="M109 927.5h23.8v0.9h-23.8zM156.6 646h23.8v1.2h-23.8zM204.1 800h23.8v1.5h-23.8zM251.6 698.2h23.8v1.2h-23.8zM460.4 664.2h23.7v1h-23.7zM460.4 883.2h23.7v0.8h-23.7zM484.1 681h23.7v1h-23.7zM507.9 681h23.7v1h-23.7zM507.9 904.6h23.7v0.8h-23.7zM555.3 664.4h23.7v0.1h-23.7zM531.6 675.1h23.7v1h-23.7zM602.8 714.2h23.7v0.8h-23.7zM579 793.8h23.7v1.2h-23.7zM602.8 895.7h23.7v0.8h-23.7z"/>
<path fill="#961e06" d="M132.8 739.6h23.8v1h-23.8zM227.8 722h23.8v1h-23.8zM251.6 722h23.8v1h-23.8zM507.9 702.1h23.7v0.2h-23.7zM531.6 687.5h23.7v0.1h-23.7zM531.6 718.2h23.7v1.5h-23.7zM555.3 718.2h23.7v1.5h-23.7zM602.8 661.7h23.7v1h-23.7zM579 685.8h23.7v1.5h-23.7zM602.8 783h23.7v1.5h-23.7zM579 943.8h23.7v1h-23.7zM602.8 946.3h23.7v1h-23.7z"/>
<path fill="#901e06" d="M156.6 739.6h23.8v1h-23.8zM484.1 702.1h23.7v0.2h-23.7zM507.9 736h23.7v0.8h-23.7zM602.8 685.8h23.7v1.5h-23.7zM579 783h23.7v1.5h-23.7zM602.8 852.3h23.7v0.2h-23.7zM579 946.3h23.7v1h-23.7zM602.8 951.1h23.7v0.4h-23.7z"/>
<path fill="#7e2406" d="M132.8 740.6h23.8v0.8h-23.8zM251.6 723h23.8v1h-23.8zM251.6 726.2h23.8v1.5h-23.8zM251.6 802h23.8v1h-23.8zM227.8 899.3h23.8v1.2h-23.8zM251.6 900.5h23.8v1h-23.8zM507.9 889.2h23.7v1.2h-23.7zM484.1 891.6h23.7v0.4h-23.7zM579 697.5h23.7v0.8h-23.7zM602.8 697.5h23.7v0.8h-23.7zM579 784.5h23.7v0.8h-23.7z"/>
<path fill="#842406" d="M156.6 740.6h23.8v0.8h-23.8zM227.8 723h23.8v1h-23.8zM227.8 726.2h23.8v1.5h-23.8zM227.8 900.5h23.8v1h-23.8zM531.6 715.2h23.7v0.8h-23.7z"/>
<path fill="#901206" d="M132.8 742.4h23.8v1h-23.8zM132.8 743.4h23.8v1h-23.8zM180.3 741.3h23.8v1h-23.8zM204.1 741.3h23.8v1h-23.8zM180.3 742.3h23.8v0.8h-23.8zM251.6 741.3h23.8v1.2h-23.8zM227.8 800h23.8v1h-23.8zM251.6 800h23.8v1h-23.8zM251.6 801h23.8v1h-23.8zM227.8 898.3h23.8v1h-23.8zM484.1 698.9h23.7v1.2h-23.7zM507.9 734h23.7v1h-23.7zM484.1 735h23.7v1h-23.7zM507.9 735h23.7v1h-23.7zM484.1 890.4h23.7v1.2h-23.7zM531.6 684.8h23.7v1.2h-23.7zM555.3 717h23.7v1.2h-23.7zM555.3 864.3h23.7v1.5h-23.7zM555.3 889.5h23.7v1h-23.7zM579 698.3h23.7v1.5h-23.7zM602.8 786.9h23.7v1h-23.7zM579 948.3h23.7v1h-23.7z"/>
<path fill="#8a1206" d="M156.6 742.4h23.8v1h-23.8zM156.6 743.4h23.8v1h-23.8zM251.6 740.3h23.8v1h-23.8zM251.6 742.5h23.8v0.6h-23.8zM251.6 804.5h23.8v0.5h-23.8zM251.6 898.3h23.8v1h-23.8zM436.7 734h23.7v1h-23.7zM436.7 890.4h23.7v1.5h-23.7zM507.9 697.4h23.7v1.5h-23.7zM507.9 890.4h23.7v1.2h-23.7zM531.6 891.3h23.7v0.7h-23.7zM579 663.9h23.7v0.6h-23.7zM579 700.6h23.7v1h-23.7zM579 786.9h23.7v1h-23.7zM579 850.8h23.7v1.5h-23.7zM579 947.3h23.7v1h-23.7zM602.8 947.3h23.7v1h-23.7zM602.8 948.3h23.7v1h-23.7z"/>
<path fill="#7e3c0c" d="M132.8 760h23.8v0.6h-23.8zM156.6 760h23.8v0.6h-23.8zM180.3 722h23.8v1.5h-23.8zM204.1 722h23.8v1.5h-23.8zM180.3 723.5h23.8v1h-23.8zM204.1 801.5h23.8v1.5h-23.8zM180.3 912.9h23.8v0.1h-23.8zM227.8 924.8h23.8v1.2h-23.8zM227.8 926h23.8v1.2h-23.8zM251.6 926h23.8v1.2h-23.8zM436.7 882h23.7v1.2h-23.7zM460.4 882h23.7v1.2h-23.7zM484.1 695h23.7v0.8h-23.7zM484.1 695.8h23.7v0.8h-23.7zM507.9 695.8h23.7v0.8h-23.7zM484.1 727h23.7v1.5h-23.7zM555.3 673.6h23.7v1.5h-23.7zM531.6 869.3h23.7v0.7h-23.7zM555.3 882.5h23.7v1h-23.7zM579 654.1h23.7v1h-23.7zM579 674.4h23.7v0.8h-23.7z"/>
<path fill="#96360c" d="M132.8 823.3h23.8v1h-23.8zM132.8 925h23.8v1h-23.8zM204.1 926.3h23.8v1.5h-23.8zM180.3 928.8h23.8v1h-23.8zM251.6 923.6h23.8v1.2h-23.8zM436.7 883.2h23.7v0.8h-23.7zM555.3 810.1h23.7v1h-23.7zM531.6 838.4h23.7v0.8h-23.7zM602.8 676.2h23.7v0.8h-23.7zM602.8 677h23.7v1h-23.7zM602.8 716.5h23.7v0.8h-23.7zM579 767.4h23.7v1.5h-23.7z"/>
<path fill="#8a420c" d="M132.8 824.3h23.8v0.8h-23.8zM204.1 723.5h23.8v1h-23.8zM251.6 924.8h23.8v1.2h-23.8zM484.1 730.8h23.7v0.4h-23.7zM579 655.1h23.7v0.3h-23.7zM602.8 655.1h23.7v0.3h-23.7zM602.8 674.4h23.7v0.8h-23.7zM579 874.2h23.7v1h-23.7zM602.8 874.2h23.7v1h-23.7zM602.8 881.5h23.7v1h-23.7zM579 894.7h23.7v1h-23.7zM602.8 894.7h23.7v1h-23.7zM602.8 926.5h23.7v0.5h-23.7z"/>
<path fill="#843c0c" d="M156.6 824.3h23.8v0.8h-23.8zM180.3 801.5h23.8v1.5h-23.8zM484.1 662.4h23.7v1.5h-23.7zM507.9 695h23.7v0.8h-23.7zM507.9 727h23.7v1.5h-23.7zM507.9 730.8h23.7v0.4h-23.7zM531.6 673.6h23.7v1.5h-23.7zM555.3 869.3h23.7v0.7h-23.7zM531.6 882.5h23.7v1h-23.7zM579 881.5h23.7v1h-23.7zM579 923.2h23.7v1.5h-23.7zM602.8 923.2h23.7v1.5h-23.7zM579 926.5h23.7v0.5h-23.7z"/>
<path fill="#726012" d="M156.6 826.4h23.8v1.5h-23.8zM204.1 645.3h23.8v1.5h-23.8zM204.1 656.6h23.8v0.9h-23.8zM204.1 676.4h23.8v1h-23.8zM180.3 764.9h23.8v0.8h-23.8zM204.1 785.8h23.8v1.5h-23.8zM227.8 690.8h23.8v0.3h-23.8zM227.8 709.3h23.8v1h-23.8zM251.6 757.7h23.8v0.8h-23.8zM251.6 796.2h23.8v1.5h-23.8zM460.4 701.2h23.7v1h-23.7zM436.7 819.4h23.7v1h-23.7zM436.7 820.4h23.7v0.6h-23.7zM460.4 934.3h23.7v1h-23.7zM507.9 666.2h23.7v1h-23.7zM484.1 843.5h23.7v1.2h-23.7zM531.6 654.3h23.7v0.8h-23.7zM555.3 659h23.7v1h-23.7zM531.6 770.4h23.7v1.2h-23.7zM531.6 831.6h23.7v1.5h-23.7zM531.6 937.3h23.7v1h-23.7zM531.6 938.3h23.7v1h-23.7zM579 642.8h23.7v0.8h-23.7zM602.8 720h23.7v1h-23.7z"/>
<path fill="#963006" d="M156.6 927.5h23.8v0.9h-23.8zM251.6 645.3h23.8v1.5h-23.8zM460.4 719h23.7v1h-23.7zM436.7 851h23.7v0.8h-23.7zM531.6 808.1h23.7v1.2h-23.7zM531.6 874.2h23.7v1h-23.7zM531.6 947.8h23.7v1h-23.7zM555.3 950.6h23.7v0.8h-23.7zM602.8 777.4h23.7v1h-23.7z"/>
<path fill="#6c6c18" d="M132.8 945.2h23.8v1h-23.8zM227.8 916.7h23.8v1.2h-23.8zM484.1 722.8h23.7v1.5h-23.7zM484.1 818.2h23.7v1h-23.7zM484.1 924.2h23.7v0.8h-23.7zM555.3 687.6h23.7v1h-23.7z"/>
<path fill="#4e8418" d="M180.3 730.5h23.8v0.7h-23.8zM460.4 684h23.7v0.8h-23.7zM436.7 848.3h23.7v0.7h-23.7zM460.4 855.3h23.7v1h-23.7zM507.9 933.3h23.7v0.8h-23.7zM531.6 847.2h23.7v1h-23.7zM602.8 710h23.7v1.5h-23.7z"/>
<path fill="#9c1e06" d="M180.3 740.3h23.8v1h-23.8zM204.1 740.3h23.8v1h-23.8zM484.1 736h23.7v0.8h-23.7zM555.3 687.5h23.7v0.1h-23.7zM531.6 714.2h23.7v1h-23.7zM555.3 714.2h23.7v1h-23.7zM579 661.7h23.7v1h-23.7zM579 852.3h23.7v0.2h-23.7zM602.8 943.8h23.7v1h-23.7zM579 951.1h23.7v0.4h-23.7z"/>
<path fill="#841200" d="M204.1 742.3h23.8v0.8h-23.8zM227.8 724h23.8v1h-23.8zM251.6 724h23.8v1h-23.8zM227.8 740.3h23.8v1h-23.8zM227.8 741.3h23.8v1.2h-23.8zM460.4 734h23.7v1h-23.7zM460.4 889.2h23.7v1.2h-23.7zM460.4 890.4h23.7v1.5h-23.7zM507.9 698.9h23.7v1.2h-23.7zM484.1 700.1h23.7v1h-23.7zM507.9 700.1h23.7v1h-23.7zM484.1 734h23.7v1h-23.7zM555.3 684.8h23.7v1.2h-23.7zM531.6 686h23.7v1.5h-23.7zM555.3 686h23.7v1.5h-23.7zM531.6 717h23.7v1.2h-23.7zM555.3 719.7h23.7v0.3h-23.7zM531.6 860.8h23.7v1.5h-23.7zM555.3 860.8h23.7v1.5h-23.7zM531.6 862.3h23.7v1h-23.7zM531.6 864.3h23.7v1.5h-23.7zM531.6 889.5h23.7v1h-23.7zM531.6 890.5h23.7v0.8h-23.7zM555.3 890.5h23.7v0.8h-23.7zM602.8 663.9h23.7v0.6h-23.7zM579 687.3h23.7v0.3h-23.7zM602.8 687.3h23.7v0.3h-23.7zM602.8 698.3h23.7v1.5h-23.7zM602.8 700.6h23.7v1h-23.7zM602.8 850.8h23.7v1.5h-23.7z"/>
<path fill="#727818" d="M180.3 755.7h23.8v1.5h-23.8zM204.1 788.5h23.8v0.8h-23.8zM227.8 914h23.8v1.2h-23.8zM555.3 835.6h23.7v0.8h-23.7z"/>
<path fill="#8a1200" d="M180.3 790h23.8v1.2h-23.8zM204.1 790h23.8v1.2h-23.8zM227.8 742.5h23.8v0.6h-23.8zM227.8 801h23.8v1h-23.8zM227.8 804.5h23.8v0.5h-23.8zM436.7 889.2h23.7v1.2h-23.7zM531.6 719.7h23.7v0.3h-23.7zM555.3 891.3h23.7v0.7h-23.7zM579 848.3h23.7v1.5h-23.7zM602.8 848.3h23.7v1.5h-23.7z"/>
<path fill="#782406" d="M180.3 792.2h23.8v1.2h-23.8zM204.1 792.2h23.8v1.2h-23.8zM227.8 802h23.8v1h-23.8zM251.6 803h23.8v1.5h-23.8zM251.6 899.3h23.8v1.2h-23.8zM484.1 889.2h23.7v1.2h-23.7zM507.9 891.6h23.7v0.4h-23.7zM555.3 715.2h23.7v0.8h-23.7zM531.6 716h23.7v1h-23.7zM555.3 716h23.7v1h-23.7zM579 699.8h23.7v0.8h-23.7zM602.8 699.8h23.7v0.8h-23.7zM602.8 784.5h23.7v0.8h-23.7z"/>
<path fill="#369612" d="M227.8 682.8h23.8v1.3h-23.8zM227.8 831.4h23.8v0.1h-23.8zM484.1 931.6h23.7v1h-23.7z"/>
<path fill="#8a3c0c" d="M507.9 662.4h23.7v1.5h-23.7z"/>
<path fill="#7e1200" d="M484.1 697.4h23.7v1.5h-23.7zM555.3 862.3h23.7v1h-23.7z"/>
<path fill="#66420c" d="M555.3 845.7h23.7v0.5h-23.7z"/></g>
<text transform="translate(96.8,964.6) rotate(-90) scale(1.09,1)" text-anchor="end" style="font-family:&quot;Liberation Sans&quot;,sans-serif;font-size:7.4px" fill="#111">[38, OB]</text>
<text transform="translate(120.5,964.6) rotate(-90) scale(1.09,1)" text-anchor="end" style="font-family:&quot;Liberation Sans&quot;,sans-serif;font-size:7.4px" fill="#111">[37, OB]</text>
<text transform="translate(144.2,964.6) rotate(-90) scale(1.09,1)" text-anchor="end" style="font-family:&quot;Liberation Sans&quot;,sans-serif;font-size:7.4px" fill="#111">[35, OB]</text>
<text transform="translate(167.9,964.6) rotate(-90) scale(1.09,1)" text-anchor="end" style="font-family:&quot;Liberation Sans&quot;,sans-serif;font-size:7.4px" fill="#111">[32, OB]</text>
<text transform="translate(191.6,964.6) rotate(-90) scale(1.09,1)" text-anchor="end" style="font-family:&quot;Liberation Sans&quot;,sans-serif;font-size:7.4px" fill="#111">[27, NC]</text>
<text transform="translate(215.3,964.6) rotate(-90) scale(1.09,1)" text-anchor="end" style="font-family:&quot;Liberation Sans&quot;,sans-serif;font-size:7.4px" fill="#111">[26, NC]</text>
<text transform="translate(239.0,964.6) rotate(-90) scale(1.09,1)" text-anchor="end" style="font-family:&quot;Liberation Sans&quot;,sans-serif;font-size:7.4px" fill="#111">[22, NC]</text>
<text transform="translate(262.8,964.6) rotate(-90) scale(1.09,1)" text-anchor="end" style="font-family:&quot;Liberation Sans&quot;,sans-serif;font-size:7.4px" fill="#111">[21, NC]</text>
<text transform="translate(448.2,964.6) rotate(-90) scale(1.09,1)" text-anchor="end" style="font-family:&quot;Liberation Sans&quot;,sans-serif;font-size:7.4px" fill="#111">[27, NC]</text>
<text transform="translate(471.9,964.6) rotate(-90) scale(1.09,1)" text-anchor="end" style="font-family:&quot;Liberation Sans&quot;,sans-serif;font-size:7.4px" fill="#111">[26, NC]</text>
<text transform="translate(495.6,964.6) rotate(-90) scale(1.09,1)" text-anchor="end" style="font-family:&quot;Liberation Sans&quot;,sans-serif;font-size:7.4px" fill="#111">[21, NC]</text>
<text transform="translate(519.4,964.6) rotate(-90) scale(1.09,1)" text-anchor="end" style="font-family:&quot;Liberation Sans&quot;,sans-serif;font-size:7.4px" fill="#111">[22, NC]</text>
<text transform="translate(543.1,964.6) rotate(-90) scale(1.09,1)" text-anchor="end" style="font-family:&quot;Liberation Sans&quot;,sans-serif;font-size:7.4px" fill="#111">[32, OB]</text>
<text transform="translate(566.8,964.6) rotate(-90) scale(1.09,1)" text-anchor="end" style="font-family:&quot;Liberation Sans&quot;,sans-serif;font-size:7.4px" fill="#111">[35, OB]</text>
<text transform="translate(590.5,964.6) rotate(-90) scale(1.09,1)" text-anchor="end" style="font-family:&quot;Liberation Sans&quot;,sans-serif;font-size:7.4px" fill="#111">[38, OB]</text>
<text transform="translate(614.2,964.6) rotate(-90) scale(1.09,1)" text-anchor="end" style="font-family:&quot;Liberation Sans&quot;,sans-serif;font-size:7.4px" fill="#111">[37, OB]</text>
</svg>
</body></html>
